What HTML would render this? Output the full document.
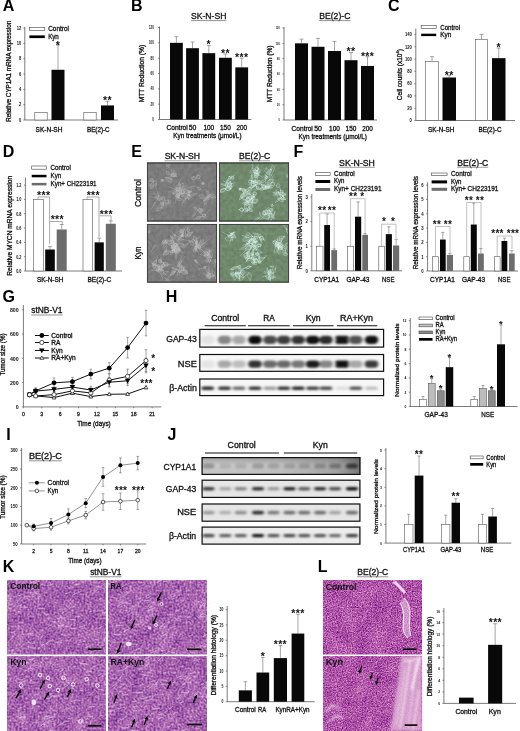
<!DOCTYPE html><html><head><meta charset="utf-8"><style>html,body{margin:0;padding:0;background:#fff;overflow:hidden;}svg{display:block;filter:blur(0.35px);}</style></head><body>
<svg width="520" height="731" viewBox="0 0 520 731" font-family="Liberation Sans, sans-serif">
<defs>
<filter id="texK" x="0" y="0" width="1" height="1" filterUnits="objectBoundingBox" color-interpolation-filters="sRGB">
 <feTurbulence type="fractalNoise" baseFrequency="0.5" numOctaves="2" seed="3" result="hi0"/>
 <feColorMatrix in="hi0" type="matrix" values="1 0 0 0 0  1 0 0 0 0  1 0 0 0 0  0 0 0 0 1" result="hi"/>
 <feTurbulence type="fractalNoise" baseFrequency="0.07" numOctaves="2" seed="8" result="lo0"/>
 <feColorMatrix in="lo0" type="matrix" values="1 0 0 0 0  1 0 0 0 0  1 0 0 0 0  0 0 0 0 1" result="lo"/>
 <feComposite in="hi" in2="lo" operator="arithmetic" k1="0" k2="0.85" k3="0.3" k4="-0.075"/>
 <feColorMatrix type="matrix" values="0.75 0 0 0 0.276  0.85 0 0 0 -0.033  0.5 0 0 0 0.432  0 0 0 0 1"/>
</filter>
<filter id="texL" x="0" y="0" width="1" height="1" filterUnits="objectBoundingBox" color-interpolation-filters="sRGB">
 <feTurbulence type="fractalNoise" baseFrequency="0.8" numOctaves="2" seed="5" result="hi0"/>
 <feColorMatrix in="hi0" type="matrix" values="1 0 0 0 0  1 0 0 0 0  1 0 0 0 0  0 0 0 0 1" result="hi"/>
 <feTurbulence type="fractalNoise" baseFrequency="0.07" numOctaves="2" seed="12" result="lo0"/>
 <feColorMatrix in="lo0" type="matrix" values="1 0 0 0 0  1 0 0 0 0  1 0 0 0 0  0 0 0 0 1" result="lo"/>
 <feComposite in="hi" in2="lo" operator="arithmetic" k1="0" k2="0.9" k3="0.2" k4="-0.05"/>
 <feColorMatrix type="matrix" values="0.8 0 0 0 0.282  1.0 0 0 0 -0.163  0.6 0 0 0 0.359  0 0 0 0 1"/>
</filter>
<filter id="texG" x="0" y="0" width="1" height="1" filterUnits="objectBoundingBox" color-interpolation-filters="sRGB">
 <feTurbulence type="fractalNoise" baseFrequency="0.25" numOctaves="2" seed="9"/>
 <feColorMatrix type="matrix" values="0.12 0 0 0 0.426  0.12 0 0 0 0.426  0.12 0 0 0 0.426  0 0 0 0 1"/>
</filter>
<filter id="texGr" x="0" y="0" width="1" height="1" filterUnits="objectBoundingBox" color-interpolation-filters="sRGB">
 <feTurbulence type="fractalNoise" baseFrequency="0.25" numOctaves="2" seed="11"/>
 <feColorMatrix type="matrix" values="0.12 0 0 0 0.379  0.12 0 0 0 0.473  0.12 0 0 0 0.364  0 0 0 0 1"/>
</filter>
<filter id="bl1" x="-50%" y="-50%" width="200%" height="200%"><feGaussianBlur stdDeviation="1.0"/></filter>
<filter id="bl07" x="-50%" y="-50%" width="200%" height="200%"><feGaussianBlur stdDeviation="0.7"/></filter>
<filter id="blband" x="-50%" y="-50%" width="200%" height="200%"><feGaussianBlur stdDeviation="1.5 1.0"/></filter>
<filter id="bl04" x="-50%" y="-50%" width="200%" height="200%"><feGaussianBlur stdDeviation="0.4"/></filter>

</defs>
<text x="2.80" y="11.40" font-size="16" text-anchor="start" font-weight="bold" fill="#000">A</text>
<line x1="24.80" y1="27.00" x2="24.80" y2="120.00" stroke="#444" stroke-width="0.7"/>
<line x1="23.30" y1="120.00" x2="24.80" y2="120.00" stroke="#444" stroke-width="0.6"/>
<text x="21.30" y="121.80" font-size="5.0" text-anchor="end" font-weight="bold" textLength="2.25" lengthAdjust="spacingAndGlyphs" fill="#111">0</text>
<line x1="23.30" y1="104.67" x2="24.80" y2="104.67" stroke="#444" stroke-width="0.6"/>
<text x="21.30" y="106.47" font-size="5.0" text-anchor="end" font-weight="bold" textLength="2.25" lengthAdjust="spacingAndGlyphs" fill="#111">2</text>
<line x1="23.30" y1="89.33" x2="24.80" y2="89.33" stroke="#444" stroke-width="0.6"/>
<text x="21.30" y="91.13" font-size="5.0" text-anchor="end" font-weight="bold" textLength="2.25" lengthAdjust="spacingAndGlyphs" fill="#111">4</text>
<line x1="23.30" y1="74.00" x2="24.80" y2="74.00" stroke="#444" stroke-width="0.6"/>
<text x="21.30" y="75.80" font-size="5.0" text-anchor="end" font-weight="bold" textLength="2.25" lengthAdjust="spacingAndGlyphs" fill="#111">6</text>
<line x1="23.30" y1="58.67" x2="24.80" y2="58.67" stroke="#444" stroke-width="0.6"/>
<text x="21.30" y="60.47" font-size="5.0" text-anchor="end" font-weight="bold" textLength="2.25" lengthAdjust="spacingAndGlyphs" fill="#111">8</text>
<line x1="23.30" y1="43.33" x2="24.80" y2="43.33" stroke="#444" stroke-width="0.6"/>
<text x="21.30" y="45.13" font-size="5.0" text-anchor="end" font-weight="bold" textLength="4.5" lengthAdjust="spacingAndGlyphs" fill="#111">10</text>
<line x1="23.30" y1="28.00" x2="24.80" y2="28.00" stroke="#444" stroke-width="0.6"/>
<text x="21.30" y="29.80" font-size="5.0" text-anchor="end" font-weight="bold" textLength="4.5" lengthAdjust="spacingAndGlyphs" fill="#111">12</text>
<line x1="24.80" y1="120.00" x2="118.00" y2="120.00" stroke="#444" stroke-width="0.7"/>
<rect x="34.80" y="112.33" width="12.40" height="7.67" fill="#fff" stroke="#555" stroke-width="0.6"/>
<line x1="58.00" y1="69.78" x2="58.00" y2="44.87" stroke="#777" stroke-width="0.65"/>
<line x1="56.00" y1="44.87" x2="60.00" y2="44.87" stroke="#777" stroke-width="0.65"/>
<rect x="51.50" y="69.78" width="13.00" height="50.22" fill="#080808"/>
<text x="58.00" y="48.86" font-size="10.5" text-anchor="middle" font-weight="bold" fill="#111" letter-spacing="0.3">*</text>
<rect x="83.80" y="112.33" width="12.40" height="7.67" fill="#fff" stroke="#555" stroke-width="0.6"/>
<line x1="107.50" y1="105.43" x2="107.50" y2="101.22" stroke="#777" stroke-width="0.65"/>
<line x1="105.50" y1="101.22" x2="109.50" y2="101.22" stroke="#777" stroke-width="0.65"/>
<rect x="101.00" y="105.43" width="13.00" height="14.57" fill="#080808"/>
<text x="107.50" y="104.36" font-size="10.5" text-anchor="middle" font-weight="bold" fill="#111" letter-spacing="0.3">**</text>
<rect x="29.40" y="27.30" width="15.40" height="3.20" fill="#fff" stroke="#444" stroke-width="0.6"/>
<text x="48.20" y="31.10" font-size="7.2" text-anchor="start" textLength="20.7" lengthAdjust="spacingAndGlyphs" fill="#111" stroke="#111" stroke-width="0.3">Control</text>
<rect x="29.40" y="35.40" width="15.40" height="2.70" fill="#000"/>
<text x="48.20" y="38.90" font-size="7.2" text-anchor="start" textLength="10.6" lengthAdjust="spacingAndGlyphs" fill="#111" stroke="#111" stroke-width="0.3">Kyn</text>
<text x="49.00" y="132.00" font-size="6.8" text-anchor="middle" textLength="26.9" lengthAdjust="spacingAndGlyphs" fill="#111" stroke="#111" stroke-width="0.3">SK-N-SH</text>
<text x="98.30" y="132.00" font-size="6.8" text-anchor="middle" textLength="22.7" lengthAdjust="spacingAndGlyphs" fill="#111" stroke="#111" stroke-width="0.3">BE(2)-C</text>
<text x="10.90" y="71.20" font-size="6.5" text-anchor="middle" textLength="101" lengthAdjust="spacingAndGlyphs" fill="#111" stroke="#111" stroke-width="0.3" transform="rotate(-90 10.9 71.2)">Relative CYP1A1 mRNA expression</text>
<text x="131.00" y="11.40" font-size="16" text-anchor="start" font-weight="bold" fill="#000">B</text>
<line x1="159.50" y1="26.50" x2="159.50" y2="119.50" stroke="#444" stroke-width="0.7"/>
<line x1="158.00" y1="119.50" x2="159.50" y2="119.50" stroke="#444" stroke-width="0.6"/>
<text x="153.80" y="121.12" font-size="4.5" text-anchor="end" font-weight="bold" textLength="1.6" lengthAdjust="spacingAndGlyphs" fill="#111">0</text>
<line x1="158.00" y1="104.17" x2="159.50" y2="104.17" stroke="#444" stroke-width="0.6"/>
<text x="153.80" y="105.79" font-size="4.5" text-anchor="end" font-weight="bold" textLength="3.19" lengthAdjust="spacingAndGlyphs" fill="#111">20</text>
<line x1="158.00" y1="88.83" x2="159.50" y2="88.83" stroke="#444" stroke-width="0.6"/>
<text x="153.80" y="90.45" font-size="4.5" text-anchor="end" font-weight="bold" textLength="3.19" lengthAdjust="spacingAndGlyphs" fill="#111">40</text>
<line x1="158.00" y1="73.50" x2="159.50" y2="73.50" stroke="#444" stroke-width="0.6"/>
<text x="153.80" y="75.12" font-size="4.5" text-anchor="end" font-weight="bold" textLength="3.19" lengthAdjust="spacingAndGlyphs" fill="#111">60</text>
<line x1="158.00" y1="58.17" x2="159.50" y2="58.17" stroke="#444" stroke-width="0.6"/>
<text x="153.80" y="59.79" font-size="4.5" text-anchor="end" font-weight="bold" textLength="3.19" lengthAdjust="spacingAndGlyphs" fill="#111">80</text>
<line x1="158.00" y1="42.83" x2="159.50" y2="42.83" stroke="#444" stroke-width="0.6"/>
<text x="153.80" y="44.45" font-size="4.5" text-anchor="end" font-weight="bold" textLength="4.79" lengthAdjust="spacingAndGlyphs" fill="#111">100</text>
<line x1="158.00" y1="27.50" x2="159.50" y2="27.50" stroke="#444" stroke-width="0.6"/>
<text x="153.80" y="29.12" font-size="4.5" text-anchor="end" font-weight="bold" textLength="4.79" lengthAdjust="spacingAndGlyphs" fill="#111">120</text>
<line x1="159.50" y1="119.50" x2="251.30" y2="119.50" stroke="#444" stroke-width="0.7"/>
<line x1="176.40" y1="42.83" x2="176.40" y2="36.70" stroke="#777" stroke-width="0.65"/>
<line x1="174.40" y1="36.70" x2="178.40" y2="36.70" stroke="#777" stroke-width="0.65"/>
<rect x="170.00" y="42.83" width="12.80" height="76.67" fill="#080808"/>
<line x1="192.50" y1="48.20" x2="192.50" y2="42.07" stroke="#777" stroke-width="0.65"/>
<line x1="190.50" y1="42.07" x2="194.50" y2="42.07" stroke="#777" stroke-width="0.65"/>
<rect x="186.10" y="48.20" width="12.80" height="71.30" fill="#080808"/>
<line x1="208.80" y1="53.18" x2="208.80" y2="45.52" stroke="#777" stroke-width="0.65"/>
<line x1="206.80" y1="45.52" x2="210.80" y2="45.52" stroke="#777" stroke-width="0.65"/>
<rect x="202.40" y="53.18" width="12.80" height="66.32" fill="#080808"/>
<text x="208.80" y="48.37" font-size="10.5" text-anchor="middle" font-weight="bold" fill="#111" letter-spacing="0.3">*</text>
<line x1="225.40" y1="57.78" x2="225.40" y2="53.95" stroke="#777" stroke-width="0.65"/>
<line x1="223.40" y1="53.95" x2="227.40" y2="53.95" stroke="#777" stroke-width="0.65"/>
<rect x="219.00" y="57.78" width="12.80" height="61.72" fill="#080808"/>
<text x="225.40" y="56.81" font-size="10.5" text-anchor="middle" font-weight="bold" fill="#111" letter-spacing="0.3">**</text>
<line x1="241.70" y1="67.37" x2="241.70" y2="58.17" stroke="#777" stroke-width="0.65"/>
<line x1="239.70" y1="58.17" x2="243.70" y2="58.17" stroke="#777" stroke-width="0.65"/>
<rect x="235.30" y="67.37" width="12.80" height="52.13" fill="#080808"/>
<text x="241.70" y="61.02" font-size="10.5" text-anchor="middle" font-weight="bold" fill="#111" letter-spacing="0.3">***</text>
<text x="208.70" y="18.60" font-size="8.6" text-anchor="middle" textLength="35.4" lengthAdjust="spacingAndGlyphs" fill="#111" stroke="#111" stroke-width="0.3">SK-N-SH</text>
<line x1="191.00" y1="20.60" x2="226.40" y2="20.60" stroke="#666" stroke-width="0.7"/>
<text x="144.30" y="73.60" font-size="6.3" text-anchor="middle" textLength="57.5" lengthAdjust="spacingAndGlyphs" fill="#111" stroke="#111" stroke-width="0.3" transform="rotate(-90 144.3 73.6)">MTT Reduction (%)</text>
<text x="177.10" y="129.90" font-size="6.8" text-anchor="middle" textLength="21.2" lengthAdjust="spacingAndGlyphs" fill="#111" stroke="#111" stroke-width="0.3">Control</text>
<text x="192.50" y="129.90" font-size="6.8" text-anchor="middle" textLength="7.7" lengthAdjust="spacingAndGlyphs" fill="#111" stroke="#111" stroke-width="0.3">50</text>
<text x="208.80" y="129.90" font-size="6.8" text-anchor="middle" textLength="10.8" lengthAdjust="spacingAndGlyphs" fill="#111" stroke="#111" stroke-width="0.3">100</text>
<text x="225.40" y="129.90" font-size="6.8" text-anchor="middle" textLength="10.8" lengthAdjust="spacingAndGlyphs" fill="#111" stroke="#111" stroke-width="0.3">150</text>
<text x="241.70" y="129.90" font-size="6.8" text-anchor="middle" textLength="10.6" lengthAdjust="spacingAndGlyphs" fill="#111" stroke="#111" stroke-width="0.3">200</text>
<text x="207.40" y="137.50" font-size="6.8" text-anchor="middle" textLength="68.3" lengthAdjust="spacingAndGlyphs" fill="#111" stroke="#111" stroke-width="0.3">Kyn treatments (&#956;mol/L)</text>
<line x1="284.00" y1="27.00" x2="284.00" y2="120.00" stroke="#444" stroke-width="0.7"/>
<line x1="282.50" y1="120.00" x2="284.00" y2="120.00" stroke="#444" stroke-width="0.6"/>
<text x="279.80" y="121.44" font-size="4.0" text-anchor="end" font-weight="bold" textLength="1.34" lengthAdjust="spacingAndGlyphs" fill="#111">0</text>
<line x1="282.50" y1="104.67" x2="284.00" y2="104.67" stroke="#444" stroke-width="0.6"/>
<text x="279.80" y="106.11" font-size="4.0" text-anchor="end" font-weight="bold" textLength="2.68" lengthAdjust="spacingAndGlyphs" fill="#111">20</text>
<line x1="282.50" y1="89.33" x2="284.00" y2="89.33" stroke="#444" stroke-width="0.6"/>
<text x="279.80" y="90.77" font-size="4.0" text-anchor="end" font-weight="bold" textLength="2.68" lengthAdjust="spacingAndGlyphs" fill="#111">40</text>
<line x1="282.50" y1="74.00" x2="284.00" y2="74.00" stroke="#444" stroke-width="0.6"/>
<text x="279.80" y="75.44" font-size="4.0" text-anchor="end" font-weight="bold" textLength="2.68" lengthAdjust="spacingAndGlyphs" fill="#111">60</text>
<line x1="282.50" y1="58.67" x2="284.00" y2="58.67" stroke="#444" stroke-width="0.6"/>
<text x="279.80" y="60.11" font-size="4.0" text-anchor="end" font-weight="bold" textLength="2.68" lengthAdjust="spacingAndGlyphs" fill="#111">80</text>
<line x1="282.50" y1="43.33" x2="284.00" y2="43.33" stroke="#444" stroke-width="0.6"/>
<text x="279.80" y="44.77" font-size="4.0" text-anchor="end" font-weight="bold" textLength="4.02" lengthAdjust="spacingAndGlyphs" fill="#111">100</text>
<line x1="282.50" y1="28.00" x2="284.00" y2="28.00" stroke="#444" stroke-width="0.6"/>
<text x="279.80" y="29.44" font-size="4.0" text-anchor="end" font-weight="bold" textLength="4.02" lengthAdjust="spacingAndGlyphs" fill="#111">120</text>
<line x1="284.00" y1="120.00" x2="377.00" y2="120.00" stroke="#444" stroke-width="0.7"/>
<line x1="301.50" y1="43.33" x2="301.50" y2="39.12" stroke="#777" stroke-width="0.65"/>
<line x1="299.50" y1="39.12" x2="303.50" y2="39.12" stroke="#777" stroke-width="0.65"/>
<rect x="295.00" y="43.33" width="13.00" height="76.67" fill="#080808"/>
<line x1="318.00" y1="46.78" x2="318.00" y2="38.35" stroke="#777" stroke-width="0.65"/>
<line x1="316.00" y1="38.35" x2="320.00" y2="38.35" stroke="#777" stroke-width="0.65"/>
<rect x="311.50" y="46.78" width="13.00" height="73.22" fill="#080808"/>
<line x1="334.50" y1="51.00" x2="334.50" y2="41.42" stroke="#777" stroke-width="0.65"/>
<line x1="332.50" y1="41.42" x2="336.50" y2="41.42" stroke="#777" stroke-width="0.65"/>
<rect x="328.00" y="51.00" width="13.00" height="69.00" fill="#080808"/>
<line x1="351.00" y1="60.20" x2="351.00" y2="52.53" stroke="#777" stroke-width="0.65"/>
<line x1="349.00" y1="52.53" x2="353.00" y2="52.53" stroke="#777" stroke-width="0.65"/>
<rect x="344.50" y="60.20" width="13.00" height="59.80" fill="#080808"/>
<text x="351.00" y="55.39" font-size="10.5" text-anchor="middle" font-weight="bold" fill="#111" letter-spacing="0.3">**</text>
<line x1="367.50" y1="65.95" x2="367.50" y2="56.75" stroke="#777" stroke-width="0.65"/>
<line x1="365.50" y1="56.75" x2="369.50" y2="56.75" stroke="#777" stroke-width="0.65"/>
<rect x="361.00" y="65.95" width="13.00" height="54.05" fill="#080808"/>
<text x="367.50" y="59.61" font-size="10.5" text-anchor="middle" font-weight="bold" fill="#111" letter-spacing="0.3">***</text>
<text x="334.80" y="18.60" font-size="8.6" text-anchor="middle" textLength="31.2" lengthAdjust="spacingAndGlyphs" fill="#111" stroke="#111" stroke-width="0.3">BE(2)-C</text>
<line x1="319.20" y1="20.60" x2="350.40" y2="20.60" stroke="#666" stroke-width="0.7"/>
<text x="272.00" y="73.90" font-size="6.3" text-anchor="middle" textLength="56.8" lengthAdjust="spacingAndGlyphs" fill="#111" stroke="#111" stroke-width="0.3" transform="rotate(-90 272 73.9)">MTT Reduction (%)</text>
<text x="302.20" y="131.10" font-size="6.8" text-anchor="middle" textLength="21.2" lengthAdjust="spacingAndGlyphs" fill="#111" stroke="#111" stroke-width="0.3">Control</text>
<text x="318.00" y="131.10" font-size="6.8" text-anchor="middle" textLength="7.7" lengthAdjust="spacingAndGlyphs" fill="#111" stroke="#111" stroke-width="0.3">50</text>
<text x="334.50" y="131.10" font-size="6.8" text-anchor="middle" textLength="10.8" lengthAdjust="spacingAndGlyphs" fill="#111" stroke="#111" stroke-width="0.3">100</text>
<text x="351.00" y="131.10" font-size="6.8" text-anchor="middle" textLength="10.8" lengthAdjust="spacingAndGlyphs" fill="#111" stroke="#111" stroke-width="0.3">150</text>
<text x="367.50" y="131.10" font-size="6.8" text-anchor="middle" textLength="10.6" lengthAdjust="spacingAndGlyphs" fill="#111" stroke="#111" stroke-width="0.3">200</text>
<text x="332.75" y="138.70" font-size="6.8" text-anchor="middle" textLength="68.3" lengthAdjust="spacingAndGlyphs" fill="#111" stroke="#111" stroke-width="0.3">Kyn treatments (&#956;mol/L)</text>
<text x="388.10" y="11.40" font-size="16" text-anchor="start" font-weight="bold" fill="#000">C</text>
<line x1="415.80" y1="28.50" x2="415.80" y2="120.50" stroke="#444" stroke-width="0.7"/>
<line x1="414.30" y1="120.50" x2="415.80" y2="120.50" stroke="#444" stroke-width="0.6"/>
<text x="411.90" y="122.25" font-size="4.875" text-anchor="end" font-weight="bold" textLength="2.29" lengthAdjust="spacingAndGlyphs" fill="#111">0</text>
<line x1="414.30" y1="108.21" x2="415.80" y2="108.21" stroke="#444" stroke-width="0.6"/>
<text x="411.90" y="109.97" font-size="4.875" text-anchor="end" font-weight="bold" textLength="4.58" lengthAdjust="spacingAndGlyphs" fill="#111">20</text>
<line x1="414.30" y1="95.93" x2="415.80" y2="95.93" stroke="#444" stroke-width="0.6"/>
<text x="411.90" y="97.68" font-size="4.875" text-anchor="end" font-weight="bold" textLength="4.58" lengthAdjust="spacingAndGlyphs" fill="#111">40</text>
<line x1="414.30" y1="83.64" x2="415.80" y2="83.64" stroke="#444" stroke-width="0.6"/>
<text x="411.90" y="85.40" font-size="4.875" text-anchor="end" font-weight="bold" textLength="4.58" lengthAdjust="spacingAndGlyphs" fill="#111">60</text>
<line x1="414.30" y1="71.36" x2="415.80" y2="71.36" stroke="#444" stroke-width="0.6"/>
<text x="411.90" y="73.11" font-size="4.875" text-anchor="end" font-weight="bold" textLength="4.58" lengthAdjust="spacingAndGlyphs" fill="#111">80</text>
<line x1="414.30" y1="59.07" x2="415.80" y2="59.07" stroke="#444" stroke-width="0.6"/>
<text x="411.90" y="60.83" font-size="4.875" text-anchor="end" font-weight="bold" textLength="6.87" lengthAdjust="spacingAndGlyphs" fill="#111">100</text>
<line x1="414.30" y1="46.79" x2="415.80" y2="46.79" stroke="#444" stroke-width="0.6"/>
<text x="411.90" y="48.54" font-size="4.875" text-anchor="end" font-weight="bold" textLength="6.87" lengthAdjust="spacingAndGlyphs" fill="#111">120</text>
<line x1="414.30" y1="34.50" x2="415.80" y2="34.50" stroke="#444" stroke-width="0.6"/>
<text x="411.90" y="36.26" font-size="4.875" text-anchor="end" font-weight="bold" textLength="6.87" lengthAdjust="spacingAndGlyphs" fill="#111">140</text>
<line x1="415.80" y1="120.50" x2="515.00" y2="120.50" stroke="#444" stroke-width="0.7"/>
<line x1="432.00" y1="61.53" x2="432.00" y2="56.61" stroke="#777" stroke-width="0.65"/>
<line x1="430.00" y1="56.61" x2="434.00" y2="56.61" stroke="#777" stroke-width="0.65"/>
<rect x="425.30" y="61.53" width="13.40" height="58.97" fill="#fff" stroke="#555" stroke-width="0.6"/>
<line x1="449.25" y1="77.50" x2="449.25" y2="75.66" stroke="#777" stroke-width="0.65"/>
<line x1="447.25" y1="75.66" x2="451.25" y2="75.66" stroke="#777" stroke-width="0.65"/>
<rect x="442.50" y="77.50" width="13.50" height="43.00" fill="#080808"/>
<text x="449.25" y="79.36" font-size="10.5" text-anchor="middle" font-weight="bold" fill="#111" letter-spacing="0.3">**</text>
<line x1="481.50" y1="39.41" x2="481.50" y2="34.50" stroke="#777" stroke-width="0.65"/>
<line x1="479.50" y1="34.50" x2="483.50" y2="34.50" stroke="#777" stroke-width="0.65"/>
<rect x="475.30" y="39.41" width="12.40" height="81.09" fill="#fff" stroke="#555" stroke-width="0.6"/>
<line x1="498.75" y1="58.15" x2="498.75" y2="48.01" stroke="#777" stroke-width="0.65"/>
<line x1="496.75" y1="48.01" x2="500.75" y2="48.01" stroke="#777" stroke-width="0.65"/>
<rect x="492.00" y="58.15" width="13.50" height="62.35" fill="#080808"/>
<text x="498.75" y="51.36" font-size="10.5" text-anchor="middle" font-weight="bold" fill="#111" letter-spacing="0.3">*</text>
<rect x="421.20" y="25.60" width="15.00" height="2.90" fill="#fff" stroke="#444" stroke-width="0.6"/>
<text x="440.20" y="29.60" font-size="7.2" text-anchor="start" textLength="20" lengthAdjust="spacingAndGlyphs" fill="#111" stroke="#111" stroke-width="0.3">Control</text>
<rect x="421.20" y="33.70" width="15.00" height="2.40" fill="#000"/>
<text x="440.20" y="37.30" font-size="7.2" text-anchor="start" textLength="11" lengthAdjust="spacingAndGlyphs" fill="#111" stroke="#111" stroke-width="0.3">Kyn</text>
<text x="441.20" y="131.60" font-size="6.8" text-anchor="middle" textLength="26.3" lengthAdjust="spacingAndGlyphs" fill="#111" stroke="#111" stroke-width="0.3">SK-N-SH</text>
<text x="490.00" y="131.60" font-size="6.8" text-anchor="middle" textLength="23" lengthAdjust="spacingAndGlyphs" fill="#111" stroke="#111" stroke-width="0.3">BE(2)-C</text>
<text x="401.60" y="74.60" font-size="6.5" text-anchor="middle" fill="#111" stroke="#111" stroke-width="0.3" transform="rotate(-90 401.6 74.6)">Cell counts (x10<tspan font-size="4.2" dy="-2.5">4</tspan><tspan dy="2.5">)</tspan></text>
<text x="2.70" y="157.40" font-size="16" text-anchor="start" font-weight="bold" fill="#000">D</text>
<line x1="25.40" y1="177.50" x2="25.40" y2="271.00" stroke="#444" stroke-width="0.7"/>
<line x1="23.90" y1="271.00" x2="25.40" y2="271.00" stroke="#444" stroke-width="0.6"/>
<text x="21.50" y="272.85" font-size="5.125" text-anchor="end" font-weight="bold" textLength="5.32" lengthAdjust="spacingAndGlyphs" fill="#111">0.0</text>
<line x1="23.90" y1="256.68" x2="25.40" y2="256.68" stroke="#444" stroke-width="0.6"/>
<text x="21.50" y="258.53" font-size="5.125" text-anchor="end" font-weight="bold" textLength="5.32" lengthAdjust="spacingAndGlyphs" fill="#111">0.2</text>
<line x1="23.90" y1="242.36" x2="25.40" y2="242.36" stroke="#444" stroke-width="0.6"/>
<text x="21.50" y="244.21" font-size="5.125" text-anchor="end" font-weight="bold" textLength="5.32" lengthAdjust="spacingAndGlyphs" fill="#111">0.4</text>
<line x1="23.90" y1="228.04" x2="25.40" y2="228.04" stroke="#444" stroke-width="0.6"/>
<text x="21.50" y="229.89" font-size="5.125" text-anchor="end" font-weight="bold" textLength="5.32" lengthAdjust="spacingAndGlyphs" fill="#111">0.6</text>
<line x1="23.90" y1="213.72" x2="25.40" y2="213.72" stroke="#444" stroke-width="0.6"/>
<text x="21.50" y="215.56" font-size="5.125" text-anchor="end" font-weight="bold" textLength="5.32" lengthAdjust="spacingAndGlyphs" fill="#111">0.8</text>
<line x1="23.90" y1="199.40" x2="25.40" y2="199.40" stroke="#444" stroke-width="0.6"/>
<text x="21.50" y="201.25" font-size="5.125" text-anchor="end" font-weight="bold" textLength="5.32" lengthAdjust="spacingAndGlyphs" fill="#111">1.0</text>
<line x1="23.90" y1="185.08" x2="25.40" y2="185.08" stroke="#444" stroke-width="0.6"/>
<text x="21.50" y="186.93" font-size="5.125" text-anchor="end" font-weight="bold" textLength="5.32" lengthAdjust="spacingAndGlyphs" fill="#111">1.2</text>
<line x1="25.40" y1="271.00" x2="122.00" y2="271.00" stroke="#444" stroke-width="0.7"/>
<line x1="50.00" y1="249.52" x2="50.00" y2="246.66" stroke="#777" stroke-width="0.65"/>
<line x1="48.00" y1="246.66" x2="52.00" y2="246.66" stroke="#777" stroke-width="0.65"/>
<rect x="45.20" y="249.52" width="9.60" height="21.48" fill="#080808"/>
<line x1="61.70" y1="229.47" x2="61.70" y2="224.46" stroke="#777" stroke-width="0.65"/>
<line x1="59.70" y1="224.46" x2="63.70" y2="224.46" stroke="#777" stroke-width="0.65"/>
<rect x="56.70" y="229.47" width="10.00" height="41.53" fill="#6c6c6c"/>
<rect x="33.40" y="199.40" width="10.00" height="71.60" fill="#fff" stroke="#555" stroke-width="0.6"/>
<line x1="99.20" y1="242.36" x2="99.20" y2="238.06" stroke="#777" stroke-width="0.65"/>
<line x1="97.20" y1="238.06" x2="101.20" y2="238.06" stroke="#777" stroke-width="0.65"/>
<rect x="94.60" y="242.36" width="9.20" height="28.64" fill="#080808"/>
<line x1="110.80" y1="223.74" x2="110.80" y2="220.88" stroke="#777" stroke-width="0.65"/>
<line x1="108.80" y1="220.88" x2="112.80" y2="220.88" stroke="#777" stroke-width="0.65"/>
<rect x="105.80" y="223.74" width="10.00" height="47.26" fill="#6c6c6c"/>
<rect x="83.00" y="199.40" width="9.40" height="71.60" fill="#fff" stroke="#555" stroke-width="0.6"/>
<polyline points="38.00,199.40 38.00,197.00 49.60,197.00 49.60,243.60" stroke="#888" stroke-width="0.7" fill="none"/>
<polyline points="50.00,221.50 62.30,221.50 62.30,225.00" stroke="#888" stroke-width="0.7" fill="none"/>
<polyline points="87.00,199.40 87.00,197.00 99.00,197.00 99.00,237.00" stroke="#888" stroke-width="0.7" fill="none"/>
<polyline points="99.60,215.80 111.00,215.80 111.00,220.60" stroke="#888" stroke-width="0.7" fill="none"/>
<text x="43.70" y="199.05" font-size="10.5" text-anchor="middle" font-weight="bold" fill="#111" letter-spacing="0.3">***</text>
<text x="57.30" y="223.35" font-size="10.5" text-anchor="middle" font-weight="bold" fill="#111" letter-spacing="0.3">***</text>
<text x="93.30" y="199.05" font-size="10.5" text-anchor="middle" font-weight="bold" fill="#111" letter-spacing="0.3">***</text>
<text x="106.30" y="217.85" font-size="10.5" text-anchor="middle" font-weight="bold" fill="#111" letter-spacing="0.3">***</text>
<rect x="31.70" y="166.00" width="14.80" height="3.20" fill="#fff" stroke="#444" stroke-width="0.6"/>
<text x="50.60" y="170.10" font-size="7.2" text-anchor="start" textLength="20.2" lengthAdjust="spacingAndGlyphs" fill="#111" stroke="#111" stroke-width="0.3">Control</text>
<rect x="31.70" y="174.80" width="14.80" height="2.50" fill="#000"/>
<text x="50.60" y="178.20" font-size="7.2" text-anchor="start" textLength="10.5" lengthAdjust="spacingAndGlyphs" fill="#111" stroke="#111" stroke-width="0.3">Kyn</text>
<rect x="31.70" y="182.90" width="14.80" height="2.50" fill="#6c6c6c"/>
<text x="50.60" y="185.90" font-size="7.2" text-anchor="start" textLength="46" lengthAdjust="spacingAndGlyphs" fill="#111" stroke="#111" stroke-width="0.3">Kyn+ CH223191</text>
<text x="50.20" y="281.60" font-size="6.8" text-anchor="middle" textLength="26.6" lengthAdjust="spacingAndGlyphs" fill="#111" stroke="#111" stroke-width="0.3">SK-N-SH</text>
<text x="99.30" y="281.60" font-size="6.8" text-anchor="middle" textLength="23.7" lengthAdjust="spacingAndGlyphs" fill="#111" stroke="#111" stroke-width="0.3">BE(2)-C</text>
<text x="11.70" y="225.80" font-size="6.5" text-anchor="middle" textLength="100" lengthAdjust="spacingAndGlyphs" fill="#111" stroke="#111" stroke-width="0.3" transform="rotate(-90 11.7 225.8)">Relative MYCN mRNA expression</text>
<text x="131.20" y="157.40" font-size="16" text-anchor="start" font-weight="bold" fill="#000">E</text>
<text x="182.30" y="159.20" font-size="8.4" text-anchor="middle" textLength="35.3" lengthAdjust="spacingAndGlyphs" fill="#111" stroke="#111" stroke-width="0.3">SK-N-SH</text>
<line x1="164.50" y1="160.80" x2="200.00" y2="160.80" stroke="#777" stroke-width="0.7"/>
<text x="254.60" y="159.20" font-size="8.4" text-anchor="middle" textLength="31" lengthAdjust="spacingAndGlyphs" fill="#111" stroke="#111" stroke-width="0.3">BE(2)-C</text>
<line x1="239.00" y1="160.80" x2="270.20" y2="160.80" stroke="#777" stroke-width="0.7"/>
<text x="140.50" y="193.00" font-size="8.4" text-anchor="middle" textLength="28" lengthAdjust="spacingAndGlyphs" fill="#111" stroke="#111" stroke-width="0.3" transform="rotate(-90 140.5 193)">Control</text>
<text x="140.50" y="253.00" font-size="8.4" text-anchor="middle" textLength="13" lengthAdjust="spacingAndGlyphs" fill="#111" stroke="#111" stroke-width="0.3" transform="rotate(-90 140.5 253)">Kyn</text>
<clipPath id="clip101"><rect x="147" y="162.8" width="70" height="58.4"/></clipPath>
<rect x="147" y="162.8" width="70" height="58.4" filter="url(#texG)"/>
<g clip-path="url(#clip101)">
<g filter="url(#bl07)" fill="#cfcfcf">
<path d="M182.6 189.1 Q176.8 186.3 175.9 189.5 Q177.1 192.5 182.6 189.1Z" opacity="0.16"/>
<path d="M191.0 187.4 Q188.3 188.7 191.4 190.2 Q194.0 187.8 191.0 187.4Z" opacity="0.06"/>
<path d="M176.7 190.3 Q172.0 192.1 172.6 194.5 Q174.9 195.0 176.7 190.3Z" opacity="0.09"/>
<path d="M181.8 193.2 Q180.2 197.0 183.7 195.3 Q185.8 191.9 181.8 193.2Z" opacity="0.12"/>
<path d="M182.7 196.5 Q178.0 194.1 177.6 200.2 Q183.6 201.7 182.7 196.5Z" opacity="0.10"/>
<path d="M186.3 197.8 Q182.9 198.7 182.3 202.9 Q186.2 201.3 186.3 197.8Z" opacity="0.10"/>
<path d="M183.3 190.9 Q184.1 194.6 186.4 193.4 Q187.1 190.9 183.3 190.9Z" opacity="0.14"/>
<path d="M187.8 194.4 Q187.0 196.7 190.3 196.1 Q189.7 192.8 187.8 194.4Z" opacity="0.16"/>
<path d="M179.7 192.4 Q174.0 195.3 176.4 198.1 Q180.0 198.8 179.7 192.4Z" opacity="0.12"/>
<path d="M176.6 195.9 Q177.7 198.8 180.7 198.7 Q179.7 195.9 176.6 195.9Z" opacity="0.13"/>
<path d="M179.4 189.5 Q174.8 191.2 179.1 195.9 Q183.8 191.5 179.4 189.5Z" opacity="0.17"/>
<path d="M176.6 190.2 Q175.1 196.7 179.5 195.2 Q183.0 192.1 176.6 190.2Z" opacity="0.09"/>
<path d="M188.5 192.7 Q185.1 194.4 188.9 200.2 Q192.0 194.0 188.5 192.7Z" opacity="0.20"/>
<path d="M179.3 182.6 Q177.0 183.9 178.3 185.5 Q180.3 185.1 179.3 182.6Z" opacity="0.06"/>
<path d="M189.8 187.2 Q186.4 183.8 181.9 187.4 Q186.5 190.8 189.8 187.2Z" opacity="0.11"/>
<path d="M177.0 193.3 Q176.7 195.8 179.0 195.9 Q179.5 193.6 177.0 193.3Z" opacity="0.18"/>
<path d="M172.8 192.4 Q175.1 197.9 178.7 197.8 Q178.5 194.2 172.8 192.4Z" opacity="0.09"/>
<path d="M185.8 190.0 Q187.5 194.7 189.9 192.1 Q190.6 188.7 185.8 190.0Z" opacity="0.11"/>
<path d="M181.1 189.0 Q177.5 185.7 173.7 190.6 Q179.2 193.5 181.1 189.0Z" opacity="0.08"/>
<path d="M191.0 191.5 Q189.0 189.4 188.5 192.3 Q190.6 194.3 191.0 191.5Z" opacity="0.20"/>
<path d="M187.1 190.3 Q187.5 193.0 190.3 192.1 Q189.6 189.3 187.1 190.3Z" opacity="0.18"/>
<path d="M185.3 189.0 Q178.4 189.5 179.8 194.2 Q184.5 195.9 185.3 189.0Z" opacity="0.07"/>
<path d="M181.3 191.0 Q180.0 195.3 184.0 193.3 Q185.3 189.1 181.3 191.0Z" opacity="0.14"/>
<path d="M185.2 196.5 Q184.9 201.2 187.7 197.6 Q188.4 193.0 185.2 196.5Z" opacity="0.08"/>
<path d="M183.0 183.4 Q178.6 183.4 179.7 188.5 Q184.8 187.4 183.0 183.4Z" opacity="0.06"/>
<path d="M179.8 182.8 Q173.3 186.8 177.3 189.2 Q181.9 190.1 179.8 182.8Z" opacity="0.09"/>
<path d="M156.5 200.7 Q154.3 200.8 152.8 206.8 Q157.3 202.6 156.5 200.7Z" opacity="0.16"/>
<path d="M161.4 208.2 Q159.4 206.1 155.9 210.9 Q161.9 211.1 161.4 208.2Z" opacity="0.13"/>
<path d="M155.3 198.0 Q155.7 199.8 162.9 199.4 Q156.3 196.4 155.3 198.0Z" opacity="0.10"/>
<path d="M163.6 202.9 Q159.0 200.1 160.8 204.5 Q163.7 208.4 163.6 202.9Z" opacity="0.14"/>
<path d="M165.7 203.3 Q161.5 201.7 162.9 205.4 Q166.0 207.8 165.7 203.3Z" opacity="0.07"/>
<path d="M168.3 200.1 Q163.1 198.9 165.7 203.1 Q170.2 205.1 168.3 200.1Z" opacity="0.11"/>
<path d="M163.3 200.9 Q159.8 200.3 160.4 203.7 Q163.8 204.5 163.3 200.9Z" opacity="0.07"/>
<path d="M158.8 195.5 Q155.4 200.6 160.0 200.6 Q164.2 198.4 158.8 195.5Z" opacity="0.18"/>
<path d="M164.0 197.1 Q161.2 195.2 162.3 199.2 Q166.4 199.3 164.0 197.1Z" opacity="0.11"/>
<path d="M163.6 202.4 Q159.8 204.9 161.1 208.2 Q164.4 206.8 163.6 202.4Z" opacity="0.16"/>
<path d="M206.8 191.3 Q204.1 195.1 209.2 193.5 Q210.5 188.4 206.8 191.3Z" opacity="0.11"/>
<path d="M207.3 194.6 Q210.0 197.4 211.9 196.1 Q211.2 194.0 207.3 194.6Z" opacity="0.12"/>
<path d="M209.3 196.2 Q206.8 193.6 206.4 197.2 Q209.1 199.8 209.3 196.2Z" opacity="0.14"/>
<path d="M209.7 194.4 Q208.5 198.7 215.7 197.9 Q212.7 191.3 209.7 194.4Z" opacity="0.10"/>
<path d="M209.0 197.2 Q203.0 195.4 202.9 200.3 Q206.8 203.2 209.0 197.2Z" opacity="0.14"/>
<path d="M203.2 194.3 Q197.2 193.8 199.5 198.2 Q204.0 200.2 203.2 194.3Z" opacity="0.17"/>
<path d="M208.5 195.9 Q204.3 197.8 203.4 201.3 Q206.9 200.2 208.5 195.9Z" opacity="0.07"/>
<path d="M206.2 202.9 Q203.5 202.4 204.6 204.9 Q207.2 205.4 206.2 202.9Z" opacity="0.09"/>
<path d="M212.7 198.7 Q209.3 202.6 211.6 204.2 Q214.2 203.6 212.7 198.7Z" opacity="0.06"/>
<path d="M209.1 197.2 Q205.7 196.0 203.9 203.1 Q210.7 200.4 209.1 197.2Z" opacity="0.13"/>
<path d="M206.2 216.1 Q203.9 213.5 203.4 217.8 Q207.4 219.3 206.2 216.1Z" opacity="0.08"/>
<path d="M201.1 209.3 Q198.9 211.7 203.0 212.0 Q204.1 208.0 201.1 209.3Z" opacity="0.13"/>
<path d="M205.1 214.4 Q202.7 212.5 202.4 216.4 Q206.3 217.2 205.1 214.4Z" opacity="0.08"/>
<path d="M197.3 209.8 Q199.1 214.2 202.2 214.7 Q201.7 211.6 197.3 209.8Z" opacity="0.13"/>
<path d="M194.2 207.2 Q193.6 209.9 196.4 208.4 Q196.0 205.2 194.2 207.2Z" opacity="0.10"/>
<path d="M197.3 210.8 Q191.8 214.2 192.6 216.5 Q195.0 216.9 197.3 210.8Z" opacity="0.16"/>
<path d="M199.3 208.4 Q197.1 213.1 201.4 211.6 Q204.5 208.4 199.3 208.4Z" opacity="0.17"/>
<path d="M201.4 216.6 Q196.9 215.4 196.1 218.6 Q198.9 220.5 201.4 216.6Z" opacity="0.19"/>
<path d="M166.6 171.5 Q164.7 174.7 169.1 174.9 Q170.1 170.6 166.6 171.5Z" opacity="0.12"/>
<path d="M165.2 177.6 Q168.6 184.8 172.0 181.2 Q173.1 176.5 165.2 177.6Z" opacity="0.18"/>
<path d="M167.4 177.9 Q169.6 180.4 173.4 180.0 Q170.6 177.3 167.4 177.9Z" opacity="0.18"/>
<path d="M171.4 169.9 Q170.6 175.4 176.6 175.1 Q176.9 169.2 171.4 169.9Z" opacity="0.11"/>
<path d="M169.9 174.0 Q172.2 177.2 177.1 176.4 Q173.7 172.9 169.9 174.0Z" opacity="0.20"/>
<path d="M175.8 173.9 Q173.5 170.1 170.1 176.3 Q176.9 178.3 175.8 173.9Z" opacity="0.19"/>
<path d="M156.2 183.2 Q153.9 184.0 155.2 186.5 Q157.7 185.2 156.2 183.2Z" opacity="0.08"/>
<path d="M153.4 181.8 Q148.3 185.1 150.7 188.9 Q155.0 187.6 153.4 181.8Z" opacity="0.17"/>
<path d="M153.7 179.2 Q149.3 176.3 150.4 180.7 Q153.1 184.4 153.7 179.2Z" opacity="0.16"/>
<path d="M149.7 180.4 Q152.0 183.0 156.4 181.5 Q152.7 178.7 149.7 180.4Z" opacity="0.15"/>
<path d="M196.4 193.6 Q190.8 193.6 190.4 196.2 Q192.6 197.7 196.4 193.6Z" opacity="0.16"/>
<path d="M153.1 193.2 Q155.9 198.2 158.7 196.1 Q158.8 192.6 153.1 193.2Z" opacity="0.10"/>
<path d="M170.5 201.1 Q166.8 200.2 168.0 203.5 Q171.2 204.8 170.5 201.1Z" opacity="0.18"/>
<path d="M197.4 175.3 Q194.6 179.0 199.4 178.5 Q202.0 174.3 197.4 175.3Z" opacity="0.16"/>
<path d="M175.0 189.1 Q177.5 193.2 179.9 189.7 Q178.5 185.6 175.0 189.1Z" opacity="0.09"/>
<path d="M166.7 162.8 Q164.1 167.1 168.8 167.5 Q171.7 163.7 166.7 162.8Z" opacity="0.20"/>
<path d="M153.6 218.4 Q149.5 219.2 147.4 223.2 Q151.7 222.1 153.6 218.4Z" opacity="0.16"/>
<path d="M197.2 187.1 Q198.1 191.1 200.4 189.7 Q201.2 187.2 197.2 187.1Z" opacity="0.07"/>
<path d="M193.8 176.7 Q189.0 177.6 193.6 180.3 Q198.4 178.1 193.8 176.7Z" opacity="0.06"/>
<path d="M199.9 217.1 Q197.3 214.4 193.5 219.5 Q199.8 220.9 199.9 217.1Z" opacity="0.08"/>
</g>
<g filter="url(#bl04)" fill="none" stroke="#cfcfcf" stroke-linecap="round" opacity="0.7">
<path d="M182.6 189.1 Q176.8 186.3 175.9 189.5 Q177.1 192.5 182.6 189.1Z" stroke-width="0.7" opacity="0.59"/>
<path d="M191.0 187.4 Q188.3 188.7 191.4 190.2 Q194.0 187.8 191.0 187.4Z" stroke-width="0.8" opacity="0.38"/>
<line x1="191.4" y1="190.2" x2="191.6" y2="192.2" stroke-width="0.5" opacity="0.7"/>
<path d="M176.7 190.3 Q172.0 192.1 172.6 194.5 Q174.9 195.0 176.7 190.3Z" stroke-width="0.8" opacity="0.55"/>
<path d="M181.8 193.2 Q180.2 197.0 183.7 195.3 Q185.8 191.9 181.8 193.2Z" stroke-width="0.8" opacity="0.61"/>
<path d="M182.7 196.5 Q178.0 194.1 177.6 200.2 Q183.6 201.7 182.7 196.5Z" stroke-width="0.6" opacity="0.51"/>
<line x1="182.7" y1="196.5" x2="187.5" y2="192.6" stroke-width="0.5" opacity="0.7"/>
<path d="M186.3 197.8 Q182.9 198.7 182.3 202.9 Q186.2 201.3 186.3 197.8Z" stroke-width="0.7" opacity="0.48"/>
<line x1="182.3" y1="202.9" x2="182.0" y2="205.5" stroke-width="0.5" opacity="0.7"/>
<path d="M183.3 190.9 Q184.1 194.6 186.4 193.4 Q187.1 190.9 183.3 190.9Z" stroke-width="0.4" opacity="0.67"/>
<path d="M187.8 194.4 Q187.0 196.7 190.3 196.1 Q189.7 192.8 187.8 194.4Z" stroke-width="0.7" opacity="0.30"/>
<line x1="190.3" y1="196.1" x2="192.2" y2="198.6" stroke-width="0.5" opacity="0.7"/>
<path d="M179.7 192.4 Q174.0 195.3 176.4 198.1 Q180.0 198.8 179.7 192.4Z" stroke-width="0.7" opacity="0.56"/>
<line x1="176.4" y1="198.1" x2="175.0" y2="203.3" stroke-width="0.5" opacity="0.7"/>
<path d="M176.6 195.9 Q177.7 198.8 180.7 198.7 Q179.7 195.9 176.6 195.9Z" stroke-width="0.8" opacity="0.61"/>
<line x1="180.7" y1="198.7" x2="184.4" y2="201.7" stroke-width="0.5" opacity="0.7"/>
<path d="M179.4 189.5 Q174.8 191.2 179.1 195.9 Q183.8 191.5 179.4 189.5Z" stroke-width="0.9" opacity="0.54"/>
<path d="M176.6 190.2 Q175.1 196.7 179.5 195.2 Q183.0 192.1 176.6 190.2Z" stroke-width="0.8" opacity="0.35"/>
<line x1="176.6" y1="190.2" x2="174.1" y2="185.0" stroke-width="0.5" opacity="0.7"/>
<path d="M188.5 192.7 Q185.1 194.4 188.9 200.2 Q192.0 194.0 188.5 192.7Z" stroke-width="0.6" opacity="0.64"/>
<line x1="188.5" y1="192.7" x2="187.0" y2="191.1" stroke-width="0.5" opacity="0.7"/>
<path d="M179.3 182.6 Q177.0 183.9 178.3 185.5 Q180.3 185.1 179.3 182.6Z" stroke-width="0.7" opacity="0.34"/>
<line x1="179.3" y1="182.6" x2="181.3" y2="178.9" stroke-width="0.5" opacity="0.7"/>
<path d="M189.8 187.2 Q186.4 183.8 181.9 187.4 Q186.5 190.8 189.8 187.2Z" stroke-width="0.5" opacity="0.44"/>
<line x1="189.8" y1="187.2" x2="194.3" y2="186.1" stroke-width="0.5" opacity="0.7"/>
<path d="M177.0 193.3 Q176.7 195.8 179.0 195.9 Q179.5 193.6 177.0 193.3Z" stroke-width="0.7" opacity="0.47"/>
<path d="M172.8 192.4 Q175.1 197.9 178.7 197.8 Q178.5 194.2 172.8 192.4Z" stroke-width="0.7" opacity="0.52"/>
<path d="M185.8 190.0 Q187.5 194.7 189.9 192.1 Q190.6 188.7 185.8 190.0Z" stroke-width="0.5" opacity="0.61"/>
<line x1="185.8" y1="190.0" x2="182.0" y2="186.8" stroke-width="0.5" opacity="0.7"/>
<path d="M181.1 189.0 Q177.5 185.7 173.7 190.6 Q179.2 193.5 181.1 189.0Z" stroke-width="0.6" opacity="0.41"/>
<line x1="173.7" y1="190.6" x2="168.8" y2="191.9" stroke-width="0.5" opacity="0.7"/>
<path d="M191.0 191.5 Q189.0 189.4 188.5 192.3 Q190.6 194.3 191.0 191.5Z" stroke-width="0.9" opacity="0.68"/>
<line x1="188.5" y1="192.3" x2="185.8" y2="193.9" stroke-width="0.5" opacity="0.7"/>
<path d="M187.1 190.3 Q187.5 193.0 190.3 192.1 Q189.6 189.3 187.1 190.3Z" stroke-width="0.7" opacity="0.50"/>
<path d="M185.3 189.0 Q178.4 189.5 179.8 194.2 Q184.5 195.9 185.3 189.0Z" stroke-width="0.9" opacity="0.62"/>
<line x1="179.8" y1="194.2" x2="176.9" y2="198.9" stroke-width="0.5" opacity="0.7"/>
<path d="M181.3 191.0 Q180.0 195.3 184.0 193.3 Q185.3 189.1 181.3 191.0Z" stroke-width="0.9" opacity="0.47"/>
<path d="M185.2 196.5 Q184.9 201.2 187.7 197.6 Q188.4 193.0 185.2 196.5Z" stroke-width="0.5" opacity="0.67"/>
<line x1="187.7" y1="197.6" x2="190.1" y2="198.5" stroke-width="0.5" opacity="0.7"/>
<path d="M183.0 183.4 Q178.6 183.4 179.7 188.5 Q184.8 187.4 183.0 183.4Z" stroke-width="0.8" opacity="0.57"/>
<path d="M179.8 182.8 Q173.3 186.8 177.3 189.2 Q181.9 190.1 179.8 182.8Z" stroke-width="0.9" opacity="0.33"/>
<line x1="177.3" y1="189.2" x2="176.3" y2="193.0" stroke-width="0.5" opacity="0.7"/>
<path d="M156.5 200.7 Q154.3 200.8 152.8 206.8 Q157.3 202.6 156.5 200.7Z" stroke-width="0.5" opacity="0.50"/>
<line x1="152.8" y1="206.8" x2="151.0" y2="209.2" stroke-width="0.5" opacity="0.7"/>
<path d="M161.4 208.2 Q159.4 206.1 155.9 210.9 Q161.9 211.1 161.4 208.2Z" stroke-width="0.9" opacity="0.33"/>
<line x1="161.4" y1="208.2" x2="164.2" y2="207.7" stroke-width="0.5" opacity="0.7"/>
<path d="M155.3 198.0 Q155.7 199.8 162.9 199.4 Q156.3 196.4 155.3 198.0Z" stroke-width="0.5" opacity="0.53"/>
<line x1="155.3" y1="198.0" x2="150.9" y2="196.7" stroke-width="0.5" opacity="0.7"/>
<path d="M163.6 202.9 Q159.0 200.1 160.8 204.5 Q163.7 208.4 163.6 202.9Z" stroke-width="0.9" opacity="0.37"/>
<path d="M165.7 203.3 Q161.5 201.7 162.9 205.4 Q166.0 207.8 165.7 203.3Z" stroke-width="0.7" opacity="0.40"/>
<path d="M168.3 200.1 Q163.1 198.9 165.7 203.1 Q170.2 205.1 168.3 200.1Z" stroke-width="0.8" opacity="0.50"/>
<path d="M163.3 200.9 Q159.8 200.3 160.4 203.7 Q163.8 204.5 163.3 200.9Z" stroke-width="0.4" opacity="0.41"/>
<line x1="160.4" y1="203.7" x2="157.0" y2="208.6" stroke-width="0.5" opacity="0.7"/>
<path d="M158.8 195.5 Q155.4 200.6 160.0 200.6 Q164.2 198.4 158.8 195.5Z" stroke-width="0.8" opacity="0.61"/>
<line x1="158.8" y1="195.5" x2="156.0" y2="188.1" stroke-width="0.5" opacity="0.7"/>
<path d="M164.0 197.1 Q161.2 195.2 162.3 199.2 Q166.4 199.3 164.0 197.1Z" stroke-width="0.8" opacity="0.52"/>
<path d="M163.6 202.4 Q159.8 204.9 161.1 208.2 Q164.4 206.8 163.6 202.4Z" stroke-width="0.8" opacity="0.52"/>
<line x1="163.6" y1="202.4" x2="165.2" y2="197.1" stroke-width="0.5" opacity="0.7"/>
<path d="M206.8 191.3 Q204.1 195.1 209.2 193.5 Q210.5 188.4 206.8 191.3Z" stroke-width="0.5" opacity="0.32"/>
<line x1="206.8" y1="191.3" x2="205.1" y2="189.3" stroke-width="0.5" opacity="0.7"/>
<path d="M207.3 194.6 Q210.0 197.4 211.9 196.1 Q211.2 194.0 207.3 194.6Z" stroke-width="0.9" opacity="0.40"/>
<path d="M209.3 196.2 Q206.8 193.6 206.4 197.2 Q209.1 199.8 209.3 196.2Z" stroke-width="0.6" opacity="0.45"/>
<path d="M209.7 194.4 Q208.5 198.7 215.7 197.9 Q212.7 191.3 209.7 194.4Z" stroke-width="0.9" opacity="0.49"/>
<line x1="209.7" y1="194.4" x2="206.9" y2="191.5" stroke-width="0.5" opacity="0.7"/>
<path d="M209.0 197.2 Q203.0 195.4 202.9 200.3 Q206.8 203.2 209.0 197.2Z" stroke-width="0.5" opacity="0.37"/>
<path d="M203.2 194.3 Q197.2 193.8 199.5 198.2 Q204.0 200.2 203.2 194.3Z" stroke-width="0.6" opacity="0.43"/>
<path d="M208.5 195.9 Q204.3 197.8 203.4 201.3 Q206.9 200.2 208.5 195.9Z" stroke-width="0.8" opacity="0.55"/>
<path d="M206.2 202.9 Q203.5 202.4 204.6 204.9 Q207.2 205.4 206.2 202.9Z" stroke-width="0.6" opacity="0.67"/>
<line x1="204.6" y1="204.9" x2="203.1" y2="206.2" stroke-width="0.5" opacity="0.7"/>
<path d="M212.7 198.7 Q209.3 202.6 211.6 204.2 Q214.2 203.6 212.7 198.7Z" stroke-width="0.5" opacity="0.30"/>
<path d="M209.1 197.2 Q205.7 196.0 203.9 203.1 Q210.7 200.4 209.1 197.2Z" stroke-width="0.4" opacity="0.55"/>
<path d="M206.2 216.1 Q203.9 213.5 203.4 217.8 Q207.4 219.3 206.2 216.1Z" stroke-width="0.5" opacity="0.54"/>
<path d="M201.1 209.3 Q198.9 211.7 203.0 212.0 Q204.1 208.0 201.1 209.3Z" stroke-width="0.6" opacity="0.67"/>
<line x1="201.1" y1="209.3" x2="198.3" y2="206.3" stroke-width="0.5" opacity="0.7"/>
<path d="M205.1 214.4 Q202.7 212.5 202.4 216.4 Q206.3 217.2 205.1 214.4Z" stroke-width="0.9" opacity="0.64"/>
<line x1="205.1" y1="214.4" x2="209.8" y2="209.7" stroke-width="0.5" opacity="0.7"/>
<path d="M197.3 209.8 Q199.1 214.2 202.2 214.7 Q201.7 211.6 197.3 209.8Z" stroke-width="0.5" opacity="0.54"/>
<line x1="197.3" y1="209.8" x2="195.3" y2="209.3" stroke-width="0.5" opacity="0.7"/>
<path d="M194.2 207.2 Q193.6 209.9 196.4 208.4 Q196.0 205.2 194.2 207.2Z" stroke-width="0.8" opacity="0.61"/>
<line x1="196.4" y1="208.4" x2="198.4" y2="209.8" stroke-width="0.5" opacity="0.7"/>
<path d="M197.3 210.8 Q191.8 214.2 192.6 216.5 Q195.0 216.9 197.3 210.8Z" stroke-width="0.7" opacity="0.36"/>
<line x1="197.3" y1="210.8" x2="199.1" y2="208.9" stroke-width="0.5" opacity="0.7"/>
<path d="M199.3 208.4 Q197.1 213.1 201.4 211.6 Q204.5 208.4 199.3 208.4Z" stroke-width="0.7" opacity="0.67"/>
<line x1="201.4" y1="211.6" x2="202.5" y2="214.8" stroke-width="0.5" opacity="0.7"/>
<path d="M201.4 216.6 Q196.9 215.4 196.1 218.6 Q198.9 220.5 201.4 216.6Z" stroke-width="0.9" opacity="0.51"/>
<line x1="201.4" y1="216.6" x2="203.4" y2="214.4" stroke-width="0.5" opacity="0.7"/>
<path d="M166.6 171.5 Q164.7 174.7 169.1 174.9 Q170.1 170.6 166.6 171.5Z" stroke-width="0.6" opacity="0.62"/>
<path d="M165.2 177.6 Q168.6 184.8 172.0 181.2 Q173.1 176.5 165.2 177.6Z" stroke-width="0.6" opacity="0.68"/>
<path d="M167.4 177.9 Q169.6 180.4 173.4 180.0 Q170.6 177.3 167.4 177.9Z" stroke-width="0.4" opacity="0.39"/>
<path d="M171.4 169.9 Q170.6 175.4 176.6 175.1 Q176.9 169.2 171.4 169.9Z" stroke-width="0.6" opacity="0.38"/>
<path d="M169.9 174.0 Q172.2 177.2 177.1 176.4 Q173.7 172.9 169.9 174.0Z" stroke-width="0.9" opacity="0.50"/>
<path d="M175.8 173.9 Q173.5 170.1 170.1 176.3 Q176.9 178.3 175.8 173.9Z" stroke-width="0.7" opacity="0.55"/>
<path d="M156.2 183.2 Q153.9 184.0 155.2 186.5 Q157.7 185.2 156.2 183.2Z" stroke-width="0.8" opacity="0.66"/>
<path d="M153.4 181.8 Q148.3 185.1 150.7 188.9 Q155.0 187.6 153.4 181.8Z" stroke-width="0.6" opacity="0.62"/>
<path d="M153.7 179.2 Q149.3 176.3 150.4 180.7 Q153.1 184.4 153.7 179.2Z" stroke-width="0.7" opacity="0.36"/>
<line x1="150.4" y1="180.7" x2="146.5" y2="181.9" stroke-width="0.5" opacity="0.7"/>
<path d="M149.7 180.4 Q152.0 183.0 156.4 181.5 Q152.7 178.7 149.7 180.4Z" stroke-width="0.5" opacity="0.36"/>
<path d="M196.4 193.6 Q190.8 193.6 190.4 196.2 Q192.6 197.7 196.4 193.6Z" stroke-width="0.8" opacity="0.39"/>
<path d="M153.1 193.2 Q155.9 198.2 158.7 196.1 Q158.8 192.6 153.1 193.2Z" stroke-width="0.6" opacity="0.30"/>
<path d="M170.5 201.1 Q166.8 200.2 168.0 203.5 Q171.2 204.8 170.5 201.1Z" stroke-width="0.5" opacity="0.49"/>
<line x1="168.0" y1="203.5" x2="165.2" y2="205.9" stroke-width="0.5" opacity="0.7"/>
<path d="M197.4 175.3 Q194.6 179.0 199.4 178.5 Q202.0 174.3 197.4 175.3Z" stroke-width="0.9" opacity="0.55"/>
<line x1="199.4" y1="178.5" x2="203.3" y2="183.5" stroke-width="0.5" opacity="0.7"/>
<path d="M175.0 189.1 Q177.5 193.2 179.9 189.7 Q178.5 185.6 175.0 189.1Z" stroke-width="0.8" opacity="0.34"/>
<line x1="175.0" y1="189.1" x2="169.2" y2="187.0" stroke-width="0.5" opacity="0.7"/>
<path d="M166.7 162.8 Q164.1 167.1 168.8 167.5 Q171.7 163.7 166.7 162.8Z" stroke-width="0.7" opacity="0.34"/>
<line x1="166.7" y1="162.8" x2="165.2" y2="156.1" stroke-width="0.5" opacity="0.7"/>
<path d="M153.6 218.4 Q149.5 219.2 147.4 223.2 Q151.7 222.1 153.6 218.4Z" stroke-width="0.8" opacity="0.31"/>
<path d="M197.2 187.1 Q198.1 191.1 200.4 189.7 Q201.2 187.2 197.2 187.1Z" stroke-width="0.8" opacity="0.61"/>
<path d="M193.8 176.7 Q189.0 177.6 193.6 180.3 Q198.4 178.1 193.8 176.7Z" stroke-width="0.8" opacity="0.60"/>
<path d="M199.9 217.1 Q197.3 214.4 193.5 219.5 Q199.8 220.9 199.9 217.1Z" stroke-width="0.4" opacity="0.33"/>
<circle cx="162.4" cy="180.3" r="1.6" fill="#cfcfcf" stroke="none" opacity="0.75" filter="url(#bl07)"/>
<circle cx="203.0" cy="183.2" r="1.6" fill="#cfcfcf" stroke="none" opacity="0.75" filter="url(#bl07)"/>
<circle cx="189.0" cy="194.9" r="1.3" fill="#cfcfcf" stroke="none" opacity="0.75" filter="url(#bl07)"/>
</g></g>
<rect x="147.4" y="163.20000000000002" width="69.2" height="57.6" fill="none" stroke="#3a3a3a" stroke-width="0.9"/>
<clipPath id="clip102"><rect x="219" y="162.8" width="70" height="58.4"/></clipPath>
<rect x="219" y="162.8" width="70" height="58.4" filter="url(#texGr)"/>
<g clip-path="url(#clip102)">
<g filter="url(#bl07)" fill="#d9f6ee">
<path d="M270.7 185.1 Q265.2 182.9 265.2 188.0 Q269.5 190.9 270.7 185.1Z" opacity="0.13"/>
<path d="M269.2 187.3 Q265.5 186.9 265.5 189.0 Q267.1 190.3 269.2 187.3Z" opacity="0.12"/>
<path d="M259.7 172.3 Q253.7 175.2 254.7 177.7 Q257.3 178.5 259.7 172.3Z" opacity="0.07"/>
<path d="M254.4 172.3 Q254.4 174.3 257.5 174.2 Q256.1 171.4 254.4 172.3Z" opacity="0.17"/>
<path d="M273.1 179.7 Q267.4 178.3 267.8 183.1 Q271.9 185.5 273.1 179.7Z" opacity="0.12"/>
<path d="M255.6 169.7 Q252.3 177.0 257.1 177.4 Q261.5 175.3 255.6 169.7Z" opacity="0.18"/>
<path d="M270.9 168.8 Q268.2 169.7 269.2 175.1 Q272.8 170.9 270.9 168.8Z" opacity="0.17"/>
<path d="M256.8 182.3 Q259.1 186.6 261.5 182.4 Q259.4 178.2 256.8 182.3Z" opacity="0.18"/>
<path d="M267.8 186.7 Q269.8 189.7 272.6 187.7 Q270.8 184.8 267.8 186.7Z" opacity="0.19"/>
<path d="M258.3 168.5 Q257.4 171.8 259.7 172.7 Q261.0 170.6 258.3 168.5Z" opacity="0.10"/>
<path d="M253.5 181.6 Q253.8 186.0 256.3 182.4 Q255.9 178.0 253.5 181.6Z" opacity="0.14"/>
<path d="M266.0 186.6 Q261.6 183.5 261.7 188.1 Q264.5 191.7 266.0 186.6Z" opacity="0.14"/>
<path d="M269.8 185.4 Q266.7 184.3 266.3 187.6 Q269.4 188.8 269.8 185.4Z" opacity="0.15"/>
<path d="M253.2 170.3 Q253.0 174.9 258.2 173.7 Q257.4 168.4 253.2 170.3Z" opacity="0.16"/>
<path d="M265.9 179.8 Q263.1 178.3 259.0 183.4 Q265.6 183.0 265.9 179.8Z" opacity="0.17"/>
<path d="M256.6 186.8 Q255.1 190.0 258.2 188.8 Q260.0 186.0 256.6 186.8Z" opacity="0.15"/>
<path d="M251.8 175.1 Q250.1 177.8 251.8 181.9 Q253.5 177.8 251.8 175.1Z" opacity="0.14"/>
<path d="M259.7 180.7 Q253.3 178.5 252.7 183.3 Q256.4 186.6 259.7 180.7Z" opacity="0.14"/>
<path d="M265.8 174.9 Q262.0 176.2 265.2 179.3 Q269.1 177.1 265.8 174.9Z" opacity="0.08"/>
<path d="M266.7 187.1 Q264.4 184.1 262.8 188.5 Q266.8 191.0 266.7 187.1Z" opacity="0.10"/>
<path d="M256.6 171.8 Q255.4 174.3 258.4 175.9 Q259.3 172.6 256.6 171.8Z" opacity="0.08"/>
<path d="M254.8 175.2 Q252.7 178.9 256.3 177.9 Q259.1 175.5 254.8 175.2Z" opacity="0.14"/>
<path d="M258.5 168.6 Q257.3 164.7 254.6 168.8 Q257.8 172.6 258.5 168.6Z" opacity="0.14"/>
<path d="M266.0 168.5 Q262.0 171.5 267.4 172.8 Q271.0 168.7 266.0 168.5Z" opacity="0.09"/>
<path d="M249.2 180.1 Q247.0 184.6 251.0 182.9 Q254.3 180.1 249.2 180.1Z" opacity="0.11"/>
<path d="M256.3 182.1 Q251.7 180.1 250.8 182.3 Q251.8 184.4 256.3 182.1Z" opacity="0.18"/>
<path d="M271.5 169.5 Q265.0 171.0 266.8 174.1 Q269.9 176.0 271.5 169.5Z" opacity="0.08"/>
<path d="M255.5 184.6 Q252.8 183.9 252.9 187.1 Q256.0 187.4 255.5 184.6Z" opacity="0.14"/>
<path d="M252.8 168.0 Q248.4 169.5 252.3 175.9 Q256.9 170.1 252.8 168.0Z" opacity="0.13"/>
<path d="M257.1 170.5 Q252.7 173.7 255.7 176.1 Q259.5 175.4 257.1 170.5Z" opacity="0.13"/>
<path d="M271.4 175.4 Q266.8 175.2 269.8 180.2 Q275.3 177.8 271.4 175.4Z" opacity="0.10"/>
<path d="M255.8 185.5 Q249.5 185.2 249.1 187.6 Q250.8 189.3 255.8 185.5Z" opacity="0.19"/>
<path d="M267.0 176.4 Q264.2 176.4 264.9 179.3 Q267.8 179.1 267.0 176.4Z" opacity="0.14"/>
<path d="M271.8 182.3 Q268.7 185.1 274.0 186.3 Q275.7 181.1 271.8 182.3Z" opacity="0.13"/>
<path d="M270.1 174.3 Q268.5 170.1 264.6 175.0 Q269.6 178.8 270.1 174.3Z" opacity="0.07"/>
<path d="M265.4 188.8 Q262.4 186.4 258.8 189.4 Q262.9 191.7 265.4 188.8Z" opacity="0.07"/>
<path d="M266.6 176.0 Q263.9 176.6 266.4 179.1 Q269.2 176.9 266.6 176.0Z" opacity="0.13"/>
<path d="M255.5 179.9 Q252.2 179.4 250.9 184.7 Q256.1 183.1 255.5 179.9Z" opacity="0.10"/>
<path d="M261.6 184.5 Q260.7 188.5 265.8 187.6 Q265.2 182.6 261.6 184.5Z" opacity="0.16"/>
<path d="M265.6 182.1 Q265.0 187.1 268.9 188.4 Q270.1 184.5 265.6 182.1Z" opacity="0.16"/>
<path d="M230.3 181.3 Q225.0 185.3 229.0 187.5 Q233.6 187.1 230.3 181.3Z" opacity="0.07"/>
<path d="M231.7 183.5 Q225.8 180.3 224.5 185.4 Q228.1 189.1 231.7 183.5Z" opacity="0.11"/>
<path d="M227.9 183.5 Q232.0 187.9 233.9 185.5 Q233.8 182.5 227.9 183.5Z" opacity="0.10"/>
<path d="M227.1 182.4 Q224.0 185.3 226.4 187.2 Q229.3 186.2 227.1 182.4Z" opacity="0.15"/>
<path d="M231.7 177.3 Q225.8 179.5 226.2 181.7 Q228.3 182.6 231.7 177.3Z" opacity="0.14"/>
<path d="M230.5 181.6 Q224.5 186.8 228.7 189.3 Q233.5 188.8 230.5 181.6Z" opacity="0.18"/>
<path d="M230.7 188.6 Q228.3 184.3 225.0 188.8 Q228.6 193.0 230.7 188.6Z" opacity="0.07"/>
<path d="M232.3 186.8 Q228.9 183.4 229.2 187.5 Q230.5 191.3 232.3 186.8Z" opacity="0.13"/>
<path d="M229.3 176.5 Q231.8 180.8 234.0 178.4 Q234.1 175.2 229.3 176.5Z" opacity="0.16"/>
<path d="M221.6 184.1 Q224.1 187.0 225.4 185.3 Q225.4 183.2 221.6 184.1Z" opacity="0.08"/>
<path d="M242.2 197.2 Q243.6 201.7 246.9 198.2 Q245.4 193.7 242.2 197.2Z" opacity="0.07"/>
<path d="M246.9 200.7 Q247.3 205.8 252.4 204.4 Q251.9 199.1 246.9 200.7Z" opacity="0.12"/>
<path d="M245.1 194.2 Q247.6 199.7 251.8 196.3 Q250.2 191.1 245.1 194.2Z" opacity="0.09"/>
<path d="M255.5 189.3 Q251.3 188.0 249.7 193.9 Q255.8 193.6 255.5 189.3Z" opacity="0.07"/>
<path d="M254.8 196.1 Q251.5 196.4 250.6 199.2 Q253.4 199.1 254.8 196.1Z" opacity="0.18"/>
<path d="M250.1 199.9 Q247.6 203.8 252.8 202.1 Q253.3 196.5 250.1 199.9Z" opacity="0.16"/>
<path d="M250.1 205.9 Q247.8 206.2 247.0 211.6 Q251.1 208.0 250.1 205.9Z" opacity="0.15"/>
<path d="M244.4 189.6 Q240.1 189.8 243.5 192.1 Q247.5 192.5 244.4 189.6Z" opacity="0.18"/>
<path d="M241.3 188.8 Q241.6 193.6 246.7 192.2 Q245.7 187.0 241.3 188.8Z" opacity="0.16"/>
<path d="M244.0 193.2 Q238.9 193.8 241.5 198.4 Q246.7 197.7 244.0 193.2Z" opacity="0.12"/>
<path d="M246.8 194.5 Q245.0 198.7 251.8 199.4 Q251.1 192.7 246.8 194.5Z" opacity="0.17"/>
<path d="M247.6 191.3 Q246.0 195.6 249.6 192.9 Q251.4 188.7 247.6 191.3Z" opacity="0.19"/>
<path d="M250.7 199.1 Q246.7 196.1 245.4 200.1 Q248.1 203.4 250.7 199.1Z" opacity="0.19"/>
<path d="M249.6 209.6 Q249.1 212.9 252.4 211.5 Q252.4 207.9 249.6 209.6Z" opacity="0.18"/>
<path d="M252.2 202.6 Q246.8 206.0 249.7 208.7 Q253.6 208.9 252.2 202.6Z" opacity="0.17"/>
<path d="M244.1 193.6 Q239.2 196.1 239.3 200.0 Q243.1 199.0 244.1 193.6Z" opacity="0.20"/>
<path d="M254.3 192.2 Q250.3 195.3 255.1 194.7 Q259.4 192.3 254.3 192.2Z" opacity="0.19"/>
<path d="M243.8 202.3 Q245.8 206.3 247.3 203.7 Q247.9 200.8 243.8 202.3Z" opacity="0.15"/>
<path d="M253.3 196.5 Q250.9 196.5 251.5 198.6 Q253.7 198.8 253.3 196.5Z" opacity="0.12"/>
<path d="M248.3 201.8 Q243.4 200.7 245.8 205.2 Q250.9 206.1 248.3 201.8Z" opacity="0.16"/>
<path d="M257.5 199.9 Q253.4 196.7 251.6 202.4 Q257.0 205.1 257.5 199.9Z" opacity="0.20"/>
<path d="M244.4 204.8 Q244.4 211.2 246.8 211.1 Q248.7 209.6 244.4 204.8Z" opacity="0.07"/>
<path d="M253.3 194.5 Q250.1 197.0 252.4 201.0 Q255.8 197.8 253.3 194.5Z" opacity="0.12"/>
<path d="M248.1 197.1 Q245.3 200.4 249.1 203.4 Q251.8 199.4 248.1 197.1Z" opacity="0.08"/>
<path d="M244.8 189.2 Q244.1 194.4 250.1 194.3 Q249.9 188.3 244.8 189.2Z" opacity="0.07"/>
<path d="M249.1 197.0 Q244.0 200.0 246.8 204.1 Q251.4 202.5 249.1 197.0Z" opacity="0.14"/>
<path d="M275.8 193.5 Q272.2 192.2 273.3 196.0 Q277.1 197.0 275.8 193.5Z" opacity="0.09"/>
<path d="M276.3 190.6 Q273.1 190.9 274.9 195.1 Q278.8 192.8 276.3 190.6Z" opacity="0.07"/>
<path d="M280.4 198.2 Q276.4 199.2 275.0 202.7 Q278.8 201.9 280.4 198.2Z" opacity="0.14"/>
<path d="M280.6 190.2 Q279.4 192.5 283.2 193.1 Q283.0 189.3 280.6 190.2Z" opacity="0.14"/>
<path d="M278.5 192.9 Q282.7 196.6 286.2 195.0 Q284.0 191.8 278.5 192.9Z" opacity="0.13"/>
<path d="M279.6 194.5 Q281.3 199.4 285.5 199.8 Q284.7 195.6 279.6 194.5Z" opacity="0.06"/>
<path d="M282.9 195.8 Q279.0 198.9 281.9 200.0 Q285.0 200.3 282.9 195.8Z" opacity="0.08"/>
<path d="M278.7 191.5 Q275.0 191.8 275.9 195.1 Q279.4 195.2 278.7 191.5Z" opacity="0.14"/>
<path d="M280.5 192.3 Q276.3 194.5 277.5 199.0 Q281.7 197.0 280.5 192.3Z" opacity="0.07"/>
<path d="M278.6 198.8 Q278.0 202.1 283.7 201.6 Q281.1 196.6 278.6 198.8Z" opacity="0.08"/>
<path d="M269.1 217.4 Q264.2 219.6 268.9 222.0 Q273.8 219.8 269.1 217.4Z" opacity="0.11"/>
<path d="M269.4 213.0 Q266.6 216.7 271.6 217.5 Q274.0 213.0 269.4 213.0Z" opacity="0.19"/>
<path d="M264.0 210.9 Q260.8 213.7 264.3 215.3 Q267.6 213.3 264.0 210.9Z" opacity="0.17"/>
<path d="M272.3 208.3 Q267.2 213.5 269.4 215.3 Q272.2 215.6 272.3 208.3Z" opacity="0.18"/>
<path d="M268.1 210.9 Q264.3 208.2 262.6 214.5 Q269.1 215.4 268.1 210.9Z" opacity="0.17"/>
<path d="M271.5 213.7 Q269.6 215.9 274.1 219.0 Q274.4 213.6 271.5 213.7Z" opacity="0.07"/>
<path d="M268.5 215.1 Q263.8 212.3 262.3 218.0 Q267.7 220.5 268.5 215.1Z" opacity="0.16"/>
<path d="M268.8 207.5 Q262.9 211.3 266.1 214.6 Q270.7 214.3 268.8 207.5Z" opacity="0.15"/>
<path d="M275.0 211.4 Q272.0 214.7 272.5 217.7 Q275.0 215.9 275.0 211.4Z" opacity="0.19"/>
<path d="M270.0 210.8 Q266.4 208.5 267.0 214.1 Q272.6 214.2 270.0 210.8Z" opacity="0.07"/>
<path d="M259.5 212.7 Q258.3 214.1 261.3 216.9 Q261.3 212.8 259.5 212.7Z" opacity="0.08"/>
<path d="M272.7 204.6 Q270.4 203.4 271.2 206.5 Q274.4 206.7 272.7 204.6Z" opacity="0.08"/>
<path d="M259.4 217.6 Q256.2 216.9 252.7 221.6 Q258.4 220.7 259.4 217.6Z" opacity="0.12"/>
<path d="M226.1 188.6 Q221.7 187.4 219.7 192.1 Q224.7 193.0 226.1 188.6Z" opacity="0.11"/>
<path d="M276.3 185.5 Q276.9 190.0 280.4 185.7 Q277.4 181.1 276.3 185.5Z" opacity="0.10"/>
<path d="M251.0 187.9 Q248.0 186.1 248.7 190.1 Q252.7 191.0 251.0 187.9Z" opacity="0.17"/>
<path d="M242.7 210.2 Q246.7 214.6 248.4 210.3 Q246.9 206.0 242.7 210.2Z" opacity="0.19"/>
<path d="M287.1 174.6 Q285.4 176.0 287.1 177.9 Q288.8 175.9 287.1 174.6Z" opacity="0.19"/>
<path d="M239.2 209.6 Q241.8 213.4 243.9 209.9 Q242.1 206.1 239.2 209.6Z" opacity="0.07"/>
<path d="M270.9 208.7 Q266.4 210.0 271.2 212.0 Q275.6 209.2 270.9 208.7Z" opacity="0.08"/>
</g>
<g filter="url(#bl04)" fill="none" stroke="#d9f6ee" stroke-linecap="round" opacity="1.0">
<path d="M270.7 185.1 Q265.2 182.9 265.2 188.0 Q269.5 190.9 270.7 185.1Z" stroke-width="0.6" opacity="0.61"/>
<path d="M269.2 187.3 Q265.5 186.9 265.5 189.0 Q267.1 190.3 269.2 187.3Z" stroke-width="0.8" opacity="0.35"/>
<path d="M259.7 172.3 Q253.7 175.2 254.7 177.7 Q257.3 178.5 259.7 172.3Z" stroke-width="0.4" opacity="0.58"/>
<path d="M254.4 172.3 Q254.4 174.3 257.5 174.2 Q256.1 171.4 254.4 172.3Z" stroke-width="0.6" opacity="0.45"/>
<line x1="257.5" y1="174.2" x2="262.3" y2="177.2" stroke-width="0.5" opacity="0.7"/>
<path d="M273.1 179.7 Q267.4 178.3 267.8 183.1 Q271.9 185.5 273.1 179.7Z" stroke-width="0.5" opacity="0.70"/>
<path d="M255.6 169.7 Q252.3 177.0 257.1 177.4 Q261.5 175.3 255.6 169.7Z" stroke-width="0.7" opacity="0.46"/>
<line x1="257.1" y1="177.4" x2="257.6" y2="184.5" stroke-width="0.5" opacity="0.7"/>
<path d="M270.9 168.8 Q268.2 169.7 269.2 175.1 Q272.8 170.9 270.9 168.8Z" stroke-width="0.6" opacity="0.50"/>
<line x1="270.9" y1="168.8" x2="272.6" y2="165.1" stroke-width="0.5" opacity="0.7"/>
<path d="M256.8 182.3 Q259.1 186.6 261.5 182.4 Q259.4 178.2 256.8 182.3Z" stroke-width="0.8" opacity="0.37"/>
<path d="M267.8 186.7 Q269.8 189.7 272.6 187.7 Q270.8 184.8 267.8 186.7Z" stroke-width="0.9" opacity="0.45"/>
<line x1="267.8" y1="186.7" x2="261.7" y2="185.0" stroke-width="0.5" opacity="0.7"/>
<path d="M258.3 168.5 Q257.4 171.8 259.7 172.7 Q261.0 170.6 258.3 168.5Z" stroke-width="0.8" opacity="0.51"/>
<path d="M253.5 181.6 Q253.8 186.0 256.3 182.4 Q255.9 178.0 253.5 181.6Z" stroke-width="0.7" opacity="0.45"/>
<line x1="253.5" y1="181.6" x2="250.0" y2="180.3" stroke-width="0.5" opacity="0.7"/>
<path d="M266.0 186.6 Q261.6 183.5 261.7 188.1 Q264.5 191.7 266.0 186.6Z" stroke-width="0.6" opacity="0.55"/>
<line x1="261.7" y1="188.1" x2="256.1" y2="190.1" stroke-width="0.5" opacity="0.7"/>
<path d="M269.8 185.4 Q266.7 184.3 266.3 187.6 Q269.4 188.8 269.8 185.4Z" stroke-width="0.4" opacity="0.42"/>
<path d="M253.2 170.3 Q253.0 174.9 258.2 173.7 Q257.4 168.4 253.2 170.3Z" stroke-width="0.8" opacity="0.56"/>
<path d="M265.9 179.8 Q263.1 178.3 259.0 183.4 Q265.6 183.0 265.9 179.8Z" stroke-width="0.4" opacity="0.62"/>
<path d="M256.6 186.8 Q255.1 190.0 258.2 188.8 Q260.0 186.0 256.6 186.8Z" stroke-width="0.8" opacity="0.68"/>
<line x1="256.6" y1="186.8" x2="256.3" y2="183.8" stroke-width="0.5" opacity="0.7"/>
<path d="M251.8 175.1 Q250.1 177.8 251.8 181.9 Q253.5 177.8 251.8 175.1Z" stroke-width="0.6" opacity="0.65"/>
<path d="M259.7 180.7 Q253.3 178.5 252.7 183.3 Q256.4 186.6 259.7 180.7Z" stroke-width="0.4" opacity="0.39"/>
<path d="M265.8 174.9 Q262.0 176.2 265.2 179.3 Q269.1 177.1 265.8 174.9Z" stroke-width="0.5" opacity="0.41"/>
<path d="M266.7 187.1 Q264.4 184.1 262.8 188.5 Q266.8 191.0 266.7 187.1Z" stroke-width="0.5" opacity="0.53"/>
<line x1="266.7" y1="187.1" x2="270.3" y2="185.9" stroke-width="0.5" opacity="0.7"/>
<path d="M256.6 171.8 Q255.4 174.3 258.4 175.9 Q259.3 172.6 256.6 171.8Z" stroke-width="0.5" opacity="0.58"/>
<path d="M254.8 175.2 Q252.7 178.9 256.3 177.9 Q259.1 175.5 254.8 175.2Z" stroke-width="0.4" opacity="0.57"/>
<path d="M258.5 168.6 Q257.3 164.7 254.6 168.8 Q257.8 172.6 258.5 168.6Z" stroke-width="0.9" opacity="0.54"/>
<path d="M266.0 168.5 Q262.0 171.5 267.4 172.8 Q271.0 168.7 266.0 168.5Z" stroke-width="0.4" opacity="0.49"/>
<line x1="266.0" y1="168.5" x2="266.3" y2="167.2" stroke-width="0.5" opacity="0.7"/>
<path d="M249.2 180.1 Q247.0 184.6 251.0 182.9 Q254.3 180.1 249.2 180.1Z" stroke-width="0.8" opacity="0.50"/>
<line x1="251.0" y1="182.9" x2="252.4" y2="188.3" stroke-width="0.5" opacity="0.7"/>
<path d="M256.3 182.1 Q251.7 180.1 250.8 182.3 Q251.8 184.4 256.3 182.1Z" stroke-width="0.9" opacity="0.66"/>
<path d="M271.5 169.5 Q265.0 171.0 266.8 174.1 Q269.9 176.0 271.5 169.5Z" stroke-width="0.8" opacity="0.38"/>
<line x1="271.5" y1="169.5" x2="275.2" y2="165.5" stroke-width="0.5" opacity="0.7"/>
<path d="M255.5 184.6 Q252.8 183.9 252.9 187.1 Q256.0 187.4 255.5 184.6Z" stroke-width="0.8" opacity="0.65"/>
<line x1="255.5" y1="184.6" x2="259.1" y2="183.7" stroke-width="0.5" opacity="0.7"/>
<path d="M252.8 168.0 Q248.4 169.5 252.3 175.9 Q256.9 170.1 252.8 168.0Z" stroke-width="0.5" opacity="0.43"/>
<line x1="252.8" y1="168.0" x2="252.7" y2="161.6" stroke-width="0.5" opacity="0.7"/>
<path d="M257.1 170.5 Q252.7 173.7 255.7 176.1 Q259.5 175.4 257.1 170.5Z" stroke-width="0.5" opacity="0.64"/>
<line x1="257.1" y1="170.5" x2="258.4" y2="164.5" stroke-width="0.5" opacity="0.7"/>
<path d="M271.4 175.4 Q266.8 175.2 269.8 180.2 Q275.3 177.8 271.4 175.4Z" stroke-width="0.6" opacity="0.30"/>
<line x1="271.4" y1="175.4" x2="274.8" y2="167.7" stroke-width="0.5" opacity="0.7"/>
<path d="M255.8 185.5 Q249.5 185.2 249.1 187.6 Q250.8 189.3 255.8 185.5Z" stroke-width="0.7" opacity="0.61"/>
<line x1="249.1" y1="187.6" x2="244.4" y2="190.7" stroke-width="0.5" opacity="0.7"/>
<path d="M267.0 176.4 Q264.2 176.4 264.9 179.3 Q267.8 179.1 267.0 176.4Z" stroke-width="0.5" opacity="0.33"/>
<path d="M271.8 182.3 Q268.7 185.1 274.0 186.3 Q275.7 181.1 271.8 182.3Z" stroke-width="0.7" opacity="0.69"/>
<path d="M270.1 174.3 Q268.5 170.1 264.6 175.0 Q269.6 178.8 270.1 174.3Z" stroke-width="0.5" opacity="0.41"/>
<path d="M265.4 188.8 Q262.4 186.4 258.8 189.4 Q262.9 191.7 265.4 188.8Z" stroke-width="0.6" opacity="0.69"/>
<path d="M266.6 176.0 Q263.9 176.6 266.4 179.1 Q269.2 176.9 266.6 176.0Z" stroke-width="0.7" opacity="0.65"/>
<path d="M255.5 179.9 Q252.2 179.4 250.9 184.7 Q256.1 183.1 255.5 179.9Z" stroke-width="0.6" opacity="0.54"/>
<line x1="250.9" y1="184.7" x2="248.6" y2="184.9" stroke-width="0.5" opacity="0.7"/>
<path d="M261.6 184.5 Q260.7 188.5 265.8 187.6 Q265.2 182.6 261.6 184.5Z" stroke-width="0.8" opacity="0.50"/>
<line x1="261.6" y1="184.5" x2="259.4" y2="184.1" stroke-width="0.5" opacity="0.7"/>
<path d="M265.6 182.1 Q265.0 187.1 268.9 188.4 Q270.1 184.5 265.6 182.1Z" stroke-width="0.7" opacity="0.34"/>
<path d="M230.3 181.3 Q225.0 185.3 229.0 187.5 Q233.6 187.1 230.3 181.3Z" stroke-width="0.8" opacity="0.44"/>
<path d="M231.7 183.5 Q225.8 180.3 224.5 185.4 Q228.1 189.1 231.7 183.5Z" stroke-width="0.7" opacity="0.34"/>
<line x1="231.7" y1="183.5" x2="235.2" y2="182.8" stroke-width="0.5" opacity="0.7"/>
<path d="M227.9 183.5 Q232.0 187.9 233.9 185.5 Q233.8 182.5 227.9 183.5Z" stroke-width="0.4" opacity="0.45"/>
<line x1="227.9" y1="183.5" x2="223.0" y2="180.7" stroke-width="0.5" opacity="0.7"/>
<path d="M227.1 182.4 Q224.0 185.3 226.4 187.2 Q229.3 186.2 227.1 182.4Z" stroke-width="0.6" opacity="0.45"/>
<line x1="227.1" y1="182.4" x2="229.1" y2="176.6" stroke-width="0.5" opacity="0.7"/>
<path d="M231.7 177.3 Q225.8 179.5 226.2 181.7 Q228.3 182.6 231.7 177.3Z" stroke-width="0.7" opacity="0.53"/>
<line x1="231.7" y1="177.3" x2="234.6" y2="175.3" stroke-width="0.5" opacity="0.7"/>
<path d="M230.5 181.6 Q224.5 186.8 228.7 189.3 Q233.5 188.8 230.5 181.6Z" stroke-width="0.7" opacity="0.35"/>
<path d="M230.7 188.6 Q228.3 184.3 225.0 188.8 Q228.6 193.0 230.7 188.6Z" stroke-width="0.9" opacity="0.69"/>
<line x1="225.0" y1="188.8" x2="218.9" y2="190.4" stroke-width="0.5" opacity="0.7"/>
<path d="M232.3 186.8 Q228.9 183.4 229.2 187.5 Q230.5 191.3 232.3 186.8Z" stroke-width="0.5" opacity="0.54"/>
<path d="M229.3 176.5 Q231.8 180.8 234.0 178.4 Q234.1 175.2 229.3 176.5Z" stroke-width="0.8" opacity="0.63"/>
<path d="M221.6 184.1 Q224.1 187.0 225.4 185.3 Q225.4 183.2 221.6 184.1Z" stroke-width="0.7" opacity="0.52"/>
<path d="M242.2 197.2 Q243.6 201.7 246.9 198.2 Q245.4 193.7 242.2 197.2Z" stroke-width="0.8" opacity="0.57"/>
<path d="M246.9 200.7 Q247.3 205.8 252.4 204.4 Q251.9 199.1 246.9 200.7Z" stroke-width="0.5" opacity="0.43"/>
<line x1="246.9" y1="200.7" x2="242.7" y2="200.1" stroke-width="0.5" opacity="0.7"/>
<path d="M245.1 194.2 Q247.6 199.7 251.8 196.3 Q250.2 191.1 245.1 194.2Z" stroke-width="0.5" opacity="0.56"/>
<path d="M255.5 189.3 Q251.3 188.0 249.7 193.9 Q255.8 193.6 255.5 189.3Z" stroke-width="0.5" opacity="0.31"/>
<path d="M254.8 196.1 Q251.5 196.4 250.6 199.2 Q253.4 199.1 254.8 196.1Z" stroke-width="0.9" opacity="0.50"/>
<line x1="254.8" y1="196.1" x2="257.2" y2="193.8" stroke-width="0.5" opacity="0.7"/>
<path d="M250.1 199.9 Q247.6 203.8 252.8 202.1 Q253.3 196.5 250.1 199.9Z" stroke-width="0.7" opacity="0.39"/>
<line x1="252.8" y1="202.1" x2="255.7" y2="203.4" stroke-width="0.5" opacity="0.7"/>
<path d="M250.1 205.9 Q247.8 206.2 247.0 211.6 Q251.1 208.0 250.1 205.9Z" stroke-width="0.6" opacity="0.65"/>
<path d="M244.4 189.6 Q240.1 189.8 243.5 192.1 Q247.5 192.5 244.4 189.6Z" stroke-width="0.6" opacity="0.35"/>
<line x1="243.5" y1="192.1" x2="242.3" y2="197.9" stroke-width="0.5" opacity="0.7"/>
<path d="M241.3 188.8 Q241.6 193.6 246.7 192.2 Q245.7 187.0 241.3 188.8Z" stroke-width="0.6" opacity="0.58"/>
<path d="M244.0 193.2 Q238.9 193.8 241.5 198.4 Q246.7 197.7 244.0 193.2Z" stroke-width="0.6" opacity="0.70"/>
<path d="M246.8 194.5 Q245.0 198.7 251.8 199.4 Q251.1 192.7 246.8 194.5Z" stroke-width="0.6" opacity="0.30"/>
<line x1="246.8" y1="194.5" x2="245.6" y2="192.5" stroke-width="0.5" opacity="0.7"/>
<path d="M247.6 191.3 Q246.0 195.6 249.6 192.9 Q251.4 188.7 247.6 191.3Z" stroke-width="0.4" opacity="0.57"/>
<line x1="247.6" y1="191.3" x2="242.5" y2="189.8" stroke-width="0.5" opacity="0.7"/>
<path d="M250.7 199.1 Q246.7 196.1 245.4 200.1 Q248.1 203.4 250.7 199.1Z" stroke-width="0.8" opacity="0.47"/>
<path d="M249.6 209.6 Q249.1 212.9 252.4 211.5 Q252.4 207.9 249.6 209.6Z" stroke-width="0.6" opacity="0.63"/>
<path d="M252.2 202.6 Q246.8 206.0 249.7 208.7 Q253.6 208.9 252.2 202.6Z" stroke-width="0.6" opacity="0.61"/>
<line x1="252.2" y1="202.6" x2="252.3" y2="200.9" stroke-width="0.5" opacity="0.7"/>
<path d="M244.1 193.6 Q239.2 196.1 239.3 200.0 Q243.1 199.0 244.1 193.6Z" stroke-width="0.8" opacity="0.33"/>
<path d="M254.3 192.2 Q250.3 195.3 255.1 194.7 Q259.4 192.3 254.3 192.2Z" stroke-width="0.7" opacity="0.50"/>
<path d="M243.8 202.3 Q245.8 206.3 247.3 203.7 Q247.9 200.8 243.8 202.3Z" stroke-width="0.6" opacity="0.65"/>
<path d="M253.3 196.5 Q250.9 196.5 251.5 198.6 Q253.7 198.8 253.3 196.5Z" stroke-width="0.8" opacity="0.47"/>
<line x1="251.5" y1="198.6" x2="250.2" y2="201.6" stroke-width="0.5" opacity="0.7"/>
<path d="M248.3 201.8 Q243.4 200.7 245.8 205.2 Q250.9 206.1 248.3 201.8Z" stroke-width="0.9" opacity="0.55"/>
<path d="M257.5 199.9 Q253.4 196.7 251.6 202.4 Q257.0 205.1 257.5 199.9Z" stroke-width="0.7" opacity="0.50"/>
<path d="M244.4 204.8 Q244.4 211.2 246.8 211.1 Q248.7 209.6 244.4 204.8Z" stroke-width="0.5" opacity="0.55"/>
<line x1="244.4" y1="204.8" x2="242.0" y2="203.2" stroke-width="0.5" opacity="0.7"/>
<path d="M253.3 194.5 Q250.1 197.0 252.4 201.0 Q255.8 197.8 253.3 194.5Z" stroke-width="0.9" opacity="0.58"/>
<path d="M248.1 197.1 Q245.3 200.4 249.1 203.4 Q251.8 199.4 248.1 197.1Z" stroke-width="0.5" opacity="0.59"/>
<path d="M244.8 189.2 Q244.1 194.4 250.1 194.3 Q249.9 188.3 244.8 189.2Z" stroke-width="0.7" opacity="0.33"/>
<line x1="250.1" y1="194.3" x2="255.0" y2="197.4" stroke-width="0.5" opacity="0.7"/>
<path d="M249.1 197.0 Q244.0 200.0 246.8 204.1 Q251.4 202.5 249.1 197.0Z" stroke-width="0.7" opacity="0.32"/>
<path d="M275.8 193.5 Q272.2 192.2 273.3 196.0 Q277.1 197.0 275.8 193.5Z" stroke-width="0.7" opacity="0.39"/>
<path d="M276.3 190.6 Q273.1 190.9 274.9 195.1 Q278.8 192.8 276.3 190.6Z" stroke-width="0.5" opacity="0.49"/>
<path d="M280.4 198.2 Q276.4 199.2 275.0 202.7 Q278.8 201.9 280.4 198.2Z" stroke-width="0.5" opacity="0.58"/>
<line x1="280.4" y1="198.2" x2="286.2" y2="193.1" stroke-width="0.5" opacity="0.7"/>
<path d="M280.6 190.2 Q279.4 192.5 283.2 193.1 Q283.0 189.3 280.6 190.2Z" stroke-width="0.6" opacity="0.58"/>
<line x1="280.6" y1="190.2" x2="279.8" y2="187.7" stroke-width="0.5" opacity="0.7"/>
<path d="M278.5 192.9 Q282.7 196.6 286.2 195.0 Q284.0 191.8 278.5 192.9Z" stroke-width="0.8" opacity="0.62"/>
<line x1="278.5" y1="192.9" x2="272.6" y2="192.3" stroke-width="0.5" opacity="0.7"/>
<path d="M279.6 194.5 Q281.3 199.4 285.5 199.8 Q284.7 195.6 279.6 194.5Z" stroke-width="0.9" opacity="0.69"/>
<path d="M282.9 195.8 Q279.0 198.9 281.9 200.0 Q285.0 200.3 282.9 195.8Z" stroke-width="0.8" opacity="0.68"/>
<line x1="282.9" y1="195.8" x2="282.9" y2="191.7" stroke-width="0.5" opacity="0.7"/>
<path d="M278.7 191.5 Q275.0 191.8 275.9 195.1 Q279.4 195.2 278.7 191.5Z" stroke-width="0.7" opacity="0.46"/>
<path d="M280.5 192.3 Q276.3 194.5 277.5 199.0 Q281.7 197.0 280.5 192.3Z" stroke-width="0.5" opacity="0.44"/>
<path d="M278.6 198.8 Q278.0 202.1 283.7 201.6 Q281.1 196.6 278.6 198.8Z" stroke-width="0.6" opacity="0.59"/>
<path d="M269.1 217.4 Q264.2 219.6 268.9 222.0 Q273.8 219.8 269.1 217.4Z" stroke-width="0.9" opacity="0.36"/>
<path d="M269.4 213.0 Q266.6 216.7 271.6 217.5 Q274.0 213.0 269.4 213.0Z" stroke-width="0.6" opacity="0.59"/>
<path d="M264.0 210.9 Q260.8 213.7 264.3 215.3 Q267.6 213.3 264.0 210.9Z" stroke-width="0.7" opacity="0.69"/>
<path d="M272.3 208.3 Q267.2 213.5 269.4 215.3 Q272.2 215.6 272.3 208.3Z" stroke-width="0.6" opacity="0.40"/>
<line x1="269.4" y1="215.3" x2="268.2" y2="220.3" stroke-width="0.5" opacity="0.7"/>
<path d="M268.1 210.9 Q264.3 208.2 262.6 214.5 Q269.1 215.4 268.1 210.9Z" stroke-width="0.7" opacity="0.38"/>
<path d="M271.5 213.7 Q269.6 215.9 274.1 219.0 Q274.4 213.6 271.5 213.7Z" stroke-width="0.6" opacity="0.57"/>
<path d="M268.5 215.1 Q263.8 212.3 262.3 218.0 Q267.7 220.5 268.5 215.1Z" stroke-width="0.7" opacity="0.34"/>
<line x1="262.3" y1="218.0" x2="257.6" y2="221.5" stroke-width="0.5" opacity="0.7"/>
<path d="M268.8 207.5 Q262.9 211.3 266.1 214.6 Q270.7 214.3 268.8 207.5Z" stroke-width="0.6" opacity="0.45"/>
<path d="M275.0 211.4 Q272.0 214.7 272.5 217.7 Q275.0 215.9 275.0 211.4Z" stroke-width="0.5" opacity="0.51"/>
<line x1="272.5" y1="217.7" x2="269.6" y2="223.0" stroke-width="0.5" opacity="0.7"/>
<path d="M270.0 210.8 Q266.4 208.5 267.0 214.1 Q272.6 214.2 270.0 210.8Z" stroke-width="0.8" opacity="0.55"/>
<line x1="267.0" y1="214.1" x2="263.8" y2="215.8" stroke-width="0.5" opacity="0.7"/>
<path d="M259.5 212.7 Q258.3 214.1 261.3 216.9 Q261.3 212.8 259.5 212.7Z" stroke-width="0.5" opacity="0.57"/>
<path d="M272.7 204.6 Q270.4 203.4 271.2 206.5 Q274.4 206.7 272.7 204.6Z" stroke-width="0.6" opacity="0.69"/>
<path d="M259.4 217.6 Q256.2 216.9 252.7 221.6 Q258.4 220.7 259.4 217.6Z" stroke-width="0.6" opacity="0.52"/>
<path d="M226.1 188.6 Q221.7 187.4 219.7 192.1 Q224.7 193.0 226.1 188.6Z" stroke-width="0.8" opacity="0.66"/>
<path d="M276.3 185.5 Q276.9 190.0 280.4 185.7 Q277.4 181.1 276.3 185.5Z" stroke-width="0.5" opacity="0.66"/>
<path d="M251.0 187.9 Q248.0 186.1 248.7 190.1 Q252.7 191.0 251.0 187.9Z" stroke-width="0.6" opacity="0.56"/>
<line x1="248.7" y1="190.1" x2="247.4" y2="192.3" stroke-width="0.5" opacity="0.7"/>
<path d="M242.7 210.2 Q246.7 214.6 248.4 210.3 Q246.9 206.0 242.7 210.2Z" stroke-width="0.4" opacity="0.63"/>
<line x1="248.4" y1="210.3" x2="249.6" y2="210.6" stroke-width="0.5" opacity="0.7"/>
<path d="M287.1 174.6 Q285.4 176.0 287.1 177.9 Q288.8 175.9 287.1 174.6Z" stroke-width="0.4" opacity="0.66"/>
<path d="M239.2 209.6 Q241.8 213.4 243.9 209.9 Q242.1 206.1 239.2 209.6Z" stroke-width="0.9" opacity="0.66"/>
<path d="M270.9 208.7 Q266.4 210.0 271.2 212.0 Q275.6 209.2 270.9 208.7Z" stroke-width="0.9" opacity="0.43"/>
<circle cx="240.0" cy="189.1" r="1.5" fill="#d9f6ee" stroke="none" opacity="0.75" filter="url(#bl07)"/>
</g></g>
<rect x="219.4" y="163.20000000000002" width="69.2" height="57.6" fill="none" stroke="#3a3a3a" stroke-width="0.9"/>
<clipPath id="clip103"><rect x="147" y="224" width="70" height="58.4"/></clipPath>
<rect x="147" y="224" width="70" height="58.4" filter="url(#texG)"/>
<g clip-path="url(#clip103)">
<g filter="url(#bl07)" fill="#d2d2d2">
<path d="M183.7 244.6 Q179.6 241.6 176.1 246.1 Q181.1 248.9 183.7 244.6Z" opacity="0.12"/>
<path d="M170.5 236.1 Q171.4 239.8 173.3 238.9 Q174.1 237.0 170.5 236.1Z" opacity="0.17"/>
<path d="M171.0 247.7 Q173.7 249.7 177.1 248.3 Q174.0 246.2 171.0 247.7Z" opacity="0.08"/>
<path d="M168.8 244.5 Q170.4 247.4 174.3 244.8 Q170.7 241.9 168.8 244.5Z" opacity="0.11"/>
<path d="M169.2 251.0 Q165.1 249.0 163.0 255.0 Q169.4 255.6 169.2 251.0Z" opacity="0.18"/>
<path d="M173.5 241.9 Q174.8 247.5 177.1 246.9 Q178.4 244.9 173.5 241.9Z" opacity="0.15"/>
<path d="M175.5 246.9 Q176.2 250.7 178.4 249.3 Q179.4 246.8 175.5 246.9Z" opacity="0.08"/>
<path d="M176.8 244.0 Q172.6 242.3 171.2 246.9 Q175.7 248.5 176.8 244.0Z" opacity="0.13"/>
<path d="M171.7 245.4 Q169.7 249.6 176.2 251.5 Q176.3 244.8 171.7 245.4Z" opacity="0.18"/>
<path d="M180.6 249.5 Q176.1 249.2 176.3 252.9 Q179.8 254.0 180.6 249.5Z" opacity="0.14"/>
<path d="M173.8 249.1 Q174.3 254.9 178.2 254.0 Q179.5 250.1 173.8 249.1Z" opacity="0.10"/>
<path d="M175.1 234.4 Q170.8 233.9 170.2 240.6 Q176.6 238.4 175.1 234.4Z" opacity="0.09"/>
<path d="M166.1 249.4 Q162.5 250.6 165.1 252.4 Q168.3 252.3 166.1 249.4Z" opacity="0.19"/>
<path d="M162.5 241.3 Q162.3 244.7 167.4 242.7 Q164.1 238.2 162.5 241.3Z" opacity="0.11"/>
<path d="M172.5 250.6 Q171.2 252.9 174.8 252.8 Q174.8 249.1 172.5 250.6Z" opacity="0.09"/>
<path d="M166.2 239.9 Q161.6 239.6 162.5 242.2 Q164.5 244.2 166.2 239.9Z" opacity="0.10"/>
<path d="M164.8 241.6 Q167.0 245.7 172.8 241.9 Q167.3 237.8 164.8 241.6Z" opacity="0.14"/>
<path d="M177.2 249.0 Q173.7 246.4 170.0 252.4 Q177.0 253.3 177.2 249.0Z" opacity="0.18"/>
<path d="M176.1 254.9 Q174.0 256.3 175.8 258.7 Q177.9 256.6 176.1 254.9Z" opacity="0.15"/>
<path d="M178.8 239.3 Q180.7 241.5 183.8 239.7 Q181.0 237.5 178.8 239.3Z" opacity="0.15"/>
<path d="M165.9 240.9 Q162.1 241.2 164.2 248.4 Q169.3 242.9 165.9 240.9Z" opacity="0.11"/>
<path d="M172.7 250.3 Q169.3 251.1 170.7 254.7 Q174.4 253.3 172.7 250.3Z" opacity="0.09"/>
<path d="M179.5 248.3 Q177.2 247.2 175.0 253.5 Q180.9 250.5 179.5 248.3Z" opacity="0.15"/>
<path d="M175.0 247.7 Q172.2 244.4 172.1 249.1 Q175.9 251.9 175.0 247.7Z" opacity="0.11"/>
<path d="M176.0 243.4 Q171.3 242.7 175.0 246.9 Q180.3 245.4 176.0 243.4Z" opacity="0.10"/>
<path d="M174.6 235.1 Q174.2 240.3 179.2 241.5 Q179.7 236.3 174.6 235.1Z" opacity="0.16"/>
<path d="M178.6 247.6 Q175.8 250.2 179.8 251.9 Q182.4 248.4 178.6 247.6Z" opacity="0.19"/>
<path d="M187.3 244.2 Q182.1 244.3 181.7 247.6 Q184.7 248.8 187.3 244.2Z" opacity="0.18"/>
<path d="M168.6 241.0 Q163.1 241.3 161.7 244.3 Q164.8 245.1 168.6 241.0Z" opacity="0.08"/>
<path d="M172.4 240.0 Q167.9 240.8 172.4 243.5 Q176.9 240.8 172.4 240.0Z" opacity="0.17"/>
<path d="M183.0 230.4 Q179.4 227.1 180.0 232.5 Q184.9 234.9 183.0 230.4Z" opacity="0.14"/>
<path d="M183.5 233.0 Q179.5 235.6 179.3 239.0 Q182.3 237.6 183.5 233.0Z" opacity="0.07"/>
<path d="M183.3 231.7 Q176.2 232.9 178.5 237.2 Q182.9 238.9 183.3 231.7Z" opacity="0.17"/>
<path d="M188.1 231.6 Q184.4 236.0 189.2 236.6 Q193.3 234.0 188.1 231.6Z" opacity="0.14"/>
<path d="M192.5 232.2 Q187.2 232.2 187.0 235.8 Q190.3 237.0 192.5 232.2Z" opacity="0.13"/>
<path d="M188.2 228.3 Q184.8 230.4 188.3 231.6 Q191.7 230.1 188.2 228.3Z" opacity="0.07"/>
<path d="M181.1 229.8 Q178.1 232.7 182.0 232.3 Q185.4 230.3 181.1 229.8Z" opacity="0.14"/>
<path d="M185.7 233.9 Q184.3 236.4 186.1 237.7 Q187.6 236.1 185.7 233.9Z" opacity="0.13"/>
<path d="M184.8 229.4 Q182.1 226.9 178.5 231.9 Q184.5 233.1 184.8 229.4Z" opacity="0.18"/>
<path d="M183.6 233.8 Q180.0 234.4 182.1 236.6 Q185.1 237.2 183.6 233.8Z" opacity="0.19"/>
<path d="M194.8 246.6 Q192.4 249.6 196.1 249.2 Q198.6 246.4 194.8 246.6Z" opacity="0.08"/>
<path d="M196.8 240.6 Q194.4 240.7 195.5 243.4 Q198.3 242.5 196.8 240.6Z" opacity="0.19"/>
<path d="M193.5 236.0 Q191.5 239.2 197.1 243.0 Q197.2 236.3 193.5 236.0Z" opacity="0.12"/>
<path d="M189.8 241.2 Q190.7 246.8 193.5 245.0 Q195.4 242.3 189.8 241.2Z" opacity="0.06"/>
<path d="M196.8 247.5 Q191.2 248.7 193.9 251.9 Q198.0 253.1 196.8 247.5Z" opacity="0.17"/>
<path d="M199.1 245.7 Q194.4 244.9 198.2 248.6 Q203.3 247.8 199.1 245.7Z" opacity="0.17"/>
<path d="M196.9 241.1 Q195.4 242.6 198.3 246.7 Q198.9 241.7 196.9 241.1Z" opacity="0.17"/>
<path d="M194.5 240.2 Q191.3 238.5 192.1 241.5 Q194.3 243.8 194.5 240.2Z" opacity="0.08"/>
<path d="M203.1 239.3 Q197.7 242.0 200.3 246.4 Q205.3 244.9 203.1 239.3Z" opacity="0.16"/>
<path d="M196.1 242.9 Q193.8 246.9 195.6 250.6 Q197.8 247.1 196.1 242.9Z" opacity="0.19"/>
<path d="M197.5 242.7 Q193.2 241.1 196.1 244.9 Q200.7 245.9 197.5 242.7Z" opacity="0.19"/>
<path d="M205.1 242.8 Q200.3 243.6 200.6 248.0 Q205.0 247.7 205.1 242.8Z" opacity="0.11"/>
<path d="M156.0 265.2 Q160.0 269.7 162.9 267.2 Q161.8 263.5 156.0 265.2Z" opacity="0.18"/>
<path d="M159.8 268.9 Q156.6 266.0 156.1 269.6 Q158.0 272.7 159.8 268.9Z" opacity="0.08"/>
<path d="M164.7 265.2 Q162.9 261.1 161.8 265.5 Q163.8 269.6 164.7 265.2Z" opacity="0.18"/>
<path d="M160.2 259.4 Q157.0 259.7 159.8 263.3 Q163.2 260.3 160.2 259.4Z" opacity="0.14"/>
<path d="M158.6 267.2 Q156.8 273.4 160.8 274.0 Q163.8 271.2 158.6 267.2Z" opacity="0.15"/>
<path d="M158.4 266.5 Q155.0 263.2 155.3 268.0 Q158.8 271.2 158.4 266.5Z" opacity="0.17"/>
<path d="M156.5 265.2 Q157.1 268.7 159.4 266.3 Q159.1 262.9 156.5 265.2Z" opacity="0.10"/>
<path d="M161.7 262.0 Q158.9 264.1 162.7 265.2 Q165.2 262.2 161.7 262.0Z" opacity="0.09"/>
<path d="M168.0 271.8 Q164.4 269.7 162.7 273.9 Q166.8 275.8 168.0 271.8Z" opacity="0.07"/>
<path d="M163.4 262.7 Q164.0 267.6 168.3 265.4 Q167.9 260.7 163.4 262.7Z" opacity="0.16"/>
<path d="M154.1 264.0 Q150.8 266.8 154.0 267.5 Q157.2 266.9 154.1 264.0Z" opacity="0.06"/>
<path d="M164.8 266.0 Q160.8 265.0 157.8 269.4 Q163.1 269.6 164.8 266.0Z" opacity="0.06"/>
<path d="M159.4 266.3 Q158.5 271.0 161.6 269.4 Q164.2 266.9 159.4 266.3Z" opacity="0.15"/>
<path d="M163.2 270.2 Q157.1 268.8 155.8 270.5 Q157.3 272.2 163.2 270.2Z" opacity="0.13"/>
<path d="M173.6 270.4 Q169.8 270.5 173.0 273.6 Q177.1 271.8 173.6 270.4Z" opacity="0.20"/>
<path d="M178.8 265.8 Q178.8 269.4 181.7 271.4 Q181.7 267.9 178.8 265.8Z" opacity="0.08"/>
<path d="M183.3 268.5 Q183.1 272.9 187.6 274.0 Q187.7 269.3 183.3 268.5Z" opacity="0.13"/>
<path d="M176.8 265.4 Q180.0 269.4 182.0 267.0 Q181.7 263.9 176.8 265.4Z" opacity="0.09"/>
<path d="M177.8 270.1 Q178.8 273.9 180.6 272.4 Q181.6 270.4 177.8 270.1Z" opacity="0.17"/>
<path d="M182.9 267.5 Q179.2 267.5 182.3 270.3 Q186.3 269.1 182.9 267.5Z" opacity="0.19"/>
<path d="M179.1 265.0 Q179.1 267.3 185.5 267.4 Q180.6 263.2 179.1 265.0Z" opacity="0.20"/>
<path d="M179.6 261.8 Q176.6 264.8 177.5 267.6 Q179.9 266.0 179.6 261.8Z" opacity="0.08"/>
<path d="M177.1 272.7 Q176.1 277.4 179.8 274.0 Q180.0 268.9 177.1 272.7Z" opacity="0.16"/>
<path d="M175.8 270.9 Q170.8 271.9 170.5 275.3 Q173.9 275.7 175.8 270.9Z" opacity="0.14"/>
<path d="M177.9 262.6 Q177.8 266.9 182.2 267.7 Q182.1 263.2 177.9 262.6Z" opacity="0.07"/>
<path d="M172.0 267.9 Q173.3 270.0 177.7 269.6 Q174.3 266.8 172.0 267.9Z" opacity="0.12"/>
<path d="M210.8 260.2 Q209.1 256.4 208.1 260.5 Q209.8 264.4 210.8 260.2Z" opacity="0.16"/>
<path d="M207.8 252.2 Q203.9 250.6 203.8 253.8 Q206.2 256.1 207.8 252.2Z" opacity="0.16"/>
<path d="M209.7 249.5 Q205.6 246.9 204.4 251.0 Q207.5 253.9 209.7 249.5Z" opacity="0.12"/>
<path d="M207.3 255.4 Q207.4 259.9 210.9 255.9 Q208.6 251.1 207.3 255.4Z" opacity="0.07"/>
<path d="M207.3 258.5 Q203.9 260.5 206.5 262.0 Q209.4 261.8 207.3 258.5Z" opacity="0.11"/>
<path d="M208.9 253.8 Q205.7 249.4 205.0 253.8 Q205.9 258.2 208.9 253.8Z" opacity="0.10"/>
<path d="M210.5 251.2 Q207.4 253.3 211.6 258.1 Q214.2 252.3 210.5 251.2Z" opacity="0.11"/>
<path d="M207.0 253.3 Q205.2 254.9 208.9 257.5 Q209.4 252.9 207.0 253.3Z" opacity="0.19"/>
<path d="M204.1 255.4 Q204.7 258.7 211.6 257.6 Q206.4 253.0 204.1 255.4Z" opacity="0.15"/>
<path d="M210.1 250.3 Q207.7 250.8 207.6 254.6 Q210.9 252.7 210.1 250.3Z" opacity="0.15"/>
<path d="M212.3 269.8 Q211.5 275.3 214.4 275.4 Q216.5 273.4 212.3 269.8Z" opacity="0.06"/>
<path d="M210.2 273.7 Q204.5 274.3 207.6 277.9 Q212.2 279.0 210.2 273.7Z" opacity="0.11"/>
<path d="M207.1 272.1 Q206.6 277.4 210.7 277.5 Q212.2 273.7 207.1 272.1Z" opacity="0.17"/>
<path d="M214.0 275.2 Q210.9 274.4 211.8 276.7 Q213.6 278.3 214.0 275.2Z" opacity="0.08"/>
<path d="M208.7 275.0 Q204.7 276.3 209.1 277.6 Q212.8 275.0 208.7 275.0Z" opacity="0.06"/>
<path d="M206.8 269.0 Q208.9 275.9 212.2 274.3 Q213.7 271.0 206.8 269.0Z" opacity="0.10"/>
<path d="M208.8 273.4 Q204.6 272.4 207.0 275.6 Q210.5 277.4 208.8 273.4Z" opacity="0.08"/>
<path d="M206.3 275.4 Q207.5 279.7 210.3 278.6 Q210.8 275.7 206.3 275.4Z" opacity="0.14"/>
<path d="M155.4 245.2 Q152.0 247.2 152.4 249.5 Q154.7 249.1 155.4 245.2Z" opacity="0.11"/>
<path d="M156.5 260.2 Q151.7 261.9 152.8 266.0 Q157.0 265.3 156.5 260.2Z" opacity="0.18"/>
<path d="M165.2 278.2 Q167.7 283.4 170.5 282.5 Q170.9 279.6 165.2 278.2Z" opacity="0.17"/>
<path d="M181.8 261.0 Q178.9 262.5 179.7 264.3 Q181.7 264.3 181.8 261.0Z" opacity="0.11"/>
<path d="M180.1 271.0 Q185.1 277.1 187.2 272.7 Q187.3 267.9 180.1 271.0Z" opacity="0.19"/>
<path d="M194.8 259.9 Q193.6 261.7 197.3 263.0 Q196.8 259.1 194.8 259.9Z" opacity="0.18"/>
<path d="M149.5 231.0 Q147.4 231.0 149.0 233.5 Q151.4 231.8 149.5 231.0Z" opacity="0.19"/>
<path d="M197.0 245.9 Q197.2 248.2 202.1 250.2 Q199.2 245.7 197.0 245.9Z" opacity="0.19"/>
<path d="M215.3 259.6 Q213.7 260.0 215.3 262.7 Q216.9 260.1 215.3 259.6Z" opacity="0.19"/>
<path d="M206.0 266.7 Q204.6 265.7 203.3 268.3 Q206.2 268.5 206.0 266.7Z" opacity="0.19"/>
</g>
<g filter="url(#bl04)" fill="none" stroke="#d2d2d2" stroke-linecap="round" opacity="0.8">
<path d="M183.7 244.6 Q179.6 241.6 176.1 246.1 Q181.1 248.9 183.7 244.6Z" stroke-width="0.6" opacity="0.70"/>
<line x1="176.1" y1="246.1" x2="172.4" y2="247.7" stroke-width="0.5" opacity="0.7"/>
<path d="M170.5 236.1 Q171.4 239.8 173.3 238.9 Q174.1 237.0 170.5 236.1Z" stroke-width="0.4" opacity="0.69"/>
<path d="M171.0 247.7 Q173.7 249.7 177.1 248.3 Q174.0 246.2 171.0 247.7Z" stroke-width="0.6" opacity="0.50"/>
<path d="M168.8 244.5 Q170.4 247.4 174.3 244.8 Q170.7 241.9 168.8 244.5Z" stroke-width="0.9" opacity="0.35"/>
<line x1="174.3" y1="244.8" x2="176.1" y2="245.3" stroke-width="0.5" opacity="0.7"/>
<path d="M169.2 251.0 Q165.1 249.0 163.0 255.0 Q169.4 255.6 169.2 251.0Z" stroke-width="0.7" opacity="0.61"/>
<path d="M173.5 241.9 Q174.8 247.5 177.1 246.9 Q178.4 244.9 173.5 241.9Z" stroke-width="0.8" opacity="0.67"/>
<line x1="177.1" y1="246.9" x2="181.9" y2="252.8" stroke-width="0.5" opacity="0.7"/>
<path d="M175.5 246.9 Q176.2 250.7 178.4 249.3 Q179.4 246.8 175.5 246.9Z" stroke-width="0.8" opacity="0.57"/>
<line x1="178.4" y1="249.3" x2="183.1" y2="252.9" stroke-width="0.5" opacity="0.7"/>
<path d="M176.8 244.0 Q172.6 242.3 171.2 246.9 Q175.7 248.5 176.8 244.0Z" stroke-width="0.6" opacity="0.43"/>
<line x1="176.8" y1="244.0" x2="179.7" y2="242.4" stroke-width="0.5" opacity="0.7"/>
<path d="M171.7 245.4 Q169.7 249.6 176.2 251.5 Q176.3 244.8 171.7 245.4Z" stroke-width="0.6" opacity="0.65"/>
<path d="M180.6 249.5 Q176.1 249.2 176.3 252.9 Q179.8 254.0 180.6 249.5Z" stroke-width="0.5" opacity="0.39"/>
<path d="M173.8 249.1 Q174.3 254.9 178.2 254.0 Q179.5 250.1 173.8 249.1Z" stroke-width="0.7" opacity="0.36"/>
<line x1="173.8" y1="249.1" x2="172.2" y2="247.2" stroke-width="0.5" opacity="0.7"/>
<path d="M175.1 234.4 Q170.8 233.9 170.2 240.6 Q176.6 238.4 175.1 234.4Z" stroke-width="0.6" opacity="0.40"/>
<line x1="175.1" y1="234.4" x2="177.7" y2="231.8" stroke-width="0.5" opacity="0.7"/>
<path d="M166.1 249.4 Q162.5 250.6 165.1 252.4 Q168.3 252.3 166.1 249.4Z" stroke-width="0.8" opacity="0.34"/>
<line x1="166.1" y1="249.4" x2="167.3" y2="246.3" stroke-width="0.5" opacity="0.7"/>
<path d="M162.5 241.3 Q162.3 244.7 167.4 242.7 Q164.1 238.2 162.5 241.3Z" stroke-width="0.8" opacity="0.41"/>
<path d="M172.5 250.6 Q171.2 252.9 174.8 252.8 Q174.8 249.1 172.5 250.6Z" stroke-width="0.9" opacity="0.37"/>
<path d="M166.2 239.9 Q161.6 239.6 162.5 242.2 Q164.5 244.2 166.2 239.9Z" stroke-width="0.7" opacity="0.40"/>
<line x1="162.5" y1="242.2" x2="161.1" y2="243.1" stroke-width="0.5" opacity="0.7"/>
<path d="M164.8 241.6 Q167.0 245.7 172.8 241.9 Q167.3 237.8 164.8 241.6Z" stroke-width="0.8" opacity="0.45"/>
<path d="M177.2 249.0 Q173.7 246.4 170.0 252.4 Q177.0 253.3 177.2 249.0Z" stroke-width="0.6" opacity="0.54"/>
<path d="M176.1 254.9 Q174.0 256.3 175.8 258.7 Q177.9 256.6 176.1 254.9Z" stroke-width="0.6" opacity="0.41"/>
<line x1="176.1" y1="254.9" x2="176.3" y2="250.8" stroke-width="0.5" opacity="0.7"/>
<path d="M178.8 239.3 Q180.7 241.5 183.8 239.7 Q181.0 237.5 178.8 239.3Z" stroke-width="0.8" opacity="0.33"/>
<line x1="183.8" y1="239.7" x2="190.0" y2="240.7" stroke-width="0.5" opacity="0.7"/>
<path d="M165.9 240.9 Q162.1 241.2 164.2 248.4 Q169.3 242.9 165.9 240.9Z" stroke-width="0.6" opacity="0.43"/>
<path d="M172.7 250.3 Q169.3 251.1 170.7 254.7 Q174.4 253.3 172.7 250.3Z" stroke-width="0.7" opacity="0.50"/>
<line x1="172.7" y1="250.3" x2="174.3" y2="245.0" stroke-width="0.5" opacity="0.7"/>
<path d="M179.5 248.3 Q177.2 247.2 175.0 253.5 Q180.9 250.5 179.5 248.3Z" stroke-width="0.5" opacity="0.66"/>
<path d="M175.0 247.7 Q172.2 244.4 172.1 249.1 Q175.9 251.9 175.0 247.7Z" stroke-width="0.8" opacity="0.54"/>
<path d="M176.0 243.4 Q171.3 242.7 175.0 246.9 Q180.3 245.4 176.0 243.4Z" stroke-width="0.7" opacity="0.32"/>
<line x1="175.0" y1="246.9" x2="173.9" y2="251.9" stroke-width="0.5" opacity="0.7"/>
<path d="M174.6 235.1 Q174.2 240.3 179.2 241.5 Q179.7 236.3 174.6 235.1Z" stroke-width="0.8" opacity="0.44"/>
<line x1="174.6" y1="235.1" x2="170.1" y2="230.2" stroke-width="0.5" opacity="0.7"/>
<path d="M178.6 247.6 Q175.8 250.2 179.8 251.9 Q182.4 248.4 178.6 247.6Z" stroke-width="0.5" opacity="0.62"/>
<line x1="178.6" y1="247.6" x2="176.5" y2="243.8" stroke-width="0.5" opacity="0.7"/>
<path d="M187.3 244.2 Q182.1 244.3 181.7 247.6 Q184.7 248.8 187.3 244.2Z" stroke-width="0.5" opacity="0.45"/>
<line x1="187.3" y1="244.2" x2="192.4" y2="239.7" stroke-width="0.5" opacity="0.7"/>
<path d="M168.6 241.0 Q163.1 241.3 161.7 244.3 Q164.8 245.1 168.6 241.0Z" stroke-width="0.5" opacity="0.48"/>
<path d="M172.4 240.0 Q167.9 240.8 172.4 243.5 Q176.9 240.8 172.4 240.0Z" stroke-width="0.9" opacity="0.50"/>
<line x1="172.4" y1="240.0" x2="173.0" y2="238.5" stroke-width="0.5" opacity="0.7"/>
<path d="M183.0 230.4 Q179.4 227.1 180.0 232.5 Q184.9 234.9 183.0 230.4Z" stroke-width="0.5" opacity="0.33"/>
<line x1="183.0" y1="230.4" x2="186.2" y2="227.0" stroke-width="0.5" opacity="0.7"/>
<path d="M183.5 233.0 Q179.5 235.6 179.3 239.0 Q182.3 237.6 183.5 233.0Z" stroke-width="0.5" opacity="0.50"/>
<line x1="179.3" y1="239.0" x2="176.6" y2="242.3" stroke-width="0.5" opacity="0.7"/>
<path d="M183.3 231.7 Q176.2 232.9 178.5 237.2 Q182.9 238.9 183.3 231.7Z" stroke-width="0.7" opacity="0.51"/>
<path d="M188.1 231.6 Q184.4 236.0 189.2 236.6 Q193.3 234.0 188.1 231.6Z" stroke-width="0.5" opacity="0.36"/>
<line x1="188.1" y1="231.6" x2="187.1" y2="226.7" stroke-width="0.5" opacity="0.7"/>
<path d="M192.5 232.2 Q187.2 232.2 187.0 235.8 Q190.3 237.0 192.5 232.2Z" stroke-width="0.7" opacity="0.67"/>
<line x1="187.0" y1="235.8" x2="184.5" y2="236.0" stroke-width="0.5" opacity="0.7"/>
<path d="M188.2 228.3 Q184.8 230.4 188.3 231.6 Q191.7 230.1 188.2 228.3Z" stroke-width="0.6" opacity="0.58"/>
<path d="M181.1 229.8 Q178.1 232.7 182.0 232.3 Q185.4 230.3 181.1 229.8Z" stroke-width="0.4" opacity="0.36"/>
<line x1="182.0" y1="232.3" x2="183.2" y2="237.9" stroke-width="0.5" opacity="0.7"/>
<path d="M185.7 233.9 Q184.3 236.4 186.1 237.7 Q187.6 236.1 185.7 233.9Z" stroke-width="0.5" opacity="0.50"/>
<line x1="185.7" y1="233.9" x2="185.4" y2="231.0" stroke-width="0.5" opacity="0.7"/>
<path d="M184.8 229.4 Q182.1 226.9 178.5 231.9 Q184.5 233.1 184.8 229.4Z" stroke-width="0.5" opacity="0.36"/>
<path d="M183.6 233.8 Q180.0 234.4 182.1 236.6 Q185.1 237.2 183.6 233.8Z" stroke-width="0.6" opacity="0.43"/>
<path d="M194.8 246.6 Q192.4 249.6 196.1 249.2 Q198.6 246.4 194.8 246.6Z" stroke-width="0.8" opacity="0.59"/>
<line x1="196.1" y1="249.2" x2="198.6" y2="253.8" stroke-width="0.5" opacity="0.7"/>
<path d="M196.8 240.6 Q194.4 240.7 195.5 243.4 Q198.3 242.5 196.8 240.6Z" stroke-width="0.9" opacity="0.52"/>
<path d="M193.5 236.0 Q191.5 239.2 197.1 243.0 Q197.2 236.3 193.5 236.0Z" stroke-width="0.9" opacity="0.33"/>
<line x1="197.1" y1="243.0" x2="196.7" y2="246.4" stroke-width="0.5" opacity="0.7"/>
<path d="M189.8 241.2 Q190.7 246.8 193.5 245.0 Q195.4 242.3 189.8 241.2Z" stroke-width="0.7" opacity="0.63"/>
<path d="M196.8 247.5 Q191.2 248.7 193.9 251.9 Q198.0 253.1 196.8 247.5Z" stroke-width="0.9" opacity="0.42"/>
<path d="M199.1 245.7 Q194.4 244.9 198.2 248.6 Q203.3 247.8 199.1 245.7Z" stroke-width="0.7" opacity="0.67"/>
<line x1="199.1" y1="245.7" x2="200.8" y2="239.3" stroke-width="0.5" opacity="0.7"/>
<path d="M196.9 241.1 Q195.4 242.6 198.3 246.7 Q198.9 241.7 196.9 241.1Z" stroke-width="0.8" opacity="0.32"/>
<line x1="198.3" y1="246.7" x2="200.3" y2="251.5" stroke-width="0.5" opacity="0.7"/>
<path d="M194.5 240.2 Q191.3 238.5 192.1 241.5 Q194.3 243.8 194.5 240.2Z" stroke-width="0.8" opacity="0.64"/>
<line x1="194.5" y1="240.2" x2="199.3" y2="237.6" stroke-width="0.5" opacity="0.7"/>
<path d="M203.1 239.3 Q197.7 242.0 200.3 246.4 Q205.3 244.9 203.1 239.3Z" stroke-width="0.8" opacity="0.32"/>
<path d="M196.1 242.9 Q193.8 246.9 195.6 250.6 Q197.8 247.1 196.1 242.9Z" stroke-width="0.8" opacity="0.49"/>
<path d="M197.5 242.7 Q193.2 241.1 196.1 244.9 Q200.7 245.9 197.5 242.7Z" stroke-width="0.4" opacity="0.63"/>
<path d="M205.1 242.8 Q200.3 243.6 200.6 248.0 Q205.0 247.7 205.1 242.8Z" stroke-width="0.5" opacity="0.50"/>
<line x1="205.1" y1="242.8" x2="210.6" y2="237.7" stroke-width="0.5" opacity="0.7"/>
<path d="M156.0 265.2 Q160.0 269.7 162.9 267.2 Q161.8 263.5 156.0 265.2Z" stroke-width="0.8" opacity="0.39"/>
<line x1="156.0" y1="265.2" x2="150.7" y2="262.3" stroke-width="0.5" opacity="0.7"/>
<path d="M159.8 268.9 Q156.6 266.0 156.1 269.6 Q158.0 272.7 159.8 268.9Z" stroke-width="0.6" opacity="0.39"/>
<line x1="159.8" y1="268.9" x2="162.6" y2="267.7" stroke-width="0.5" opacity="0.7"/>
<path d="M164.7 265.2 Q162.9 261.1 161.8 265.5 Q163.8 269.6 164.7 265.2Z" stroke-width="0.6" opacity="0.53"/>
<line x1="164.7" y1="265.2" x2="171.0" y2="264.2" stroke-width="0.5" opacity="0.7"/>
<path d="M160.2 259.4 Q157.0 259.7 159.8 263.3 Q163.2 260.3 160.2 259.4Z" stroke-width="0.7" opacity="0.63"/>
<path d="M158.6 267.2 Q156.8 273.4 160.8 274.0 Q163.8 271.2 158.6 267.2Z" stroke-width="0.5" opacity="0.51"/>
<line x1="160.8" y1="274.0" x2="162.8" y2="279.0" stroke-width="0.5" opacity="0.7"/>
<path d="M158.4 266.5 Q155.0 263.2 155.3 268.0 Q158.8 271.2 158.4 266.5Z" stroke-width="0.7" opacity="0.57"/>
<line x1="155.3" y1="268.0" x2="152.7" y2="270.5" stroke-width="0.5" opacity="0.7"/>
<path d="M156.5 265.2 Q157.1 268.7 159.4 266.3 Q159.1 262.9 156.5 265.2Z" stroke-width="0.5" opacity="0.45"/>
<line x1="156.5" y1="265.2" x2="151.8" y2="263.1" stroke-width="0.5" opacity="0.7"/>
<path d="M161.7 262.0 Q158.9 264.1 162.7 265.2 Q165.2 262.2 161.7 262.0Z" stroke-width="0.5" opacity="0.50"/>
<line x1="161.7" y1="262.0" x2="160.8" y2="257.4" stroke-width="0.5" opacity="0.7"/>
<path d="M168.0 271.8 Q164.4 269.7 162.7 273.9 Q166.8 275.8 168.0 271.8Z" stroke-width="0.6" opacity="0.62"/>
<path d="M163.4 262.7 Q164.0 267.6 168.3 265.4 Q167.9 260.7 163.4 262.7Z" stroke-width="0.8" opacity="0.62"/>
<line x1="163.4" y1="262.7" x2="159.9" y2="260.8" stroke-width="0.5" opacity="0.7"/>
<path d="M154.1 264.0 Q150.8 266.8 154.0 267.5 Q157.2 266.9 154.1 264.0Z" stroke-width="0.8" opacity="0.40"/>
<line x1="154.0" y1="267.5" x2="154.1" y2="269.1" stroke-width="0.5" opacity="0.7"/>
<path d="M164.8 266.0 Q160.8 265.0 157.8 269.4 Q163.1 269.6 164.8 266.0Z" stroke-width="0.5" opacity="0.57"/>
<path d="M159.4 266.3 Q158.5 271.0 161.6 269.4 Q164.2 266.9 159.4 266.3Z" stroke-width="0.7" opacity="0.57"/>
<line x1="161.6" y1="269.4" x2="166.3" y2="275.3" stroke-width="0.5" opacity="0.7"/>
<path d="M163.2 270.2 Q157.1 268.8 155.8 270.5 Q157.3 272.2 163.2 270.2Z" stroke-width="0.8" opacity="0.69"/>
<line x1="155.8" y1="270.5" x2="151.2" y2="270.6" stroke-width="0.5" opacity="0.7"/>
<path d="M173.6 270.4 Q169.8 270.5 173.0 273.6 Q177.1 271.8 173.6 270.4Z" stroke-width="0.6" opacity="0.44"/>
<path d="M178.8 265.8 Q178.8 269.4 181.7 271.4 Q181.7 267.9 178.8 265.8Z" stroke-width="0.5" opacity="0.58"/>
<path d="M183.3 268.5 Q183.1 272.9 187.6 274.0 Q187.7 269.3 183.3 268.5Z" stroke-width="0.6" opacity="0.66"/>
<path d="M176.8 265.4 Q180.0 269.4 182.0 267.0 Q181.7 263.9 176.8 265.4Z" stroke-width="0.4" opacity="0.42"/>
<path d="M177.8 270.1 Q178.8 273.9 180.6 272.4 Q181.6 270.4 177.8 270.1Z" stroke-width="0.8" opacity="0.60"/>
<path d="M182.9 267.5 Q179.2 267.5 182.3 270.3 Q186.3 269.1 182.9 267.5Z" stroke-width="0.8" opacity="0.50"/>
<path d="M179.1 265.0 Q179.1 267.3 185.5 267.4 Q180.6 263.2 179.1 265.0Z" stroke-width="0.4" opacity="0.56"/>
<path d="M179.6 261.8 Q176.6 264.8 177.5 267.6 Q179.9 266.0 179.6 261.8Z" stroke-width="0.7" opacity="0.31"/>
<line x1="179.6" y1="261.8" x2="181.6" y2="256.8" stroke-width="0.5" opacity="0.7"/>
<path d="M177.1 272.7 Q176.1 277.4 179.8 274.0 Q180.0 268.9 177.1 272.7Z" stroke-width="0.4" opacity="0.52"/>
<path d="M175.8 270.9 Q170.8 271.9 170.5 275.3 Q173.9 275.7 175.8 270.9Z" stroke-width="0.7" opacity="0.67"/>
<line x1="170.5" y1="275.3" x2="165.7" y2="280.5" stroke-width="0.5" opacity="0.7"/>
<path d="M177.9 262.6 Q177.8 266.9 182.2 267.7 Q182.1 263.2 177.9 262.6Z" stroke-width="0.5" opacity="0.56"/>
<path d="M172.0 267.9 Q173.3 270.0 177.7 269.6 Q174.3 266.8 172.0 267.9Z" stroke-width="0.9" opacity="0.52"/>
<line x1="177.7" y1="269.6" x2="179.8" y2="269.0" stroke-width="0.5" opacity="0.7"/>
<path d="M210.8 260.2 Q209.1 256.4 208.1 260.5 Q209.8 264.4 210.8 260.2Z" stroke-width="0.9" opacity="0.60"/>
<path d="M207.8 252.2 Q203.9 250.6 203.8 253.8 Q206.2 256.1 207.8 252.2Z" stroke-width="0.7" opacity="0.39"/>
<line x1="207.8" y1="252.2" x2="212.3" y2="250.4" stroke-width="0.5" opacity="0.7"/>
<path d="M209.7 249.5 Q205.6 246.9 204.4 251.0 Q207.5 253.9 209.7 249.5Z" stroke-width="0.6" opacity="0.34"/>
<line x1="204.4" y1="251.0" x2="201.7" y2="253.0" stroke-width="0.5" opacity="0.7"/>
<path d="M207.3 255.4 Q207.4 259.9 210.9 255.9 Q208.6 251.1 207.3 255.4Z" stroke-width="0.7" opacity="0.37"/>
<path d="M207.3 258.5 Q203.9 260.5 206.5 262.0 Q209.4 261.8 207.3 258.5Z" stroke-width="0.7" opacity="0.60"/>
<path d="M208.9 253.8 Q205.7 249.4 205.0 253.8 Q205.9 258.2 208.9 253.8Z" stroke-width="0.8" opacity="0.62"/>
<path d="M210.5 251.2 Q207.4 253.3 211.6 258.1 Q214.2 252.3 210.5 251.2Z" stroke-width="0.8" opacity="0.37"/>
<path d="M207.0 253.3 Q205.2 254.9 208.9 257.5 Q209.4 252.9 207.0 253.3Z" stroke-width="0.6" opacity="0.36"/>
<path d="M204.1 255.4 Q204.7 258.7 211.6 257.6 Q206.4 253.0 204.1 255.4Z" stroke-width="0.8" opacity="0.58"/>
<line x1="204.1" y1="255.4" x2="199.8" y2="254.3" stroke-width="0.5" opacity="0.7"/>
<path d="M210.1 250.3 Q207.7 250.8 207.6 254.6 Q210.9 252.7 210.1 250.3Z" stroke-width="0.5" opacity="0.37"/>
<path d="M212.3 269.8 Q211.5 275.3 214.4 275.4 Q216.5 273.4 212.3 269.8Z" stroke-width="0.5" opacity="0.63"/>
<line x1="214.4" y1="275.4" x2="216.9" y2="280.2" stroke-width="0.5" opacity="0.7"/>
<path d="M210.2 273.7 Q204.5 274.3 207.6 277.9 Q212.2 279.0 210.2 273.7Z" stroke-width="0.8" opacity="0.54"/>
<path d="M207.1 272.1 Q206.6 277.4 210.7 277.5 Q212.2 273.7 207.1 272.1Z" stroke-width="0.6" opacity="0.38"/>
<line x1="207.1" y1="272.1" x2="204.6" y2="266.5" stroke-width="0.5" opacity="0.7"/>
<path d="M214.0 275.2 Q210.9 274.4 211.8 276.7 Q213.6 278.3 214.0 275.2Z" stroke-width="0.8" opacity="0.67"/>
<line x1="211.8" y1="276.7" x2="210.0" y2="278.6" stroke-width="0.5" opacity="0.7"/>
<path d="M208.7 275.0 Q204.7 276.3 209.1 277.6 Q212.8 275.0 208.7 275.0Z" stroke-width="0.4" opacity="0.40"/>
<line x1="208.7" y1="275.0" x2="208.8" y2="267.5" stroke-width="0.5" opacity="0.7"/>
<path d="M206.8 269.0 Q208.9 275.9 212.2 274.3 Q213.7 271.0 206.8 269.0Z" stroke-width="0.4" opacity="0.40"/>
<path d="M208.8 273.4 Q204.6 272.4 207.0 275.6 Q210.5 277.4 208.8 273.4Z" stroke-width="0.5" opacity="0.44"/>
<path d="M206.3 275.4 Q207.5 279.7 210.3 278.6 Q210.8 275.7 206.3 275.4Z" stroke-width="0.6" opacity="0.35"/>
<line x1="206.3" y1="275.4" x2="202.6" y2="272.4" stroke-width="0.5" opacity="0.7"/>
<path d="M155.4 245.2 Q152.0 247.2 152.4 249.5 Q154.7 249.1 155.4 245.2Z" stroke-width="0.5" opacity="0.40"/>
<line x1="152.4" y1="249.5" x2="150.9" y2="251.8" stroke-width="0.5" opacity="0.7"/>
<path d="M156.5 260.2 Q151.7 261.9 152.8 266.0 Q157.0 265.3 156.5 260.2Z" stroke-width="0.8" opacity="0.67"/>
<line x1="156.5" y1="260.2" x2="157.6" y2="256.1" stroke-width="0.5" opacity="0.7"/>
<path d="M165.2 278.2 Q167.7 283.4 170.5 282.5 Q170.9 279.6 165.2 278.2Z" stroke-width="0.8" opacity="0.30"/>
<line x1="165.2" y1="278.2" x2="160.9" y2="274.1" stroke-width="0.5" opacity="0.7"/>
<path d="M181.8 261.0 Q178.9 262.5 179.7 264.3 Q181.7 264.3 181.8 261.0Z" stroke-width="0.7" opacity="0.58"/>
<line x1="181.8" y1="261.0" x2="184.9" y2="256.3" stroke-width="0.5" opacity="0.7"/>
<path d="M180.1 271.0 Q185.1 277.1 187.2 272.7 Q187.3 267.9 180.1 271.0Z" stroke-width="0.7" opacity="0.45"/>
<path d="M194.8 259.9 Q193.6 261.7 197.3 263.0 Q196.8 259.1 194.8 259.9Z" stroke-width="0.9" opacity="0.59"/>
<line x1="197.3" y1="263.0" x2="201.2" y2="266.1" stroke-width="0.5" opacity="0.7"/>
<path d="M149.5 231.0 Q147.4 231.0 149.0 233.5 Q151.4 231.8 149.5 231.0Z" stroke-width="0.8" opacity="0.45"/>
<path d="M197.0 245.9 Q197.2 248.2 202.1 250.2 Q199.2 245.7 197.0 245.9Z" stroke-width="0.8" opacity="0.36"/>
<line x1="202.1" y1="250.2" x2="205.5" y2="253.0" stroke-width="0.5" opacity="0.7"/>
<path d="M215.3 259.6 Q213.7 260.0 215.3 262.7 Q216.9 260.1 215.3 259.6Z" stroke-width="0.8" opacity="0.47"/>
<line x1="215.3" y1="262.7" x2="214.7" y2="266.9" stroke-width="0.5" opacity="0.7"/>
<path d="M206.0 266.7 Q204.6 265.7 203.3 268.3 Q206.2 268.5 206.0 266.7Z" stroke-width="0.9" opacity="0.55"/>
<line x1="203.3" y1="268.3" x2="198.2" y2="269.4" stroke-width="0.5" opacity="0.7"/>
<circle cx="182.0" cy="235.7" r="1.4" fill="#d2d2d2" stroke="none" opacity="0.75" filter="url(#bl07)"/>
</g></g>
<rect x="147.4" y="224.4" width="69.2" height="57.6" fill="none" stroke="#3a3a3a" stroke-width="0.9"/>
<clipPath id="clip104"><rect x="219" y="224" width="70" height="58.4"/></clipPath>
<rect x="219" y="224" width="70" height="58.4" filter="url(#texGr)"/>
<g clip-path="url(#clip104)">
<g filter="url(#bl07)" fill="#dcf8f0">
<path d="M260.3 236.7 Q258.8 238.6 261.1 241.8 Q262.3 238.1 260.3 236.7Z" opacity="0.18"/>
<path d="M248.5 237.5 Q250.0 242.0 254.5 238.4 Q251.2 233.7 248.5 237.5Z" opacity="0.14"/>
<path d="M251.0 246.1 Q245.9 244.8 245.2 250.8 Q251.2 251.3 251.0 246.1Z" opacity="0.09"/>
<path d="M255.4 238.9 Q249.5 237.5 248.8 243.1 Q254.2 244.8 255.4 238.9Z" opacity="0.11"/>
<path d="M253.5 249.2 Q254.0 251.3 259.5 249.9 Q254.4 247.3 253.5 249.2Z" opacity="0.19"/>
<path d="M258.8 246.3 Q256.7 243.4 256.0 246.8 Q257.8 249.8 258.8 246.3Z" opacity="0.10"/>
<path d="M251.7 247.4 Q248.9 243.8 245.0 248.6 Q250.3 251.7 251.7 247.4Z" opacity="0.14"/>
<path d="M255.0 234.1 Q252.8 239.3 257.7 238.6 Q260.7 234.7 255.0 234.1Z" opacity="0.17"/>
<path d="M246.5 243.0 Q246.7 245.7 250.3 245.8 Q249.2 242.4 246.5 243.0Z" opacity="0.17"/>
<path d="M246.1 235.3 Q242.5 238.0 247.3 237.7 Q250.4 234.1 246.1 235.3Z" opacity="0.15"/>
<path d="M249.5 242.3 Q246.1 243.3 244.4 247.0 Q248.3 245.7 249.5 242.3Z" opacity="0.17"/>
<path d="M249.6 240.6 Q249.1 237.7 246.6 240.7 Q249.4 243.5 249.6 240.6Z" opacity="0.20"/>
<path d="M255.4 245.7 Q253.0 246.1 254.2 249.6 Q257.1 247.3 255.4 245.7Z" opacity="0.13"/>
<path d="M261.1 245.1 Q259.2 242.6 254.0 246.2 Q260.1 248.0 261.1 245.1Z" opacity="0.11"/>
<path d="M252.8 233.0 Q253.5 234.8 256.6 233.5 Q254.0 231.4 252.8 233.0Z" opacity="0.12"/>
<path d="M253.7 244.7 Q250.1 243.8 250.0 249.1 Q255.2 248.2 253.7 244.7Z" opacity="0.16"/>
<path d="M254.6 236.8 Q251.5 240.8 257.7 241.8 Q259.5 235.7 254.6 236.8Z" opacity="0.09"/>
<path d="M255.9 239.7 Q250.9 239.4 254.4 242.9 Q259.4 243.3 255.9 239.7Z" opacity="0.18"/>
<path d="M250.5 238.9 Q251.9 242.6 254.5 242.3 Q254.3 239.8 250.5 238.9Z" opacity="0.10"/>
<path d="M249.5 233.5 Q247.6 230.7 245.8 234.6 Q249.5 236.9 249.5 233.5Z" opacity="0.08"/>
<path d="M246.7 237.5 Q241.1 237.5 243.2 241.2 Q246.9 243.1 246.7 237.5Z" opacity="0.16"/>
<path d="M257.6 233.9 Q258.2 239.0 263.3 238.8 Q262.7 233.8 257.6 233.9Z" opacity="0.10"/>
<path d="M252.3 244.2 Q251.7 247.1 256.9 250.3 Q255.3 244.4 252.3 244.2Z" opacity="0.17"/>
<path d="M253.5 241.1 Q256.5 244.8 260.1 244.5 Q258.3 241.4 253.5 241.1Z" opacity="0.09"/>
<path d="M255.9 241.4 Q250.7 242.4 251.3 246.0 Q254.9 246.6 255.9 241.4Z" opacity="0.10"/>
<path d="M252.0 238.4 Q248.9 239.6 249.3 242.2 Q251.9 241.7 252.0 238.4Z" opacity="0.13"/>
<path d="M248.3 241.1 Q249.5 245.2 255.9 242.6 Q251.0 237.7 248.3 241.1Z" opacity="0.16"/>
<path d="M252.2 236.4 Q249.6 239.6 254.5 239.8 Q256.1 235.1 252.2 236.4Z" opacity="0.14"/>
<path d="M259.8 260.1 Q257.3 262.5 259.8 263.6 Q262.3 262.4 259.8 260.1Z" opacity="0.19"/>
<path d="M253.3 249.1 Q250.3 255.0 252.1 256.2 Q254.1 255.6 253.3 249.1Z" opacity="0.19"/>
<path d="M249.5 255.3 Q246.1 257.5 247.4 259.4 Q249.7 259.3 249.5 255.3Z" opacity="0.08"/>
<path d="M252.5 254.0 Q251.5 256.0 254.0 256.3 Q254.6 253.8 252.5 254.0Z" opacity="0.18"/>
<path d="M257.4 251.7 Q256.3 254.8 258.2 254.7 Q259.9 253.9 257.4 251.7Z" opacity="0.20"/>
<path d="M262.0 252.2 Q259.9 250.0 256.4 252.9 Q260.5 254.9 262.0 252.2Z" opacity="0.10"/>
<path d="M255.4 254.1 Q258.0 256.3 258.7 254.4 Q258.3 252.3 255.4 254.1Z" opacity="0.12"/>
<path d="M247.2 255.3 Q242.4 255.6 246.5 260.7 Q251.8 256.8 247.2 255.3Z" opacity="0.14"/>
<path d="M251.4 257.6 Q250.7 260.3 255.3 259.8 Q253.3 255.6 251.4 257.6Z" opacity="0.20"/>
<path d="M259.6 256.9 Q256.9 253.0 253.4 258.2 Q258.7 261.6 259.6 256.9Z" opacity="0.10"/>
<path d="M251.5 258.2 Q246.0 258.3 246.3 260.9 Q248.3 262.6 251.5 258.2Z" opacity="0.10"/>
<path d="M260.3 261.9 Q257.3 260.8 257.9 262.9 Q259.1 264.9 260.3 261.9Z" opacity="0.18"/>
<path d="M248.5 251.4 Q245.2 255.8 246.3 258.3 Q248.7 256.9 248.5 251.4Z" opacity="0.10"/>
<path d="M253.1 254.7 Q250.3 252.7 248.9 258.3 Q254.7 257.7 253.1 254.7Z" opacity="0.19"/>
<path d="M246.4 252.8 Q241.4 254.2 245.5 258.4 Q250.7 255.7 246.4 252.8Z" opacity="0.12"/>
<path d="M249.6 251.6 Q244.3 251.7 248.0 254.4 Q252.0 256.3 249.6 251.6Z" opacity="0.20"/>
<path d="M264.4 257.8 Q257.5 257.0 257.4 261.3 Q260.8 263.8 264.4 257.8Z" opacity="0.10"/>
<path d="M256.3 258.7 Q251.3 261.2 252.9 264.3 Q256.3 264.3 256.3 258.7Z" opacity="0.11"/>
<path d="M253.3 259.5 Q248.9 259.7 252.1 263.3 Q256.7 262.3 253.3 259.5Z" opacity="0.17"/>
<path d="M254.2 260.1 Q253.9 264.7 259.0 261.1 Q255.8 255.8 254.2 260.1Z" opacity="0.17"/>
<path d="M282.6 245.9 Q277.8 246.1 277.9 248.2 Q279.5 249.6 282.6 245.9Z" opacity="0.16"/>
<path d="M281.3 241.3 Q277.2 243.2 279.2 245.2 Q282.0 245.8 281.3 241.3Z" opacity="0.10"/>
<path d="M278.7 242.7 Q276.2 247.3 281.6 248.0 Q284.0 243.0 278.7 242.7Z" opacity="0.13"/>
<path d="M276.3 241.4 Q273.4 245.1 278.5 247.3 Q280.8 242.2 276.3 241.4Z" opacity="0.16"/>
<path d="M277.7 240.4 Q273.8 242.2 277.0 247.5 Q281.2 242.9 277.7 240.4Z" opacity="0.16"/>
<path d="M279.7 246.9 Q278.9 248.8 282.9 250.0 Q281.5 246.1 279.7 246.9Z" opacity="0.19"/>
<path d="M286.0 245.4 Q282.0 247.6 285.3 249.1 Q289.0 248.9 286.0 245.4Z" opacity="0.17"/>
<path d="M275.2 240.5 Q274.8 245.6 277.8 245.5 Q279.6 243.1 275.2 240.5Z" opacity="0.15"/>
<path d="M273.3 241.1 Q271.3 242.0 273.7 243.6 Q275.5 241.3 273.3 241.1Z" opacity="0.16"/>
<path d="M277.1 242.4 Q273.8 245.1 275.4 246.8 Q277.7 246.6 277.1 242.4Z" opacity="0.15"/>
<path d="M278.3 247.9 Q279.2 252.0 283.0 247.9 Q279.2 243.8 278.3 247.9Z" opacity="0.18"/>
<path d="M279.6 238.3 Q277.6 242.3 281.7 240.8 Q283.9 237.0 279.6 238.3Z" opacity="0.12"/>
<path d="M277.8 247.4 Q275.7 252.1 279.9 254.3 Q282.2 250.1 277.8 247.4Z" opacity="0.15"/>
<path d="M282.6 243.9 Q278.9 244.7 281.8 250.0 Q285.9 245.7 282.6 243.9Z" opacity="0.14"/>
<path d="M284.6 236.5 Q277.8 235.0 277.3 239.4 Q280.7 242.3 284.6 236.5Z" opacity="0.07"/>
<path d="M280.2 242.7 Q277.0 242.7 279.0 246.3 Q282.8 244.5 280.2 242.7Z" opacity="0.12"/>
<path d="M233.3 268.6 Q228.7 273.4 231.5 275.4 Q234.9 275.1 233.3 268.6Z" opacity="0.10"/>
<path d="M240.9 272.3 Q238.1 272.3 239.6 276.4 Q243.2 273.8 240.9 272.3Z" opacity="0.11"/>
<path d="M239.0 272.9 Q236.5 270.9 235.1 273.3 Q236.9 275.4 239.0 272.9Z" opacity="0.06"/>
<path d="M235.6 272.8 Q234.0 277.0 239.3 278.6 Q240.2 273.1 235.6 272.8Z" opacity="0.18"/>
<path d="M238.8 266.6 Q234.3 268.7 236.3 273.9 Q241.0 271.1 238.8 266.6Z" opacity="0.10"/>
<path d="M237.5 266.7 Q232.1 266.4 230.6 269.5 Q233.9 270.7 237.5 266.7Z" opacity="0.13"/>
<path d="M240.9 270.7 Q236.2 274.3 241.1 277.2 Q245.8 274.0 240.9 270.7Z" opacity="0.09"/>
<path d="M243.7 277.2 Q238.9 275.4 239.4 279.4 Q242.3 282.1 243.7 277.2Z" opacity="0.13"/>
<path d="M230.7 273.7 Q232.5 278.1 234.4 274.1 Q233.4 269.8 230.7 273.7Z" opacity="0.17"/>
<path d="M239.5 265.5 Q236.8 265.7 238.8 268.9 Q241.9 266.8 239.5 265.5Z" opacity="0.15"/>
<path d="M240.4 272.2 Q235.6 271.4 235.4 276.4 Q240.4 277.1 240.4 272.2Z" opacity="0.17"/>
<path d="M235.4 273.3 Q230.9 277.1 234.4 280.3 Q238.7 278.3 235.4 273.3Z" opacity="0.15"/>
<path d="M231.2 273.7 Q229.0 276.6 233.6 276.8 Q234.4 272.2 231.2 273.7Z" opacity="0.20"/>
<path d="M242.2 269.7 Q237.8 271.5 242.7 275.5 Q246.9 270.6 242.2 269.7Z" opacity="0.14"/>
<path d="M275.6 268.0 Q271.7 270.7 272.9 273.4 Q275.7 272.7 275.6 268.0Z" opacity="0.08"/>
<path d="M269.6 274.8 Q267.5 277.5 270.2 278.4 Q272.5 276.6 269.6 274.8Z" opacity="0.07"/>
<path d="M273.0 272.9 Q266.9 276.6 271.0 278.9 Q275.7 279.5 273.0 272.9Z" opacity="0.19"/>
<path d="M275.4 276.9 Q272.5 274.8 271.7 277.3 Q272.9 279.6 275.4 276.9Z" opacity="0.14"/>
<path d="M265.6 276.3 Q265.7 279.0 268.9 279.7 Q268.3 276.5 265.6 276.3Z" opacity="0.15"/>
<path d="M271.1 273.8 Q269.2 270.7 268.6 274.5 Q271.1 277.5 271.1 273.8Z" opacity="0.16"/>
<path d="M268.9 275.9 Q267.3 279.1 270.2 280.1 Q272.0 277.6 268.9 275.9Z" opacity="0.16"/>
<path d="M270.1 266.4 Q273.1 268.9 274.1 267.3 Q273.8 265.4 270.1 266.4Z" opacity="0.11"/>
<path d="M267.0 268.1 Q266.2 272.8 268.6 274.0 Q270.0 271.7 267.0 268.1Z" opacity="0.09"/>
<path d="M271.7 272.5 Q269.9 268.8 267.2 272.5 Q270.0 276.2 271.7 272.5Z" opacity="0.14"/>
<path d="M272.4 269.2 Q269.3 269.9 269.4 273.2 Q272.6 272.3 272.4 269.2Z" opacity="0.11"/>
<path d="M270.4 269.3 Q266.8 271.3 268.4 274.4 Q271.6 273.2 270.4 269.3Z" opacity="0.13"/>
<path d="M225.1 238.2 Q225.5 242.5 232.4 240.1 Q227.6 234.6 225.1 238.2Z" opacity="0.11"/>
<path d="M227.9 235.1 Q227.6 237.6 231.8 237.6 Q230.0 233.9 227.9 235.1Z" opacity="0.20"/>
<path d="M234.0 232.2 Q230.1 232.8 228.3 236.6 Q232.5 235.8 234.0 232.2Z" opacity="0.19"/>
<path d="M230.9 233.7 Q231.0 237.8 235.9 238.0 Q235.0 233.2 230.9 233.7Z" opacity="0.16"/>
<path d="M234.5 232.1 Q229.4 233.1 231.0 238.8 Q236.6 236.8 234.5 232.1Z" opacity="0.18"/>
<path d="M231.8 233.0 Q230.0 235.8 232.5 239.5 Q234.1 235.3 231.8 233.0Z" opacity="0.14"/>
<path d="M259.5 237.1 Q258.9 241.6 263.8 239.5 Q263.0 234.2 259.5 237.1Z" opacity="0.11"/>
<path d="M250.9 266.5 Q247.7 264.8 245.5 268.1 Q249.2 269.7 250.9 266.5Z" opacity="0.11"/>
<path d="M264.2 271.6 Q263.0 274.0 265.8 273.5 Q266.8 270.8 264.2 271.6Z" opacity="0.11"/>
<path d="M285.2 253.1 Q281.2 255.8 285.8 255.5 Q290.1 253.6 285.2 253.1Z" opacity="0.14"/>
<path d="M286.2 228.8 Q286.1 234.0 289.1 232.9 Q291.1 230.4 286.2 228.8Z" opacity="0.07"/>
<path d="M254.2 262.2 Q252.4 265.2 256.3 264.7 Q257.4 261.0 254.2 262.2Z" opacity="0.07"/>
<path d="M283.1 250.2 Q280.4 254.5 284.9 252.7 Q288.1 249.3 283.1 250.2Z" opacity="0.20"/>
<path d="M249.0 272.8 Q245.1 276.8 250.1 279.3 Q254.0 275.2 249.0 272.8Z" opacity="0.08"/>
</g>
<g filter="url(#bl04)" fill="none" stroke="#dcf8f0" stroke-linecap="round" opacity="1.0">
<path d="M260.3 236.7 Q258.8 238.6 261.1 241.8 Q262.3 238.1 260.3 236.7Z" stroke-width="0.5" opacity="0.57"/>
<line x1="261.1" y1="241.8" x2="260.5" y2="247.0" stroke-width="0.5" opacity="0.7"/>
<path d="M248.5 237.5 Q250.0 242.0 254.5 238.4 Q251.2 233.7 248.5 237.5Z" stroke-width="0.8" opacity="0.39"/>
<line x1="248.5" y1="237.5" x2="242.5" y2="235.5" stroke-width="0.5" opacity="0.7"/>
<path d="M251.0 246.1 Q245.9 244.8 245.2 250.8 Q251.2 251.3 251.0 246.1Z" stroke-width="0.5" opacity="0.37"/>
<line x1="245.2" y1="250.8" x2="240.4" y2="255.9" stroke-width="0.5" opacity="0.7"/>
<path d="M255.4 238.9 Q249.5 237.5 248.8 243.1 Q254.2 244.8 255.4 238.9Z" stroke-width="0.6" opacity="0.62"/>
<line x1="248.8" y1="243.1" x2="242.6" y2="245.4" stroke-width="0.5" opacity="0.7"/>
<path d="M253.5 249.2 Q254.0 251.3 259.5 249.9 Q254.4 247.3 253.5 249.2Z" stroke-width="0.5" opacity="0.32"/>
<path d="M258.8 246.3 Q256.7 243.4 256.0 246.8 Q257.8 249.8 258.8 246.3Z" stroke-width="0.5" opacity="0.69"/>
<path d="M251.7 247.4 Q248.9 243.8 245.0 248.6 Q250.3 251.7 251.7 247.4Z" stroke-width="0.5" opacity="0.66"/>
<line x1="245.0" y1="248.6" x2="239.5" y2="249.4" stroke-width="0.5" opacity="0.7"/>
<path d="M255.0 234.1 Q252.8 239.3 257.7 238.6 Q260.7 234.7 255.0 234.1Z" stroke-width="0.4" opacity="0.50"/>
<path d="M246.5 243.0 Q246.7 245.7 250.3 245.8 Q249.2 242.4 246.5 243.0Z" stroke-width="0.7" opacity="0.60"/>
<line x1="250.3" y1="245.8" x2="255.0" y2="248.0" stroke-width="0.5" opacity="0.7"/>
<path d="M246.1 235.3 Q242.5 238.0 247.3 237.7 Q250.4 234.1 246.1 235.3Z" stroke-width="0.6" opacity="0.42"/>
<path d="M249.5 242.3 Q246.1 243.3 244.4 247.0 Q248.3 245.7 249.5 242.3Z" stroke-width="0.7" opacity="0.65"/>
<line x1="244.4" y1="247.0" x2="240.9" y2="247.9" stroke-width="0.5" opacity="0.7"/>
<path d="M249.6 240.6 Q249.1 237.7 246.6 240.7 Q249.4 243.5 249.6 240.6Z" stroke-width="0.6" opacity="0.69"/>
<path d="M255.4 245.7 Q253.0 246.1 254.2 249.6 Q257.1 247.3 255.4 245.7Z" stroke-width="0.5" opacity="0.30"/>
<line x1="255.4" y1="245.7" x2="255.4" y2="242.6" stroke-width="0.5" opacity="0.7"/>
<path d="M261.1 245.1 Q259.2 242.6 254.0 246.2 Q260.1 248.0 261.1 245.1Z" stroke-width="0.8" opacity="0.51"/>
<path d="M252.8 233.0 Q253.5 234.8 256.6 233.5 Q254.0 231.4 252.8 233.0Z" stroke-width="0.4" opacity="0.32"/>
<line x1="256.6" y1="233.5" x2="260.5" y2="234.3" stroke-width="0.5" opacity="0.7"/>
<path d="M253.7 244.7 Q250.1 243.8 250.0 249.1 Q255.2 248.2 253.7 244.7Z" stroke-width="0.6" opacity="0.30"/>
<line x1="250.0" y1="249.1" x2="246.3" y2="253.9" stroke-width="0.5" opacity="0.7"/>
<path d="M254.6 236.8 Q251.5 240.8 257.7 241.8 Q259.5 235.7 254.6 236.8Z" stroke-width="0.7" opacity="0.34"/>
<path d="M255.9 239.7 Q250.9 239.4 254.4 242.9 Q259.4 243.3 255.9 239.7Z" stroke-width="0.6" opacity="0.62"/>
<path d="M250.5 238.9 Q251.9 242.6 254.5 242.3 Q254.3 239.8 250.5 238.9Z" stroke-width="0.5" opacity="0.58"/>
<path d="M249.5 233.5 Q247.6 230.7 245.8 234.6 Q249.5 236.9 249.5 233.5Z" stroke-width="0.6" opacity="0.33"/>
<path d="M246.7 237.5 Q241.1 237.5 243.2 241.2 Q246.9 243.1 246.7 237.5Z" stroke-width="0.5" opacity="0.40"/>
<path d="M257.6 233.9 Q258.2 239.0 263.3 238.8 Q262.7 233.8 257.6 233.9Z" stroke-width="0.4" opacity="0.39"/>
<line x1="263.3" y1="238.8" x2="265.0" y2="240.9" stroke-width="0.5" opacity="0.7"/>
<path d="M252.3 244.2 Q251.7 247.1 256.9 250.3 Q255.3 244.4 252.3 244.2Z" stroke-width="0.7" opacity="0.69"/>
<line x1="252.3" y1="244.2" x2="251.4" y2="243.8" stroke-width="0.5" opacity="0.7"/>
<path d="M253.5 241.1 Q256.5 244.8 260.1 244.5 Q258.3 241.4 253.5 241.1Z" stroke-width="0.8" opacity="0.31"/>
<path d="M255.9 241.4 Q250.7 242.4 251.3 246.0 Q254.9 246.6 255.9 241.4Z" stroke-width="0.6" opacity="0.54"/>
<line x1="255.9" y1="241.4" x2="257.3" y2="241.1" stroke-width="0.5" opacity="0.7"/>
<path d="M252.0 238.4 Q248.9 239.6 249.3 242.2 Q251.9 241.7 252.0 238.4Z" stroke-width="0.5" opacity="0.53"/>
<path d="M248.3 241.1 Q249.5 245.2 255.9 242.6 Q251.0 237.7 248.3 241.1Z" stroke-width="0.6" opacity="0.55"/>
<path d="M252.2 236.4 Q249.6 239.6 254.5 239.8 Q256.1 235.1 252.2 236.4Z" stroke-width="0.7" opacity="0.44"/>
<line x1="252.2" y1="236.4" x2="250.7" y2="234.2" stroke-width="0.5" opacity="0.7"/>
<path d="M259.8 260.1 Q257.3 262.5 259.8 263.6 Q262.3 262.4 259.8 260.1Z" stroke-width="0.8" opacity="0.44"/>
<line x1="259.8" y1="260.1" x2="259.5" y2="254.7" stroke-width="0.5" opacity="0.7"/>
<path d="M253.3 249.1 Q250.3 255.0 252.1 256.2 Q254.1 255.6 253.3 249.1Z" stroke-width="0.7" opacity="0.66"/>
<path d="M249.5 255.3 Q246.1 257.5 247.4 259.4 Q249.7 259.3 249.5 255.3Z" stroke-width="0.7" opacity="0.63"/>
<path d="M252.5 254.0 Q251.5 256.0 254.0 256.3 Q254.6 253.8 252.5 254.0Z" stroke-width="0.8" opacity="0.34"/>
<path d="M257.4 251.7 Q256.3 254.8 258.2 254.7 Q259.9 253.9 257.4 251.7Z" stroke-width="0.5" opacity="0.45"/>
<line x1="258.2" y1="254.7" x2="258.9" y2="257.9" stroke-width="0.5" opacity="0.7"/>
<path d="M262.0 252.2 Q259.9 250.0 256.4 252.9 Q260.5 254.9 262.0 252.2Z" stroke-width="0.7" opacity="0.37"/>
<line x1="256.4" y1="252.9" x2="249.1" y2="253.3" stroke-width="0.5" opacity="0.7"/>
<path d="M255.4 254.1 Q258.0 256.3 258.7 254.4 Q258.3 252.3 255.4 254.1Z" stroke-width="0.9" opacity="0.61"/>
<path d="M247.2 255.3 Q242.4 255.6 246.5 260.7 Q251.8 256.8 247.2 255.3Z" stroke-width="0.5" opacity="0.42"/>
<line x1="247.2" y1="255.3" x2="247.9" y2="252.0" stroke-width="0.5" opacity="0.7"/>
<path d="M251.4 257.6 Q250.7 260.3 255.3 259.8 Q253.3 255.6 251.4 257.6Z" stroke-width="0.6" opacity="0.43"/>
<path d="M259.6 256.9 Q256.9 253.0 253.4 258.2 Q258.7 261.6 259.6 256.9Z" stroke-width="0.7" opacity="0.54"/>
<line x1="253.4" y1="258.2" x2="250.4" y2="258.0" stroke-width="0.5" opacity="0.7"/>
<path d="M251.5 258.2 Q246.0 258.3 246.3 260.9 Q248.3 262.6 251.5 258.2Z" stroke-width="0.7" opacity="0.50"/>
<path d="M260.3 261.9 Q257.3 260.8 257.9 262.9 Q259.1 264.9 260.3 261.9Z" stroke-width="0.4" opacity="0.56"/>
<path d="M248.5 251.4 Q245.2 255.8 246.3 258.3 Q248.7 256.9 248.5 251.4Z" stroke-width="0.8" opacity="0.33"/>
<path d="M253.1 254.7 Q250.3 252.7 248.9 258.3 Q254.7 257.7 253.1 254.7Z" stroke-width="0.6" opacity="0.55"/>
<line x1="248.9" y1="258.3" x2="245.1" y2="262.6" stroke-width="0.5" opacity="0.7"/>
<path d="M246.4 252.8 Q241.4 254.2 245.5 258.4 Q250.7 255.7 246.4 252.8Z" stroke-width="0.9" opacity="0.57"/>
<path d="M249.6 251.6 Q244.3 251.7 248.0 254.4 Q252.0 256.3 249.6 251.6Z" stroke-width="0.5" opacity="0.40"/>
<line x1="249.6" y1="251.6" x2="250.8" y2="248.0" stroke-width="0.5" opacity="0.7"/>
<path d="M264.4 257.8 Q257.5 257.0 257.4 261.3 Q260.8 263.8 264.4 257.8Z" stroke-width="0.7" opacity="0.59"/>
<line x1="264.4" y1="257.8" x2="266.1" y2="255.4" stroke-width="0.5" opacity="0.7"/>
<path d="M256.3 258.7 Q251.3 261.2 252.9 264.3 Q256.3 264.3 256.3 258.7Z" stroke-width="0.5" opacity="0.64"/>
<path d="M253.3 259.5 Q248.9 259.7 252.1 263.3 Q256.7 262.3 253.3 259.5Z" stroke-width="0.7" opacity="0.63"/>
<path d="M254.2 260.1 Q253.9 264.7 259.0 261.1 Q255.8 255.8 254.2 260.1Z" stroke-width="0.6" opacity="0.62"/>
<path d="M282.6 245.9 Q277.8 246.1 277.9 248.2 Q279.5 249.6 282.6 245.9Z" stroke-width="0.8" opacity="0.55"/>
<line x1="282.6" y1="245.9" x2="288.9" y2="242.2" stroke-width="0.5" opacity="0.7"/>
<path d="M281.3 241.3 Q277.2 243.2 279.2 245.2 Q282.0 245.8 281.3 241.3Z" stroke-width="0.7" opacity="0.50"/>
<line x1="281.3" y1="241.3" x2="283.8" y2="236.4" stroke-width="0.5" opacity="0.7"/>
<path d="M278.7 242.7 Q276.2 247.3 281.6 248.0 Q284.0 243.0 278.7 242.7Z" stroke-width="0.7" opacity="0.35"/>
<path d="M276.3 241.4 Q273.4 245.1 278.5 247.3 Q280.8 242.2 276.3 241.4Z" stroke-width="0.8" opacity="0.53"/>
<line x1="278.5" y1="247.3" x2="278.6" y2="249.5" stroke-width="0.5" opacity="0.7"/>
<path d="M277.7 240.4 Q273.8 242.2 277.0 247.5 Q281.2 242.9 277.7 240.4Z" stroke-width="0.5" opacity="0.54"/>
<line x1="277.0" y1="247.5" x2="275.9" y2="252.7" stroke-width="0.5" opacity="0.7"/>
<path d="M279.7 246.9 Q278.9 248.8 282.9 250.0 Q281.5 246.1 279.7 246.9Z" stroke-width="0.8" opacity="0.30"/>
<line x1="279.7" y1="246.9" x2="277.1" y2="243.5" stroke-width="0.5" opacity="0.7"/>
<path d="M286.0 245.4 Q282.0 247.6 285.3 249.1 Q289.0 248.9 286.0 245.4Z" stroke-width="0.9" opacity="0.34"/>
<line x1="285.3" y1="249.1" x2="285.9" y2="253.9" stroke-width="0.5" opacity="0.7"/>
<path d="M275.2 240.5 Q274.8 245.6 277.8 245.5 Q279.6 243.1 275.2 240.5Z" stroke-width="0.8" opacity="0.30"/>
<line x1="277.8" y1="245.5" x2="278.9" y2="247.0" stroke-width="0.5" opacity="0.7"/>
<path d="M273.3 241.1 Q271.3 242.0 273.7 243.6 Q275.5 241.3 273.3 241.1Z" stroke-width="0.7" opacity="0.53"/>
<line x1="273.7" y1="243.6" x2="275.3" y2="246.2" stroke-width="0.5" opacity="0.7"/>
<path d="M277.1 242.4 Q273.8 245.1 275.4 246.8 Q277.7 246.6 277.1 242.4Z" stroke-width="0.8" opacity="0.55"/>
<line x1="275.4" y1="246.8" x2="274.1" y2="252.3" stroke-width="0.5" opacity="0.7"/>
<path d="M278.3 247.9 Q279.2 252.0 283.0 247.9 Q279.2 243.8 278.3 247.9Z" stroke-width="0.7" opacity="0.64"/>
<path d="M279.6 238.3 Q277.6 242.3 281.7 240.8 Q283.9 237.0 279.6 238.3Z" stroke-width="0.7" opacity="0.47"/>
<path d="M277.8 247.4 Q275.7 252.1 279.9 254.3 Q282.2 250.1 277.8 247.4Z" stroke-width="0.5" opacity="0.35"/>
<line x1="277.8" y1="247.4" x2="277.1" y2="244.9" stroke-width="0.5" opacity="0.7"/>
<path d="M282.6 243.9 Q278.9 244.7 281.8 250.0 Q285.9 245.7 282.6 243.9Z" stroke-width="0.5" opacity="0.47"/>
<path d="M284.6 236.5 Q277.8 235.0 277.3 239.4 Q280.7 242.3 284.6 236.5Z" stroke-width="0.5" opacity="0.65"/>
<line x1="277.3" y1="239.4" x2="273.4" y2="241.2" stroke-width="0.5" opacity="0.7"/>
<path d="M280.2 242.7 Q277.0 242.7 279.0 246.3 Q282.8 244.5 280.2 242.7Z" stroke-width="0.8" opacity="0.65"/>
<line x1="279.0" y1="246.3" x2="277.7" y2="252.0" stroke-width="0.5" opacity="0.7"/>
<path d="M233.3 268.6 Q228.7 273.4 231.5 275.4 Q234.9 275.1 233.3 268.6Z" stroke-width="0.4" opacity="0.32"/>
<path d="M240.9 272.3 Q238.1 272.3 239.6 276.4 Q243.2 273.8 240.9 272.3Z" stroke-width="0.5" opacity="0.58"/>
<line x1="239.6" y1="276.4" x2="239.2" y2="280.7" stroke-width="0.5" opacity="0.7"/>
<path d="M239.0 272.9 Q236.5 270.9 235.1 273.3 Q236.9 275.4 239.0 272.9Z" stroke-width="0.8" opacity="0.48"/>
<path d="M235.6 272.8 Q234.0 277.0 239.3 278.6 Q240.2 273.1 235.6 272.8Z" stroke-width="0.9" opacity="0.53"/>
<path d="M238.8 266.6 Q234.3 268.7 236.3 273.9 Q241.0 271.1 238.8 266.6Z" stroke-width="0.6" opacity="0.36"/>
<path d="M237.5 266.7 Q232.1 266.4 230.6 269.5 Q233.9 270.7 237.5 266.7Z" stroke-width="0.7" opacity="0.70"/>
<path d="M240.9 270.7 Q236.2 274.3 241.1 277.2 Q245.8 274.0 240.9 270.7Z" stroke-width="0.6" opacity="0.44"/>
<line x1="240.9" y1="270.7" x2="240.5" y2="265.5" stroke-width="0.5" opacity="0.7"/>
<path d="M243.7 277.2 Q238.9 275.4 239.4 279.4 Q242.3 282.1 243.7 277.2Z" stroke-width="0.9" opacity="0.33"/>
<line x1="243.7" y1="277.2" x2="248.0" y2="273.6" stroke-width="0.5" opacity="0.7"/>
<path d="M230.7 273.7 Q232.5 278.1 234.4 274.1 Q233.4 269.8 230.7 273.7Z" stroke-width="0.6" opacity="0.44"/>
<line x1="234.4" y1="274.1" x2="240.7" y2="273.2" stroke-width="0.5" opacity="0.7"/>
<path d="M239.5 265.5 Q236.8 265.7 238.8 268.9 Q241.9 266.8 239.5 265.5Z" stroke-width="0.8" opacity="0.42"/>
<path d="M240.4 272.2 Q235.6 271.4 235.4 276.4 Q240.4 277.1 240.4 272.2Z" stroke-width="0.5" opacity="0.43"/>
<line x1="240.4" y1="272.2" x2="245.2" y2="267.5" stroke-width="0.5" opacity="0.7"/>
<path d="M235.4 273.3 Q230.9 277.1 234.4 280.3 Q238.7 278.3 235.4 273.3Z" stroke-width="0.7" opacity="0.43"/>
<path d="M231.2 273.7 Q229.0 276.6 233.6 276.8 Q234.4 272.2 231.2 273.7Z" stroke-width="0.4" opacity="0.34"/>
<path d="M242.2 269.7 Q237.8 271.5 242.7 275.5 Q246.9 270.6 242.2 269.7Z" stroke-width="0.5" opacity="0.70"/>
<path d="M275.6 268.0 Q271.7 270.7 272.9 273.4 Q275.7 272.7 275.6 268.0Z" stroke-width="0.8" opacity="0.53"/>
<path d="M269.6 274.8 Q267.5 277.5 270.2 278.4 Q272.5 276.6 269.6 274.8Z" stroke-width="0.6" opacity="0.61"/>
<path d="M273.0 272.9 Q266.9 276.6 271.0 278.9 Q275.7 279.5 273.0 272.9Z" stroke-width="0.9" opacity="0.31"/>
<path d="M275.4 276.9 Q272.5 274.8 271.7 277.3 Q272.9 279.6 275.4 276.9Z" stroke-width="0.5" opacity="0.59"/>
<path d="M265.6 276.3 Q265.7 279.0 268.9 279.7 Q268.3 276.5 265.6 276.3Z" stroke-width="0.6" opacity="0.52"/>
<path d="M271.1 273.8 Q269.2 270.7 268.6 274.5 Q271.1 277.5 271.1 273.8Z" stroke-width="0.6" opacity="0.42"/>
<line x1="268.6" y1="274.5" x2="262.8" y2="276.8" stroke-width="0.5" opacity="0.7"/>
<path d="M268.9 275.9 Q267.3 279.1 270.2 280.1 Q272.0 277.6 268.9 275.9Z" stroke-width="0.8" opacity="0.68"/>
<line x1="270.2" y1="280.1" x2="272.3" y2="287.3" stroke-width="0.5" opacity="0.7"/>
<path d="M270.1 266.4 Q273.1 268.9 274.1 267.3 Q273.8 265.4 270.1 266.4Z" stroke-width="0.5" opacity="0.66"/>
<path d="M267.0 268.1 Q266.2 272.8 268.6 274.0 Q270.0 271.7 267.0 268.1Z" stroke-width="0.7" opacity="0.58"/>
<path d="M271.7 272.5 Q269.9 268.8 267.2 272.5 Q270.0 276.2 271.7 272.5Z" stroke-width="0.6" opacity="0.55"/>
<path d="M272.4 269.2 Q269.3 269.9 269.4 273.2 Q272.6 272.3 272.4 269.2Z" stroke-width="0.7" opacity="0.42"/>
<line x1="269.4" y1="273.2" x2="267.0" y2="275.9" stroke-width="0.5" opacity="0.7"/>
<path d="M270.4 269.3 Q266.8 271.3 268.4 274.4 Q271.6 273.2 270.4 269.3Z" stroke-width="0.7" opacity="0.51"/>
<path d="M225.1 238.2 Q225.5 242.5 232.4 240.1 Q227.6 234.6 225.1 238.2Z" stroke-width="0.5" opacity="0.39"/>
<path d="M227.9 235.1 Q227.6 237.6 231.8 237.6 Q230.0 233.9 227.9 235.1Z" stroke-width="0.6" opacity="0.31"/>
<line x1="227.9" y1="235.1" x2="221.9" y2="231.8" stroke-width="0.5" opacity="0.7"/>
<path d="M234.0 232.2 Q230.1 232.8 228.3 236.6 Q232.5 235.8 234.0 232.2Z" stroke-width="0.8" opacity="0.67"/>
<path d="M230.9 233.7 Q231.0 237.8 235.9 238.0 Q235.0 233.2 230.9 233.7Z" stroke-width="0.8" opacity="0.49"/>
<line x1="230.9" y1="233.7" x2="229.2" y2="232.1" stroke-width="0.5" opacity="0.7"/>
<path d="M234.5 232.1 Q229.4 233.1 231.0 238.8 Q236.6 236.8 234.5 232.1Z" stroke-width="0.4" opacity="0.31"/>
<line x1="231.0" y1="238.8" x2="229.8" y2="243.4" stroke-width="0.5" opacity="0.7"/>
<path d="M231.8 233.0 Q230.0 235.8 232.5 239.5 Q234.1 235.3 231.8 233.0Z" stroke-width="0.5" opacity="0.50"/>
<line x1="232.5" y1="239.5" x2="232.4" y2="241.1" stroke-width="0.5" opacity="0.7"/>
<path d="M259.5 237.1 Q258.9 241.6 263.8 239.5 Q263.0 234.2 259.5 237.1Z" stroke-width="0.9" opacity="0.53"/>
<line x1="259.5" y1="237.1" x2="255.9" y2="236.5" stroke-width="0.5" opacity="0.7"/>
<path d="M250.9 266.5 Q247.7 264.8 245.5 268.1 Q249.2 269.7 250.9 266.5Z" stroke-width="0.8" opacity="0.68"/>
<line x1="245.5" y1="268.1" x2="239.5" y2="269.1" stroke-width="0.5" opacity="0.7"/>
<path d="M264.2 271.6 Q263.0 274.0 265.8 273.5 Q266.8 270.8 264.2 271.6Z" stroke-width="0.4" opacity="0.63"/>
<path d="M285.2 253.1 Q281.2 255.8 285.8 255.5 Q290.1 253.6 285.2 253.1Z" stroke-width="0.7" opacity="0.48"/>
<path d="M286.2 228.8 Q286.1 234.0 289.1 232.9 Q291.1 230.4 286.2 228.8Z" stroke-width="0.8" opacity="0.52"/>
<line x1="286.2" y1="228.8" x2="282.8" y2="223.7" stroke-width="0.5" opacity="0.7"/>
<path d="M254.2 262.2 Q252.4 265.2 256.3 264.7 Q257.4 261.0 254.2 262.2Z" stroke-width="0.6" opacity="0.63"/>
<line x1="254.2" y1="262.2" x2="253.3" y2="258.9" stroke-width="0.5" opacity="0.7"/>
<path d="M283.1 250.2 Q280.4 254.5 284.9 252.7 Q288.1 249.3 283.1 250.2Z" stroke-width="0.5" opacity="0.40"/>
<path d="M249.0 272.8 Q245.1 276.8 250.1 279.3 Q254.0 275.2 249.0 272.8Z" stroke-width="0.8" opacity="0.31"/>
<line x1="250.1" y1="279.3" x2="250.0" y2="284.4" stroke-width="0.5" opacity="0.7"/>
</g></g>
<rect x="219.4" y="224.4" width="69.2" height="57.6" fill="none" stroke="#3a3a3a" stroke-width="0.9"/>
<text x="293.50" y="157.40" font-size="16" text-anchor="start" font-weight="bold" fill="#000">F</text>
<line x1="311.80" y1="194.00" x2="311.80" y2="270.80" stroke="#444" stroke-width="0.7"/>
<line x1="310.30" y1="270.80" x2="311.80" y2="270.80" stroke="#444" stroke-width="0.6"/>
<text x="307.90" y="272.69" font-size="5.25" text-anchor="end" font-weight="bold" textLength="2.36" lengthAdjust="spacingAndGlyphs" fill="#111">0</text>
<line x1="310.30" y1="246.20" x2="311.80" y2="246.20" stroke="#444" stroke-width="0.6"/>
<text x="307.90" y="248.09" font-size="5.25" text-anchor="end" font-weight="bold" textLength="2.36" lengthAdjust="spacingAndGlyphs" fill="#111">1</text>
<line x1="310.30" y1="221.60" x2="311.80" y2="221.60" stroke="#444" stroke-width="0.6"/>
<text x="307.90" y="223.49" font-size="5.25" text-anchor="end" font-weight="bold" textLength="2.36" lengthAdjust="spacingAndGlyphs" fill="#111">2</text>
<line x1="310.30" y1="197.00" x2="311.80" y2="197.00" stroke="#444" stroke-width="0.6"/>
<text x="307.90" y="198.89" font-size="5.25" text-anchor="end" font-weight="bold" textLength="2.36" lengthAdjust="spacingAndGlyphs" fill="#111">3</text>
<line x1="311.80" y1="270.80" x2="402.00" y2="270.80" stroke="#444" stroke-width="0.7"/>
<rect x="316.50" y="246.20" width="6.50" height="24.60" fill="#fff" stroke="#555" stroke-width="0.6"/>
<line x1="327.10" y1="225.04" x2="327.10" y2="213.97" stroke="#777" stroke-width="0.65"/>
<line x1="325.50" y1="213.97" x2="328.70" y2="213.97" stroke="#777" stroke-width="0.65"/>
<rect x="324.20" y="225.04" width="5.80" height="45.76" fill="#080808"/>
<line x1="334.20" y1="250.14" x2="334.20" y2="248.91" stroke="#777" stroke-width="0.65"/>
<line x1="332.60" y1="248.91" x2="335.80" y2="248.91" stroke="#777" stroke-width="0.65"/>
<rect x="331.30" y="250.14" width="5.80" height="20.66" fill="#6c6c6c"/>
<rect x="347.60" y="246.20" width="6.10" height="24.60" fill="#fff" stroke="#555" stroke-width="0.6"/>
<line x1="358.10" y1="216.68" x2="358.10" y2="201.92" stroke="#777" stroke-width="0.65"/>
<line x1="356.50" y1="201.92" x2="359.70" y2="201.92" stroke="#777" stroke-width="0.65"/>
<rect x="355.00" y="216.68" width="6.20" height="54.12" fill="#080808"/>
<line x1="365.15" y1="234.88" x2="365.15" y2="233.65" stroke="#777" stroke-width="0.65"/>
<line x1="363.55" y1="233.65" x2="366.75" y2="233.65" stroke="#777" stroke-width="0.65"/>
<rect x="362.30" y="234.88" width="5.70" height="35.92" fill="#6c6c6c"/>
<rect x="378.80" y="246.20" width="5.70" height="24.60" fill="#fff" stroke="#555" stroke-width="0.6"/>
<line x1="388.85" y1="234.15" x2="388.85" y2="226.77" stroke="#777" stroke-width="0.65"/>
<line x1="387.25" y1="226.77" x2="390.45" y2="226.77" stroke="#777" stroke-width="0.65"/>
<rect x="385.80" y="234.15" width="6.10" height="36.65" fill="#080808"/>
<line x1="396.10" y1="245.46" x2="396.10" y2="239.31" stroke="#777" stroke-width="0.65"/>
<line x1="394.50" y1="239.31" x2="397.70" y2="239.31" stroke="#777" stroke-width="0.65"/>
<rect x="393.00" y="245.46" width="6.20" height="25.34" fill="#6c6c6c"/>
<polyline points="319.70,246.30 319.70,213.00 334.20,213.00 334.20,249.00" stroke="#999" stroke-width="0.6" fill="none"/>
<text x="322.30" y="214.30" font-size="10" text-anchor="middle" font-weight="bold" fill="#111" letter-spacing="0.3">**</text>
<text x="332.00" y="214.30" font-size="10" text-anchor="middle" font-weight="bold" fill="#111" letter-spacing="0.3">**</text>
<polyline points="350.60,246.30 350.60,198.70 365.10,198.70 365.10,234.00" stroke="#999" stroke-width="0.6" fill="none"/>
<text x="353.30" y="200.30" font-size="10" text-anchor="middle" font-weight="bold" fill="#111" letter-spacing="0.3">**</text>
<text x="362.30" y="200.30" font-size="10" text-anchor="middle" font-weight="bold" fill="#111" letter-spacing="0.3">*</text>
<polyline points="381.60,246.30 381.60,224.20 396.00,224.20 396.00,238.00" stroke="#999" stroke-width="0.6" fill="none"/>
<text x="384.20" y="225.30" font-size="10" text-anchor="middle" font-weight="bold" fill="#111" letter-spacing="0.3">*</text>
<text x="393.20" y="225.30" font-size="10" text-anchor="middle" font-weight="bold" fill="#111" letter-spacing="0.3">*</text>
<text x="357.00" y="165.50" font-size="8.4" text-anchor="middle" textLength="35.8" lengthAdjust="spacingAndGlyphs" fill="#111" stroke="#111" stroke-width="0.3">SK-N-SH</text>
<line x1="339.10" y1="167.30" x2="374.90" y2="167.30" stroke="#777" stroke-width="0.7"/>
<rect x="315.40" y="172.70" width="14.80" height="2.60" fill="#fff" stroke="#444" stroke-width="0.6"/>
<text x="334.00" y="175.90" font-size="7" text-anchor="start" textLength="20.8" lengthAdjust="spacingAndGlyphs" fill="#111" stroke="#111" stroke-width="0.3">Control</text>
<rect x="315.40" y="180.00" width="14.80" height="3.00" fill="#000"/>
<text x="334.00" y="183.40" font-size="7" text-anchor="start" textLength="10.5" lengthAdjust="spacingAndGlyphs" fill="#111" stroke="#111" stroke-width="0.3">Kyn</text>
<rect x="315.40" y="188.00" width="14.80" height="3.00" fill="#6c6c6c"/>
<text x="334.00" y="191.40" font-size="7" text-anchor="start" textLength="47.5" lengthAdjust="spacingAndGlyphs" fill="#111" stroke="#111" stroke-width="0.3">Kyn+ CH223191</text>
<text x="302.30" y="222.70" font-size="6.6" text-anchor="middle" textLength="93.3" lengthAdjust="spacingAndGlyphs" fill="#111" stroke="#111" stroke-width="0.3" transform="rotate(-90 302.3 222.7)">Relative mRNA expression levels</text>
<text x="326.70" y="281.50" font-size="7.0" text-anchor="middle" textLength="25" lengthAdjust="spacingAndGlyphs" fill="#111" stroke="#111" stroke-width="0.3">CYP1A1</text>
<text x="357.90" y="281.50" font-size="7.0" text-anchor="middle" textLength="23" lengthAdjust="spacingAndGlyphs" fill="#111" stroke="#111" stroke-width="0.3">GAP-43</text>
<text x="388.20" y="281.50" font-size="7.0" text-anchor="middle" textLength="12.5" lengthAdjust="spacingAndGlyphs" fill="#111" stroke="#111" stroke-width="0.3">NSE</text>
<line x1="427.60" y1="182.20" x2="427.60" y2="271.00" stroke="#444" stroke-width="0.7"/>
<line x1="426.10" y1="271.00" x2="427.60" y2="271.00" stroke="#444" stroke-width="0.6"/>
<text x="423.70" y="272.89" font-size="5.25" text-anchor="end" font-weight="bold" textLength="2.36" lengthAdjust="spacingAndGlyphs" fill="#111">0</text>
<line x1="426.10" y1="256.70" x2="427.60" y2="256.70" stroke="#444" stroke-width="0.6"/>
<text x="423.70" y="258.59" font-size="5.25" text-anchor="end" font-weight="bold" textLength="2.36" lengthAdjust="spacingAndGlyphs" fill="#111">1</text>
<line x1="426.10" y1="242.40" x2="427.60" y2="242.40" stroke="#444" stroke-width="0.6"/>
<text x="423.70" y="244.29" font-size="5.25" text-anchor="end" font-weight="bold" textLength="2.36" lengthAdjust="spacingAndGlyphs" fill="#111">2</text>
<line x1="426.10" y1="228.10" x2="427.60" y2="228.10" stroke="#444" stroke-width="0.6"/>
<text x="423.70" y="229.99" font-size="5.25" text-anchor="end" font-weight="bold" textLength="2.36" lengthAdjust="spacingAndGlyphs" fill="#111">3</text>
<line x1="426.10" y1="213.80" x2="427.60" y2="213.80" stroke="#444" stroke-width="0.6"/>
<text x="423.70" y="215.69" font-size="5.25" text-anchor="end" font-weight="bold" textLength="2.36" lengthAdjust="spacingAndGlyphs" fill="#111">4</text>
<line x1="426.10" y1="199.50" x2="427.60" y2="199.50" stroke="#444" stroke-width="0.6"/>
<text x="423.70" y="201.39" font-size="5.25" text-anchor="end" font-weight="bold" textLength="2.36" lengthAdjust="spacingAndGlyphs" fill="#111">5</text>
<line x1="426.10" y1="185.20" x2="427.60" y2="185.20" stroke="#444" stroke-width="0.6"/>
<text x="423.70" y="187.09" font-size="5.25" text-anchor="end" font-weight="bold" textLength="2.36" lengthAdjust="spacingAndGlyphs" fill="#111">6</text>
<line x1="427.60" y1="271.00" x2="518.00" y2="271.00" stroke="#444" stroke-width="0.7"/>
<rect x="432.60" y="256.70" width="5.90" height="14.30" fill="#fff" stroke="#555" stroke-width="0.6"/>
<line x1="442.85" y1="239.54" x2="442.85" y2="232.39" stroke="#777" stroke-width="0.65"/>
<line x1="441.25" y1="232.39" x2="444.45" y2="232.39" stroke="#777" stroke-width="0.65"/>
<rect x="440.00" y="239.54" width="5.70" height="31.46" fill="#080808"/>
<line x1="449.90" y1="254.98" x2="449.90" y2="253.55" stroke="#777" stroke-width="0.65"/>
<line x1="448.30" y1="253.55" x2="451.50" y2="253.55" stroke="#777" stroke-width="0.65"/>
<rect x="446.80" y="254.98" width="6.20" height="16.02" fill="#6c6c6c"/>
<rect x="463.80" y="256.70" width="5.90" height="14.30" fill="#fff" stroke="#555" stroke-width="0.6"/>
<line x1="473.80" y1="224.53" x2="473.80" y2="203.07" stroke="#777" stroke-width="0.65"/>
<line x1="472.20" y1="203.07" x2="475.40" y2="203.07" stroke="#777" stroke-width="0.65"/>
<rect x="470.80" y="224.53" width="6.00" height="46.47" fill="#080808"/>
<line x1="480.90" y1="253.55" x2="480.90" y2="248.55" stroke="#777" stroke-width="0.65"/>
<line x1="479.30" y1="248.55" x2="482.50" y2="248.55" stroke="#777" stroke-width="0.65"/>
<rect x="478.00" y="253.55" width="5.80" height="17.45" fill="#6c6c6c"/>
<rect x="494.30" y="256.70" width="5.80" height="14.30" fill="#fff" stroke="#555" stroke-width="0.6"/>
<line x1="504.40" y1="240.97" x2="504.40" y2="238.11" stroke="#777" stroke-width="0.65"/>
<line x1="502.80" y1="238.11" x2="506.00" y2="238.11" stroke="#777" stroke-width="0.65"/>
<rect x="501.50" y="240.97" width="5.80" height="30.03" fill="#080808"/>
<line x1="511.85" y1="253.55" x2="511.85" y2="250.69" stroke="#777" stroke-width="0.65"/>
<line x1="510.25" y1="250.69" x2="513.45" y2="250.69" stroke="#777" stroke-width="0.65"/>
<rect x="509.00" y="253.55" width="5.70" height="17.45" fill="#6c6c6c"/>
<polyline points="435.50,257.00 435.50,226.50 450.00,226.50 450.00,253.00" stroke="#999" stroke-width="0.6" fill="none"/>
<text x="437.00" y="227.60" font-size="10" text-anchor="middle" font-weight="bold" fill="#111" letter-spacing="0.3">**</text>
<text x="448.00" y="227.60" font-size="10" text-anchor="middle" font-weight="bold" fill="#111" letter-spacing="0.3">**</text>
<polyline points="466.70,257.00 466.70,202.50 481.00,202.50 481.00,248.00" stroke="#999" stroke-width="0.6" fill="none"/>
<text x="469.00" y="203.60" font-size="10" text-anchor="middle" font-weight="bold" fill="#111" letter-spacing="0.3">**</text>
<text x="480.00" y="203.60" font-size="10" text-anchor="middle" font-weight="bold" fill="#111" letter-spacing="0.3">**</text>
<polyline points="497.20,257.00 497.20,236.00 512.00,236.00 512.00,249.00" stroke="#999" stroke-width="0.6" fill="none"/>
<text x="497.50" y="236.60" font-size="10" text-anchor="middle" font-weight="bold" fill="#111" letter-spacing="0.3">***</text>
<text x="513.00" y="236.60" font-size="10" text-anchor="middle" font-weight="bold" fill="#111" letter-spacing="0.3">***</text>
<text x="472.70" y="165.50" font-size="8.4" text-anchor="middle" textLength="31" lengthAdjust="spacingAndGlyphs" fill="#111" stroke="#111" stroke-width="0.3">BE(2)-C</text>
<line x1="457.20" y1="167.30" x2="488.20" y2="167.30" stroke="#777" stroke-width="0.7"/>
<rect x="431.60" y="173.00" width="15.50" height="2.60" fill="#fff" stroke="#444" stroke-width="0.6"/>
<text x="450.90" y="176.20" font-size="7" text-anchor="start" textLength="20.8" lengthAdjust="spacingAndGlyphs" fill="#111" stroke="#111" stroke-width="0.3">Control</text>
<rect x="431.60" y="180.40" width="15.50" height="3.00" fill="#000"/>
<text x="450.90" y="183.80" font-size="7" text-anchor="start" textLength="10.5" lengthAdjust="spacingAndGlyphs" fill="#111" stroke="#111" stroke-width="0.3">Kyn</text>
<rect x="431.60" y="187.80" width="15.50" height="3.00" fill="#6c6c6c"/>
<text x="450.90" y="191.20" font-size="7" text-anchor="start" textLength="47.5" lengthAdjust="spacingAndGlyphs" fill="#111" stroke="#111" stroke-width="0.3">Kyn+ CH223191</text>
<text x="418.30" y="222.70" font-size="6.6" text-anchor="middle" textLength="93.3" lengthAdjust="spacingAndGlyphs" fill="#111" stroke="#111" stroke-width="0.3" transform="rotate(-90 418.3 222.7)">Relative mRNA expression levels</text>
<text x="442.50" y="281.50" font-size="7.0" text-anchor="middle" textLength="25" lengthAdjust="spacingAndGlyphs" fill="#111" stroke="#111" stroke-width="0.3">CYP1A1</text>
<text x="473.50" y="281.50" font-size="7.0" text-anchor="middle" textLength="23" lengthAdjust="spacingAndGlyphs" fill="#111" stroke="#111" stroke-width="0.3">GAP-43</text>
<text x="504.20" y="281.50" font-size="7.0" text-anchor="middle" textLength="12.5" lengthAdjust="spacingAndGlyphs" fill="#111" stroke="#111" stroke-width="0.3">NSE</text>
<text x="2.40" y="302.10" font-size="16" text-anchor="start" font-weight="bold" fill="#000">G</text>
<line x1="23.40" y1="305.00" x2="23.40" y2="406.90" stroke="#444" stroke-width="0.7"/>
<line x1="21.90" y1="406.90" x2="23.40" y2="406.90" stroke="#444" stroke-width="0.6"/>
<text x="18.70" y="409.15" font-size="6.25" text-anchor="end" font-weight="bold" textLength="2.94" lengthAdjust="spacingAndGlyphs" fill="#111">0</text>
<line x1="21.90" y1="382.60" x2="23.40" y2="382.60" stroke="#444" stroke-width="0.6"/>
<text x="18.70" y="384.85" font-size="6.25" text-anchor="end" font-weight="bold" textLength="8.81" lengthAdjust="spacingAndGlyphs" fill="#111">200</text>
<line x1="21.90" y1="358.30" x2="23.40" y2="358.30" stroke="#444" stroke-width="0.6"/>
<text x="18.70" y="360.55" font-size="6.25" text-anchor="end" font-weight="bold" textLength="8.81" lengthAdjust="spacingAndGlyphs" fill="#111">400</text>
<line x1="21.90" y1="334.00" x2="23.40" y2="334.00" stroke="#444" stroke-width="0.6"/>
<text x="18.70" y="336.25" font-size="6.25" text-anchor="end" font-weight="bold" textLength="8.81" lengthAdjust="spacingAndGlyphs" fill="#111">600</text>
<line x1="21.90" y1="309.70" x2="23.40" y2="309.70" stroke="#444" stroke-width="0.6"/>
<text x="18.70" y="311.95" font-size="6.25" text-anchor="end" font-weight="bold" textLength="8.81" lengthAdjust="spacingAndGlyphs" fill="#111">800</text>
<line x1="23.40" y1="406.90" x2="161.30" y2="406.90" stroke="#444" stroke-width="0.7"/>
<line x1="23.40" y1="406.90" x2="23.40" y2="408.30" stroke="#444" stroke-width="0.6"/>
<text x="23.40" y="416.20" font-size="5.6" text-anchor="middle" textLength="2.9" lengthAdjust="spacingAndGlyphs" fill="#222" stroke="#222" stroke-width="0.3">0</text>
<line x1="41.79" y1="406.90" x2="41.79" y2="408.30" stroke="#444" stroke-width="0.6"/>
<text x="41.79" y="416.20" font-size="5.6" text-anchor="middle" textLength="2.9" lengthAdjust="spacingAndGlyphs" fill="#222" stroke="#222" stroke-width="0.3">3</text>
<line x1="60.18" y1="406.90" x2="60.18" y2="408.30" stroke="#444" stroke-width="0.6"/>
<text x="60.18" y="416.20" font-size="5.6" text-anchor="middle" textLength="2.9" lengthAdjust="spacingAndGlyphs" fill="#222" stroke="#222" stroke-width="0.3">6</text>
<line x1="78.57" y1="406.90" x2="78.57" y2="408.30" stroke="#444" stroke-width="0.6"/>
<text x="78.57" y="416.20" font-size="5.6" text-anchor="middle" textLength="2.9" lengthAdjust="spacingAndGlyphs" fill="#222" stroke="#222" stroke-width="0.3">9</text>
<line x1="96.96" y1="406.90" x2="96.96" y2="408.30" stroke="#444" stroke-width="0.6"/>
<text x="96.96" y="416.20" font-size="5.6" text-anchor="middle" textLength="5.8" lengthAdjust="spacingAndGlyphs" fill="#222" stroke="#222" stroke-width="0.3">12</text>
<line x1="115.35" y1="406.90" x2="115.35" y2="408.30" stroke="#444" stroke-width="0.6"/>
<text x="115.35" y="416.20" font-size="5.6" text-anchor="middle" textLength="5.8" lengthAdjust="spacingAndGlyphs" fill="#222" stroke="#222" stroke-width="0.3">15</text>
<line x1="133.74" y1="406.90" x2="133.74" y2="408.30" stroke="#444" stroke-width="0.6"/>
<text x="133.74" y="416.20" font-size="5.6" text-anchor="middle" textLength="5.8" lengthAdjust="spacingAndGlyphs" fill="#222" stroke="#222" stroke-width="0.3">18</text>
<line x1="152.13" y1="406.90" x2="152.13" y2="408.30" stroke="#444" stroke-width="0.6"/>
<text x="152.13" y="416.20" font-size="5.6" text-anchor="middle" textLength="5.8" lengthAdjust="spacingAndGlyphs" fill="#222" stroke="#222" stroke-width="0.3">21</text>
<text x="94.00" y="426.30" font-size="7.0" text-anchor="middle" textLength="33.5" lengthAdjust="spacingAndGlyphs" fill="#111" stroke="#111" stroke-width="0.3">Time (days)</text>
<text x="5.20" y="354.50" font-size="6.4" text-anchor="middle" textLength="42" lengthAdjust="spacingAndGlyphs" fill="#111" stroke="#111" stroke-width="0.3" transform="rotate(-90 5.2 354.5)">Tumor size (%)</text>
<text x="46.90" y="313.00" font-size="8.4" text-anchor="middle" textLength="31.3" lengthAdjust="spacingAndGlyphs" fill="#111" stroke="#111" stroke-width="0.3">stNB-V1</text>
<line x1="31.20" y1="315.00" x2="62.60" y2="315.00" stroke="#666" stroke-width="0.7"/>
<line x1="35.66" y1="393.90" x2="35.66" y2="387.82" stroke="#666" stroke-width="0.6"/>
<line x1="34.36" y1="387.82" x2="36.96" y2="387.82" stroke="#666" stroke-width="0.6"/>
<line x1="34.36" y1="393.90" x2="36.96" y2="393.90" stroke="#666" stroke-width="0.6"/>
<line x1="54.05" y1="387.70" x2="54.05" y2="377.98" stroke="#666" stroke-width="0.6"/>
<line x1="52.75" y1="377.98" x2="55.35" y2="377.98" stroke="#666" stroke-width="0.6"/>
<line x1="52.75" y1="387.70" x2="55.35" y2="387.70" stroke="#666" stroke-width="0.6"/>
<line x1="72.44" y1="385.88" x2="72.44" y2="377.38" stroke="#666" stroke-width="0.6"/>
<line x1="71.14" y1="377.38" x2="73.74" y2="377.38" stroke="#666" stroke-width="0.6"/>
<line x1="71.14" y1="385.88" x2="73.74" y2="385.88" stroke="#666" stroke-width="0.6"/>
<line x1="90.83" y1="378.95" x2="90.83" y2="369.23" stroke="#666" stroke-width="0.6"/>
<line x1="89.53" y1="369.23" x2="92.13" y2="369.23" stroke="#666" stroke-width="0.6"/>
<line x1="89.53" y1="378.95" x2="92.13" y2="378.95" stroke="#666" stroke-width="0.6"/>
<line x1="109.22" y1="373.61" x2="109.22" y2="362.67" stroke="#666" stroke-width="0.6"/>
<line x1="107.92" y1="362.67" x2="110.52" y2="362.67" stroke="#666" stroke-width="0.6"/>
<line x1="107.92" y1="373.61" x2="110.52" y2="373.61" stroke="#666" stroke-width="0.6"/>
<line x1="127.61" y1="357.94" x2="127.61" y2="337.28" stroke="#666" stroke-width="0.6"/>
<line x1="126.31" y1="337.28" x2="128.91" y2="337.28" stroke="#666" stroke-width="0.6"/>
<line x1="126.31" y1="357.94" x2="128.91" y2="357.94" stroke="#666" stroke-width="0.6"/>
<line x1="146.00" y1="335.82" x2="146.00" y2="310.31" stroke="#666" stroke-width="0.6"/>
<line x1="144.70" y1="310.31" x2="147.30" y2="310.31" stroke="#666" stroke-width="0.6"/>
<line x1="144.70" y1="335.82" x2="147.30" y2="335.82" stroke="#666" stroke-width="0.6"/>
<line x1="35.66" y1="397.18" x2="35.66" y2="394.75" stroke="#666" stroke-width="0.6"/>
<line x1="34.36" y1="394.75" x2="36.96" y2="394.75" stroke="#666" stroke-width="0.6"/>
<line x1="34.36" y1="397.18" x2="36.96" y2="397.18" stroke="#666" stroke-width="0.6"/>
<line x1="54.05" y1="397.67" x2="54.05" y2="391.59" stroke="#666" stroke-width="0.6"/>
<line x1="52.75" y1="391.59" x2="55.35" y2="391.59" stroke="#666" stroke-width="0.6"/>
<line x1="52.75" y1="397.67" x2="55.35" y2="397.67" stroke="#666" stroke-width="0.6"/>
<line x1="72.44" y1="393.29" x2="72.44" y2="388.43" stroke="#666" stroke-width="0.6"/>
<line x1="71.14" y1="388.43" x2="73.74" y2="388.43" stroke="#666" stroke-width="0.6"/>
<line x1="71.14" y1="393.29" x2="73.74" y2="393.29" stroke="#666" stroke-width="0.6"/>
<line x1="90.83" y1="397.79" x2="90.83" y2="388.07" stroke="#666" stroke-width="0.6"/>
<line x1="89.53" y1="388.07" x2="92.13" y2="388.07" stroke="#666" stroke-width="0.6"/>
<line x1="89.53" y1="397.79" x2="92.13" y2="397.79" stroke="#666" stroke-width="0.6"/>
<line x1="109.22" y1="386.25" x2="109.22" y2="374.09" stroke="#666" stroke-width="0.6"/>
<line x1="107.92" y1="374.09" x2="110.52" y2="374.09" stroke="#666" stroke-width="0.6"/>
<line x1="107.92" y1="386.25" x2="110.52" y2="386.25" stroke="#666" stroke-width="0.6"/>
<line x1="127.61" y1="383.69" x2="127.61" y2="369.11" stroke="#666" stroke-width="0.6"/>
<line x1="126.31" y1="369.11" x2="128.91" y2="369.11" stroke="#666" stroke-width="0.6"/>
<line x1="126.31" y1="383.69" x2="128.91" y2="383.69" stroke="#666" stroke-width="0.6"/>
<line x1="146.00" y1="371.54" x2="146.00" y2="349.67" stroke="#666" stroke-width="0.6"/>
<line x1="144.70" y1="349.67" x2="147.30" y2="349.67" stroke="#666" stroke-width="0.6"/>
<line x1="144.70" y1="371.54" x2="147.30" y2="371.54" stroke="#666" stroke-width="0.6"/>
<line x1="35.66" y1="392.93" x2="35.66" y2="389.28" stroke="#666" stroke-width="0.6"/>
<line x1="34.36" y1="389.28" x2="36.96" y2="389.28" stroke="#666" stroke-width="0.6"/>
<line x1="34.36" y1="392.93" x2="36.96" y2="392.93" stroke="#666" stroke-width="0.6"/>
<line x1="54.05" y1="391.83" x2="54.05" y2="386.97" stroke="#666" stroke-width="0.6"/>
<line x1="52.75" y1="386.97" x2="55.35" y2="386.97" stroke="#666" stroke-width="0.6"/>
<line x1="52.75" y1="391.83" x2="55.35" y2="391.83" stroke="#666" stroke-width="0.6"/>
<line x1="72.44" y1="390.13" x2="72.44" y2="384.06" stroke="#666" stroke-width="0.6"/>
<line x1="71.14" y1="384.06" x2="73.74" y2="384.06" stroke="#666" stroke-width="0.6"/>
<line x1="71.14" y1="390.13" x2="73.74" y2="390.13" stroke="#666" stroke-width="0.6"/>
<line x1="90.83" y1="393.66" x2="90.83" y2="386.37" stroke="#666" stroke-width="0.6"/>
<line x1="89.53" y1="386.37" x2="92.13" y2="386.37" stroke="#666" stroke-width="0.6"/>
<line x1="89.53" y1="393.66" x2="92.13" y2="393.66" stroke="#666" stroke-width="0.6"/>
<line x1="109.22" y1="387.10" x2="109.22" y2="377.38" stroke="#666" stroke-width="0.6"/>
<line x1="107.92" y1="377.38" x2="110.52" y2="377.38" stroke="#666" stroke-width="0.6"/>
<line x1="107.92" y1="387.10" x2="110.52" y2="387.10" stroke="#666" stroke-width="0.6"/>
<line x1="127.61" y1="385.64" x2="127.61" y2="375.92" stroke="#666" stroke-width="0.6"/>
<line x1="126.31" y1="375.92" x2="128.91" y2="375.92" stroke="#666" stroke-width="0.6"/>
<line x1="126.31" y1="385.64" x2="128.91" y2="385.64" stroke="#666" stroke-width="0.6"/>
<line x1="146.00" y1="372.76" x2="146.00" y2="358.18" stroke="#666" stroke-width="0.6"/>
<line x1="144.70" y1="358.18" x2="147.30" y2="358.18" stroke="#666" stroke-width="0.6"/>
<line x1="144.70" y1="372.76" x2="147.30" y2="372.76" stroke="#666" stroke-width="0.6"/>
<line x1="35.66" y1="396.57" x2="35.66" y2="395.36" stroke="#666" stroke-width="0.6"/>
<line x1="34.36" y1="395.36" x2="36.96" y2="395.36" stroke="#666" stroke-width="0.6"/>
<line x1="34.36" y1="396.57" x2="36.96" y2="396.57" stroke="#666" stroke-width="0.6"/>
<line x1="54.05" y1="398.76" x2="54.05" y2="396.33" stroke="#666" stroke-width="0.6"/>
<line x1="52.75" y1="396.33" x2="55.35" y2="396.33" stroke="#666" stroke-width="0.6"/>
<line x1="52.75" y1="398.76" x2="55.35" y2="398.76" stroke="#666" stroke-width="0.6"/>
<line x1="72.44" y1="394.63" x2="72.44" y2="391.71" stroke="#666" stroke-width="0.6"/>
<line x1="71.14" y1="391.71" x2="73.74" y2="391.71" stroke="#666" stroke-width="0.6"/>
<line x1="71.14" y1="394.63" x2="73.74" y2="394.63" stroke="#666" stroke-width="0.6"/>
<line x1="90.83" y1="397.79" x2="90.83" y2="395.36" stroke="#666" stroke-width="0.6"/>
<line x1="89.53" y1="395.36" x2="92.13" y2="395.36" stroke="#666" stroke-width="0.6"/>
<line x1="89.53" y1="397.79" x2="92.13" y2="397.79" stroke="#666" stroke-width="0.6"/>
<line x1="109.22" y1="395.24" x2="109.22" y2="393.29" stroke="#666" stroke-width="0.6"/>
<line x1="107.92" y1="393.29" x2="110.52" y2="393.29" stroke="#666" stroke-width="0.6"/>
<line x1="107.92" y1="395.24" x2="110.52" y2="395.24" stroke="#666" stroke-width="0.6"/>
<line x1="127.61" y1="395.24" x2="127.61" y2="392.81" stroke="#666" stroke-width="0.6"/>
<line x1="126.31" y1="392.81" x2="128.91" y2="392.81" stroke="#666" stroke-width="0.6"/>
<line x1="126.31" y1="395.24" x2="128.91" y2="395.24" stroke="#666" stroke-width="0.6"/>
<line x1="146.00" y1="388.92" x2="146.00" y2="386.00" stroke="#666" stroke-width="0.6"/>
<line x1="144.70" y1="386.00" x2="147.30" y2="386.00" stroke="#666" stroke-width="0.6"/>
<line x1="144.70" y1="388.92" x2="147.30" y2="388.92" stroke="#666" stroke-width="0.6"/>
<polyline points="29.53,394.75 35.66,395.96 54.05,397.54 72.44,393.17 90.83,396.57 109.22,394.26 127.61,394.02 146.00,387.46" stroke="#111" stroke-width="1.0" fill="none"/>
<polygon points="27.61,396.09 31.45,396.09 29.53,392.83" fill="#fff" stroke="#111" stroke-width="0.7"/>
<polygon points="33.74,397.31 37.58,397.31 35.66,394.04" fill="#fff" stroke="#111" stroke-width="0.7"/>
<polygon points="52.13,398.89 55.97,398.89 54.05,395.62" fill="#fff" stroke="#111" stroke-width="0.7"/>
<polygon points="70.52,394.51 74.36,394.51 72.44,391.25" fill="#fff" stroke="#111" stroke-width="0.7"/>
<polygon points="88.91,397.92 92.75,397.92 90.83,394.65" fill="#fff" stroke="#111" stroke-width="0.7"/>
<polygon points="107.30,395.61 111.14,395.61 109.22,392.34" fill="#fff" stroke="#111" stroke-width="0.7"/>
<polygon points="125.69,395.36 129.53,395.36 127.61,392.10" fill="#fff" stroke="#111" stroke-width="0.7"/>
<polygon points="144.08,388.80 147.92,388.80 146.00,385.54" fill="#fff" stroke="#111" stroke-width="0.7"/>
<polyline points="29.53,394.75 35.66,395.96 54.05,394.63 72.44,390.86 90.83,392.93 109.22,380.17 127.61,376.40 146.00,360.61" stroke="#111" stroke-width="1.0" fill="none"/>
<circle cx="29.53" cy="394.75" r="2.1" fill="#fff" stroke="#111" stroke-width="0.7"/>
<circle cx="35.66" cy="395.96" r="2.1" fill="#fff" stroke="#111" stroke-width="0.7"/>
<circle cx="54.05" cy="394.63" r="2.1" fill="#fff" stroke="#111" stroke-width="0.7"/>
<circle cx="72.44" cy="390.86" r="2.1" fill="#fff" stroke="#111" stroke-width="0.7"/>
<circle cx="90.83" cy="392.93" r="2.1" fill="#fff" stroke="#111" stroke-width="0.7"/>
<circle cx="109.22" cy="380.17" r="2.1" fill="#fff" stroke="#111" stroke-width="0.7"/>
<circle cx="127.61" cy="376.40" r="2.1" fill="#fff" stroke="#111" stroke-width="0.7"/>
<circle cx="146.00" cy="360.61" r="2.1" fill="#fff" stroke="#111" stroke-width="0.7"/>
<polyline points="29.53,394.75 35.66,391.10 54.05,389.40 72.44,387.10 90.83,390.01 109.22,382.24 127.61,380.78 146.00,365.47" stroke="#111" stroke-width="1.0" fill="none"/>
<polygon points="26.77,392.68 32.29,392.68 29.53,397.51" fill="#000"/>
<polygon points="32.90,389.03 38.42,389.03 35.66,393.86" fill="#000"/>
<polygon points="51.29,387.33 56.81,387.33 54.05,392.16" fill="#000"/>
<polygon points="69.68,385.03 75.20,385.03 72.44,389.86" fill="#000"/>
<polygon points="88.07,387.94 93.59,387.94 90.83,392.77" fill="#000"/>
<polygon points="106.46,380.17 111.98,380.17 109.22,385.00" fill="#000"/>
<polygon points="124.85,378.71 130.37,378.71 127.61,383.54" fill="#000"/>
<polygon points="143.24,363.40 148.76,363.40 146.00,368.23" fill="#000"/>
<polyline points="29.53,394.75 35.66,390.86 54.05,382.84 72.44,381.63 90.83,374.09 109.22,368.14 127.61,347.61 146.00,323.06" stroke="#111" stroke-width="1.0" fill="none"/>
<circle cx="29.53" cy="394.75" r="2.4" fill="#000"/>
<circle cx="35.66" cy="390.86" r="2.4" fill="#000"/>
<circle cx="54.05" cy="382.84" r="2.4" fill="#000"/>
<circle cx="72.44" cy="381.63" r="2.4" fill="#000"/>
<circle cx="90.83" cy="374.09" r="2.4" fill="#000"/>
<circle cx="109.22" cy="368.14" r="2.4" fill="#000"/>
<circle cx="127.61" cy="347.61" r="2.4" fill="#000"/>
<circle cx="146.00" cy="323.06" r="2.4" fill="#000"/>
<circle cx="29.53" cy="394.75" r="2.1" fill="#fff" stroke="#111" stroke-width="0.7"/>
<text x="153.30" y="362.20" font-size="10" text-anchor="middle" font-weight="bold" fill="#111" letter-spacing="0.3">*</text>
<text x="153.30" y="375.10" font-size="10" text-anchor="middle" font-weight="bold" fill="#111" letter-spacing="0.3">*</text>
<text x="146.50" y="386.50" font-size="10" text-anchor="middle" font-weight="bold" fill="#111" letter-spacing="0.3">***</text>
<line x1="35.00" y1="335.50" x2="48.80" y2="335.50" stroke="#111" stroke-width="1.0"/>
<circle cx="41.80" cy="335.50" r="2.4" fill="#000"/>
<text x="51.30" y="337.90" font-size="6.6" text-anchor="start" fill="#111" stroke="#111" stroke-width="0.3">Control</text>
<line x1="35.00" y1="342.50" x2="48.80" y2="342.50" stroke="#111" stroke-width="1.0"/>
<circle cx="41.80" cy="342.50" r="2.1" fill="#fff" stroke="#111" stroke-width="0.7"/>
<text x="51.30" y="344.90" font-size="6.6" text-anchor="start" fill="#111" stroke="#111" stroke-width="0.3">RA</text>
<line x1="35.00" y1="350.50" x2="48.80" y2="350.50" stroke="#111" stroke-width="1.0"/>
<polygon points="39.04,348.43 44.56,348.43 41.80,353.26" fill="#000"/>
<text x="51.30" y="352.90" font-size="6.6" text-anchor="start" fill="#111" stroke="#111" stroke-width="0.3">Kyn</text>
<line x1="35.00" y1="358.00" x2="48.80" y2="358.00" stroke="#111" stroke-width="1.0"/>
<polygon points="39.88,359.34 43.72,359.34 41.80,356.08" fill="#fff" stroke="#111" stroke-width="0.7"/>
<text x="51.30" y="360.40" font-size="6.6" text-anchor="start" fill="#111" stroke="#111" stroke-width="0.3">RA+Kyn</text>
<text x="165.80" y="302.10" font-size="16" text-anchor="start" font-weight="bold" fill="#000">H</text>
<text x="225.20" y="320.70" font-size="8.2" text-anchor="middle" textLength="28" lengthAdjust="spacingAndGlyphs" fill="#111" stroke="#111" stroke-width="0.3">Control</text>
<line x1="204.70" y1="325.80" x2="245.80" y2="325.80" stroke="#111" stroke-width="1.1"/>
<text x="269.00" y="320.70" font-size="8.2" text-anchor="middle" textLength="11.6" lengthAdjust="spacingAndGlyphs" fill="#111" stroke="#111" stroke-width="0.3">RA</text>
<line x1="248.00" y1="325.80" x2="289.60" y2="325.80" stroke="#111" stroke-width="1.1"/>
<text x="313.20" y="320.70" font-size="8.2" text-anchor="middle" textLength="15" lengthAdjust="spacingAndGlyphs" fill="#111" stroke="#111" stroke-width="0.3">Kyn</text>
<line x1="293.00" y1="325.80" x2="333.50" y2="325.80" stroke="#111" stroke-width="1.1"/>
<text x="356.50" y="320.70" font-size="8.2" text-anchor="middle" textLength="33" lengthAdjust="spacingAndGlyphs" fill="#111" stroke="#111" stroke-width="0.3">RA+Kyn</text>
<line x1="337.00" y1="325.80" x2="377.30" y2="325.80" stroke="#111" stroke-width="1.1"/>
<rect x="199.20" y="328.80" width="185.00" height="18.90" fill="#f7f7f7"/>
<g filter="url(#blband)">
<rect x="200.95" y="335.65" width="13.50" height="8.40" rx="4.20" fill="rgba(0,0,0,0.086)"/>
<rect x="217.75" y="335.65" width="13.50" height="8.40" rx="4.20" fill="rgba(0,0,0,0.460)"/>
<rect x="232.25" y="335.65" width="13.50" height="8.40" rx="4.20" fill="rgba(0,0,0,0.323)"/>
<rect x="248.25" y="335.65" width="13.50" height="8.40" rx="4.20" fill="rgba(0,0,0,0.960)"/>
<rect x="263.25" y="335.65" width="13.50" height="8.40" rx="4.20" fill="rgba(0,0,0,0.705)"/>
<rect x="277.05" y="335.65" width="13.50" height="8.40" rx="4.20" fill="rgba(0,0,0,0.760)"/>
<rect x="291.45" y="335.65" width="13.50" height="8.40" rx="4.20" fill="rgba(0,0,0,0.796)"/>
<rect x="305.95" y="335.65" width="13.50" height="8.40" rx="4.20" fill="rgba(0,0,0,0.933)"/>
<rect x="319.25" y="335.65" width="13.50" height="8.40" rx="4.20" fill="rgba(0,0,0,0.824)"/>
<rect x="335.25" y="335.73" width="13.50" height="4.20" rx="2.10" fill="rgba(0,0,0,0.914)"/>
<rect x="335.25" y="339.77" width="13.50" height="4.20" rx="2.10" fill="rgba(0,0,0,0.914)"/>
<rect x="349.05" y="335.65" width="13.50" height="8.40" rx="4.20" fill="rgba(0,0,0,0.669)"/>
<rect x="364.75" y="335.65" width="13.50" height="8.40" rx="4.20" fill="rgba(0,0,0,0.933)"/>
</g>
<rect x="199.80" y="329.40" width="183.80" height="17.70" fill="none" stroke="#111" stroke-width="1.2"/>
<rect x="199.20" y="353.90" width="185.00" height="18.00" fill="#f7f7f7"/>
<g filter="url(#blband)">
<rect x="200.95" y="360.50" width="13.50" height="7.20" rx="3.60" fill="rgba(0,0,0,0.077)"/>
<rect x="217.75" y="360.50" width="13.50" height="7.20" rx="3.60" fill="rgba(0,0,0,0.323)"/>
<rect x="232.25" y="360.50" width="13.50" height="7.20" rx="3.60" fill="rgba(0,0,0,0.232)"/>
<rect x="248.25" y="360.50" width="13.50" height="7.20" rx="3.60" fill="rgba(0,0,0,0.796)"/>
<rect x="263.25" y="360.50" width="13.50" height="7.20" rx="3.60" fill="rgba(0,0,0,0.578)"/>
<rect x="277.05" y="360.50" width="13.50" height="7.20" rx="3.60" fill="rgba(0,0,0,0.578)"/>
<rect x="291.45" y="360.50" width="13.50" height="7.20" rx="3.60" fill="rgba(0,0,0,0.523)"/>
<rect x="305.95" y="360.50" width="13.50" height="7.20" rx="3.60" fill="rgba(0,0,0,0.887)"/>
<rect x="319.25" y="360.50" width="13.50" height="7.20" rx="3.60" fill="rgba(0,0,0,0.460)"/>
<rect x="335.25" y="360.57" width="13.50" height="3.60" rx="1.80" fill="rgba(0,0,0,0.933)"/>
<rect x="335.25" y="364.03" width="13.50" height="3.60" rx="1.80" fill="rgba(0,0,0,0.933)"/>
<rect x="349.05" y="360.50" width="13.50" height="7.20" rx="3.60" fill="rgba(0,0,0,0.323)"/>
<rect x="364.75" y="360.50" width="13.50" height="7.20" rx="3.60" fill="rgba(0,0,0,0.760)"/>
</g>
<rect x="199.80" y="354.50" width="183.80" height="16.80" fill="none" stroke="#111" stroke-width="1.2"/>
<rect x="199.20" y="378.40" width="185.00" height="17.80" fill="#f7f7f7"/>
<g filter="url(#blband)">
<rect x="201.45" y="386.60" width="12.50" height="3.40" rx="1.70" fill="rgba(0,0,0,0.824)"/>
<rect x="218.25" y="386.60" width="12.50" height="3.40" rx="1.70" fill="rgba(0,0,0,0.778)"/>
<rect x="232.75" y="386.60" width="12.50" height="3.40" rx="1.70" fill="rgba(0,0,0,0.551)"/>
<rect x="248.75" y="386.60" width="12.50" height="3.40" rx="1.70" fill="rgba(0,0,0,0.778)"/>
<rect x="263.75" y="386.60" width="12.50" height="3.40" rx="1.70" fill="rgba(0,0,0,0.368)"/>
<rect x="277.55" y="386.60" width="12.50" height="3.40" rx="1.70" fill="rgba(0,0,0,0.778)"/>
<rect x="291.95" y="386.60" width="12.50" height="3.40" rx="1.70" fill="rgba(0,0,0,0.824)"/>
<rect x="306.45" y="386.60" width="12.50" height="3.40" rx="1.70" fill="rgba(0,0,0,0.733)"/>
<rect x="319.75" y="386.60" width="12.50" height="3.40" rx="1.70" fill="rgba(0,0,0,0.687)"/>
<rect x="335.75" y="386.60" width="12.50" height="3.40" rx="1.70" fill="rgba(0,0,0,0.105)"/>
<rect x="349.55" y="386.60" width="12.50" height="3.40" rx="1.70" fill="rgba(0,0,0,0.642)"/>
<rect x="365.25" y="386.60" width="12.50" height="3.40" rx="1.70" fill="rgba(0,0,0,0.214)"/>
</g>
<rect x="199.80" y="379.00" width="183.80" height="16.60" fill="none" stroke="#111" stroke-width="1.2"/>
<text x="196.80" y="342.20" font-size="8.6" text-anchor="end" textLength="30.6" lengthAdjust="spacingAndGlyphs" fill="#111" stroke="#111" stroke-width="0.3">GAP-43</text>
<text x="196.80" y="367.20" font-size="8.6" text-anchor="end" textLength="19" lengthAdjust="spacingAndGlyphs" fill="#111" stroke="#111" stroke-width="0.3">NSE</text>
<text x="196.80" y="390.80" font-size="8.6" text-anchor="end" textLength="27.6" lengthAdjust="spacingAndGlyphs" fill="#111" stroke="#111" stroke-width="0.3">&#946;-Actin</text>
<line x1="410.30" y1="318.00" x2="410.30" y2="406.50" stroke="#444" stroke-width="0.7"/>
<line x1="408.80" y1="406.50" x2="410.30" y2="406.50" stroke="#444" stroke-width="0.6"/>
<text x="406.40" y="407.99" font-size="4.125" text-anchor="end" font-weight="bold" textLength="1.86" lengthAdjust="spacingAndGlyphs" fill="#111">0</text>
<line x1="408.80" y1="392.20" x2="410.30" y2="392.20" stroke="#444" stroke-width="0.6"/>
<text x="406.40" y="393.69" font-size="4.125" text-anchor="end" font-weight="bold" textLength="1.86" lengthAdjust="spacingAndGlyphs" fill="#111">2</text>
<line x1="408.80" y1="377.90" x2="410.30" y2="377.90" stroke="#444" stroke-width="0.6"/>
<text x="406.40" y="379.38" font-size="4.125" text-anchor="end" font-weight="bold" textLength="1.86" lengthAdjust="spacingAndGlyphs" fill="#111">4</text>
<line x1="408.80" y1="363.60" x2="410.30" y2="363.60" stroke="#444" stroke-width="0.6"/>
<text x="406.40" y="365.09" font-size="4.125" text-anchor="end" font-weight="bold" textLength="1.86" lengthAdjust="spacingAndGlyphs" fill="#111">6</text>
<line x1="408.80" y1="349.30" x2="410.30" y2="349.30" stroke="#444" stroke-width="0.6"/>
<text x="406.40" y="350.79" font-size="4.125" text-anchor="end" font-weight="bold" textLength="1.86" lengthAdjust="spacingAndGlyphs" fill="#111">8</text>
<line x1="408.80" y1="335.00" x2="410.30" y2="335.00" stroke="#444" stroke-width="0.6"/>
<text x="406.40" y="336.49" font-size="4.125" text-anchor="end" font-weight="bold" textLength="3.71" lengthAdjust="spacingAndGlyphs" fill="#111">10</text>
<line x1="408.80" y1="320.70" x2="410.30" y2="320.70" stroke="#444" stroke-width="0.6"/>
<text x="406.40" y="322.19" font-size="4.125" text-anchor="end" font-weight="bold" textLength="3.71" lengthAdjust="spacingAndGlyphs" fill="#111">12</text>
<line x1="410.30" y1="406.50" x2="517.50" y2="406.50" stroke="#444" stroke-width="0.7"/>
<line x1="423.00" y1="399.35" x2="423.00" y2="396.49" stroke="#777" stroke-width="0.65"/>
<line x1="421.50" y1="396.49" x2="424.50" y2="396.49" stroke="#777" stroke-width="0.65"/>
<rect x="419.55" y="399.35" width="6.90" height="7.15" fill="#fff" stroke="#555" stroke-width="0.6"/>
<line x1="431.75" y1="383.62" x2="431.75" y2="378.62" stroke="#777" stroke-width="0.65"/>
<line x1="430.25" y1="378.62" x2="433.25" y2="378.62" stroke="#777" stroke-width="0.65"/>
<rect x="428.30" y="383.62" width="6.90" height="22.88" fill="#bdbdbd" stroke="#555" stroke-width="0.6"/>
<text x="431.75" y="380.96" font-size="9.5" text-anchor="middle" font-weight="bold" fill="#111" letter-spacing="0.3">*</text>
<line x1="440.75" y1="390.77" x2="440.75" y2="388.98" stroke="#777" stroke-width="0.65"/>
<line x1="439.25" y1="388.98" x2="442.25" y2="388.98" stroke="#777" stroke-width="0.65"/>
<rect x="437.30" y="390.77" width="6.90" height="15.73" fill="#8a8a8a" stroke="#555" stroke-width="0.6"/>
<text x="440.75" y="391.33" font-size="9.5" text-anchor="middle" font-weight="bold" fill="#111" letter-spacing="0.3">*</text>
<line x1="449.50" y1="367.18" x2="449.50" y2="357.52" stroke="#777" stroke-width="0.65"/>
<line x1="448.00" y1="357.52" x2="451.00" y2="357.52" stroke="#777" stroke-width="0.65"/>
<rect x="445.75" y="367.18" width="7.50" height="39.32" fill="#080808"/>
<text x="449.50" y="359.87" font-size="9.5" text-anchor="middle" font-weight="bold" fill="#111" letter-spacing="0.3">*</text>
<line x1="474.25" y1="399.35" x2="474.25" y2="396.49" stroke="#777" stroke-width="0.65"/>
<line x1="472.75" y1="396.49" x2="475.75" y2="396.49" stroke="#777" stroke-width="0.65"/>
<rect x="470.80" y="399.35" width="6.90" height="7.15" fill="#fff" stroke="#555" stroke-width="0.6"/>
<line x1="483.00" y1="388.62" x2="483.00" y2="385.41" stroke="#777" stroke-width="0.65"/>
<line x1="481.50" y1="385.41" x2="484.50" y2="385.41" stroke="#777" stroke-width="0.65"/>
<rect x="479.55" y="388.62" width="6.90" height="17.88" fill="#bdbdbd" stroke="#555" stroke-width="0.6"/>
<line x1="491.75" y1="390.77" x2="491.75" y2="389.70" stroke="#777" stroke-width="0.65"/>
<line x1="490.25" y1="389.70" x2="493.25" y2="389.70" stroke="#777" stroke-width="0.65"/>
<rect x="488.30" y="390.77" width="6.90" height="15.73" fill="#8a8a8a" stroke="#555" stroke-width="0.6"/>
<text x="491.75" y="392.04" font-size="9.5" text-anchor="middle" font-weight="bold" fill="#111" letter-spacing="0.3">*</text>
<line x1="501.00" y1="344.30" x2="501.00" y2="324.99" stroke="#777" stroke-width="0.65"/>
<line x1="499.50" y1="324.99" x2="502.50" y2="324.99" stroke="#777" stroke-width="0.65"/>
<rect x="497.00" y="344.30" width="8.00" height="62.20" fill="#080808"/>
<text x="501.00" y="327.34" font-size="9.5" text-anchor="middle" font-weight="bold" fill="#111" letter-spacing="0.3">*</text>
<rect x="419.00" y="317.00" width="13.50" height="2.70" fill="#fff" stroke="#444" stroke-width="0.6"/>
<text x="435.60" y="320.10" font-size="6.4" text-anchor="start" textLength="19.1" lengthAdjust="spacingAndGlyphs" fill="#111" stroke="#111" stroke-width="0.3">Control</text>
<rect x="419.00" y="324.10" width="13.50" height="2.70" fill="#c4c4c4" stroke="#444" stroke-width="0.6"/>
<text x="435.60" y="327.20" font-size="6.4" text-anchor="start" textLength="8.2" lengthAdjust="spacingAndGlyphs" fill="#111" stroke="#111" stroke-width="0.3">RA</text>
<rect x="419.00" y="331.00" width="13.50" height="2.70" fill="#8a8a8a" stroke="#444" stroke-width="0.6"/>
<text x="435.60" y="334.10" font-size="6.4" text-anchor="start" textLength="9.8" lengthAdjust="spacingAndGlyphs" fill="#111" stroke="#111" stroke-width="0.3">Kyn</text>
<rect x="419.00" y="338.00" width="13.50" height="2.70" fill="#000"/>
<text x="435.60" y="341.10" font-size="6.4" text-anchor="start" textLength="21.3" lengthAdjust="spacingAndGlyphs" fill="#111" stroke="#111" stroke-width="0.3">RA+Kyn</text>
<text x="436.20" y="416.50" font-size="7.2" text-anchor="middle" textLength="23.4" lengthAdjust="spacingAndGlyphs" fill="#111" stroke="#111" stroke-width="0.3">GAP-43</text>
<text x="487.70" y="416.50" font-size="7.2" text-anchor="middle" textLength="12.9" lengthAdjust="spacingAndGlyphs" fill="#111" stroke="#111" stroke-width="0.3">NSE</text>
<text x="399.40" y="360.10" font-size="6.2" text-anchor="middle" textLength="73.4" lengthAdjust="spacingAndGlyphs" fill="#111" stroke="#111" stroke-width="0.3" transform="rotate(-90 399.4 360.1)">Normalized protein levels</text>
<text x="6.20" y="440.40" font-size="16" text-anchor="start" font-weight="bold" fill="#000">I</text>
<line x1="21.60" y1="448.00" x2="21.60" y2="544.00" stroke="#444" stroke-width="0.7"/>
<line x1="20.10" y1="543.90" x2="21.60" y2="543.90" stroke="#444" stroke-width="0.6"/>
<text x="17.70" y="545.79" font-size="5.25" text-anchor="end" font-weight="bold" textLength="4.73" lengthAdjust="spacingAndGlyphs" fill="#111">50</text>
<line x1="20.10" y1="525.20" x2="21.60" y2="525.20" stroke="#444" stroke-width="0.6"/>
<text x="17.70" y="527.09" font-size="5.25" text-anchor="end" font-weight="bold" textLength="7.09" lengthAdjust="spacingAndGlyphs" fill="#111">100</text>
<line x1="20.10" y1="506.50" x2="21.60" y2="506.50" stroke="#444" stroke-width="0.6"/>
<text x="17.70" y="508.39" font-size="5.25" text-anchor="end" font-weight="bold" textLength="7.09" lengthAdjust="spacingAndGlyphs" fill="#111">150</text>
<line x1="20.10" y1="487.80" x2="21.60" y2="487.80" stroke="#444" stroke-width="0.6"/>
<text x="17.70" y="489.69" font-size="5.25" text-anchor="end" font-weight="bold" textLength="7.09" lengthAdjust="spacingAndGlyphs" fill="#111">200</text>
<line x1="20.10" y1="469.10" x2="21.60" y2="469.10" stroke="#444" stroke-width="0.6"/>
<text x="17.70" y="470.99" font-size="5.25" text-anchor="end" font-weight="bold" textLength="7.09" lengthAdjust="spacingAndGlyphs" fill="#111">250</text>
<line x1="20.10" y1="450.40" x2="21.60" y2="450.40" stroke="#444" stroke-width="0.6"/>
<text x="17.70" y="452.29" font-size="5.25" text-anchor="end" font-weight="bold" textLength="7.09" lengthAdjust="spacingAndGlyphs" fill="#111">300</text>
<line x1="21.60" y1="544.00" x2="146.00" y2="544.00" stroke="#444" stroke-width="0.7"/>
<line x1="33.70" y1="544.00" x2="33.70" y2="545.40" stroke="#444" stroke-width="0.6"/>
<text x="33.70" y="552.60" font-size="5.4" text-anchor="middle" textLength="2.8" lengthAdjust="spacingAndGlyphs" fill="#222" stroke="#222" stroke-width="0.3">2</text>
<line x1="51.04" y1="544.00" x2="51.04" y2="545.40" stroke="#444" stroke-width="0.6"/>
<text x="51.04" y="552.60" font-size="5.4" text-anchor="middle" textLength="2.8" lengthAdjust="spacingAndGlyphs" fill="#222" stroke="#222" stroke-width="0.3">5</text>
<line x1="68.38" y1="544.00" x2="68.38" y2="545.40" stroke="#444" stroke-width="0.6"/>
<text x="68.38" y="552.60" font-size="5.4" text-anchor="middle" textLength="2.8" lengthAdjust="spacingAndGlyphs" fill="#222" stroke="#222" stroke-width="0.3">8</text>
<line x1="85.72" y1="544.00" x2="85.72" y2="545.40" stroke="#444" stroke-width="0.6"/>
<text x="85.72" y="552.60" font-size="5.4" text-anchor="middle" textLength="5.6" lengthAdjust="spacingAndGlyphs" fill="#222" stroke="#222" stroke-width="0.3">11</text>
<line x1="103.06" y1="544.00" x2="103.06" y2="545.40" stroke="#444" stroke-width="0.6"/>
<text x="103.06" y="552.60" font-size="5.4" text-anchor="middle" textLength="5.6" lengthAdjust="spacingAndGlyphs" fill="#222" stroke="#222" stroke-width="0.3">14</text>
<line x1="120.40" y1="544.00" x2="120.40" y2="545.40" stroke="#444" stroke-width="0.6"/>
<text x="120.40" y="552.60" font-size="5.4" text-anchor="middle" textLength="5.6" lengthAdjust="spacingAndGlyphs" fill="#222" stroke="#222" stroke-width="0.3">17</text>
<line x1="137.74" y1="544.00" x2="137.74" y2="545.40" stroke="#444" stroke-width="0.6"/>
<text x="137.74" y="552.60" font-size="5.4" text-anchor="middle" textLength="5.6" lengthAdjust="spacingAndGlyphs" fill="#222" stroke="#222" stroke-width="0.3">20</text>
<text x="85.00" y="563.20" font-size="7.0" text-anchor="middle" textLength="33.3" lengthAdjust="spacingAndGlyphs" fill="#111" stroke="#111" stroke-width="0.3">Time (days)</text>
<text x="5.40" y="497.20" font-size="6.4" text-anchor="middle" textLength="43.8" lengthAdjust="spacingAndGlyphs" fill="#111" stroke="#111" stroke-width="0.3" transform="rotate(-90 5.4 497.2)">Tumor size (%)</text>
<text x="45.40" y="458.60" font-size="8.4" text-anchor="middle" textLength="33" lengthAdjust="spacingAndGlyphs" fill="#111" stroke="#111" stroke-width="0.3">BE(2)-C</text>
<line x1="29.00" y1="460.80" x2="62.00" y2="460.80" stroke="#666" stroke-width="0.7"/>
<line x1="33.70" y1="528.57" x2="33.70" y2="524.08" stroke="#666" stroke-width="0.6"/>
<line x1="32.40" y1="524.08" x2="35.00" y2="524.08" stroke="#666" stroke-width="0.6"/>
<line x1="32.40" y1="528.57" x2="35.00" y2="528.57" stroke="#666" stroke-width="0.6"/>
<line x1="51.04" y1="527.44" x2="51.04" y2="518.47" stroke="#666" stroke-width="0.6"/>
<line x1="49.74" y1="518.47" x2="52.34" y2="518.47" stroke="#666" stroke-width="0.6"/>
<line x1="49.74" y1="527.44" x2="52.34" y2="527.44" stroke="#666" stroke-width="0.6"/>
<line x1="68.38" y1="520.11" x2="68.38" y2="508.89" stroke="#666" stroke-width="0.6"/>
<line x1="67.08" y1="508.89" x2="69.68" y2="508.89" stroke="#666" stroke-width="0.6"/>
<line x1="67.08" y1="520.11" x2="69.68" y2="520.11" stroke="#666" stroke-width="0.6"/>
<line x1="85.72" y1="507.62" x2="85.72" y2="498.65" stroke="#666" stroke-width="0.6"/>
<line x1="84.42" y1="498.65" x2="87.02" y2="498.65" stroke="#666" stroke-width="0.6"/>
<line x1="84.42" y1="507.62" x2="87.02" y2="507.62" stroke="#666" stroke-width="0.6"/>
<line x1="103.06" y1="486.30" x2="103.06" y2="467.60" stroke="#666" stroke-width="0.6"/>
<line x1="101.76" y1="467.60" x2="104.36" y2="467.60" stroke="#666" stroke-width="0.6"/>
<line x1="101.76" y1="486.30" x2="104.36" y2="486.30" stroke="#666" stroke-width="0.6"/>
<line x1="120.40" y1="472.84" x2="120.40" y2="457.88" stroke="#666" stroke-width="0.6"/>
<line x1="119.10" y1="457.88" x2="121.70" y2="457.88" stroke="#666" stroke-width="0.6"/>
<line x1="119.10" y1="472.84" x2="121.70" y2="472.84" stroke="#666" stroke-width="0.6"/>
<line x1="137.74" y1="469.85" x2="137.74" y2="456.38" stroke="#666" stroke-width="0.6"/>
<line x1="136.44" y1="456.38" x2="139.04" y2="456.38" stroke="#666" stroke-width="0.6"/>
<line x1="136.44" y1="469.85" x2="139.04" y2="469.85" stroke="#666" stroke-width="0.6"/>
<line x1="33.70" y1="530.81" x2="33.70" y2="526.32" stroke="#666" stroke-width="0.6"/>
<line x1="32.40" y1="526.32" x2="35.00" y2="526.32" stroke="#666" stroke-width="0.6"/>
<line x1="32.40" y1="530.81" x2="35.00" y2="530.81" stroke="#666" stroke-width="0.6"/>
<line x1="51.04" y1="530.21" x2="51.04" y2="524.23" stroke="#666" stroke-width="0.6"/>
<line x1="49.74" y1="524.23" x2="52.34" y2="524.23" stroke="#666" stroke-width="0.6"/>
<line x1="49.74" y1="530.21" x2="52.34" y2="530.21" stroke="#666" stroke-width="0.6"/>
<line x1="68.38" y1="523.89" x2="68.38" y2="517.91" stroke="#666" stroke-width="0.6"/>
<line x1="67.08" y1="517.91" x2="69.68" y2="517.91" stroke="#666" stroke-width="0.6"/>
<line x1="67.08" y1="523.89" x2="69.68" y2="523.89" stroke="#666" stroke-width="0.6"/>
<line x1="85.72" y1="518.84" x2="85.72" y2="511.36" stroke="#666" stroke-width="0.6"/>
<line x1="84.42" y1="511.36" x2="87.02" y2="511.36" stroke="#666" stroke-width="0.6"/>
<line x1="84.42" y1="518.84" x2="87.02" y2="518.84" stroke="#666" stroke-width="0.6"/>
<line x1="103.06" y1="510.24" x2="103.06" y2="493.78" stroke="#666" stroke-width="0.6"/>
<line x1="101.76" y1="493.78" x2="104.36" y2="493.78" stroke="#666" stroke-width="0.6"/>
<line x1="101.76" y1="510.24" x2="104.36" y2="510.24" stroke="#666" stroke-width="0.6"/>
<line x1="120.40" y1="509.49" x2="120.40" y2="493.04" stroke="#666" stroke-width="0.6"/>
<line x1="119.10" y1="493.04" x2="121.70" y2="493.04" stroke="#666" stroke-width="0.6"/>
<line x1="119.10" y1="509.49" x2="121.70" y2="509.49" stroke="#666" stroke-width="0.6"/>
<line x1="137.74" y1="509.49" x2="137.74" y2="490.79" stroke="#666" stroke-width="0.6"/>
<line x1="136.44" y1="490.79" x2="139.04" y2="490.79" stroke="#666" stroke-width="0.6"/>
<line x1="136.44" y1="509.49" x2="139.04" y2="509.49" stroke="#666" stroke-width="0.6"/>
<polyline points="26.80,525.20 33.70,528.57 51.04,527.22 68.38,520.90 85.72,515.10 103.06,502.01 120.40,501.26 137.74,500.14" stroke="#777" stroke-width="0.8" fill="none"/>
<polyline points="26.80,525.20 33.70,526.32 51.04,522.96 68.38,514.50 85.72,503.13 103.06,476.95 120.40,465.36 137.74,463.12" stroke="#777" stroke-width="0.8" fill="none"/>
<circle cx="33.70" cy="528.57" r="1.8" fill="#fff" stroke="#111" stroke-width="0.7"/>
<circle cx="51.04" cy="527.22" r="1.8" fill="#fff" stroke="#111" stroke-width="0.7"/>
<circle cx="68.38" cy="520.90" r="1.8" fill="#fff" stroke="#111" stroke-width="0.7"/>
<circle cx="85.72" cy="515.10" r="1.8" fill="#fff" stroke="#111" stroke-width="0.7"/>
<circle cx="103.06" cy="502.01" r="1.8" fill="#fff" stroke="#111" stroke-width="0.7"/>
<circle cx="120.40" cy="501.26" r="1.8" fill="#fff" stroke="#111" stroke-width="0.7"/>
<circle cx="137.74" cy="500.14" r="1.8" fill="#fff" stroke="#111" stroke-width="0.7"/>
<circle cx="33.70" cy="526.32" r="2.0" fill="#000"/>
<circle cx="51.04" cy="522.96" r="2.0" fill="#000"/>
<circle cx="68.38" cy="514.50" r="2.0" fill="#000"/>
<circle cx="85.72" cy="503.13" r="2.0" fill="#000"/>
<circle cx="103.06" cy="476.95" r="2.0" fill="#000"/>
<circle cx="120.40" cy="465.36" r="2.0" fill="#000"/>
<circle cx="137.74" cy="463.12" r="2.0" fill="#000"/>
<circle cx="26.80" cy="525.20" r="1.8" fill="#fff" stroke="#111" stroke-width="0.7"/>
<text x="121.00" y="493.70" font-size="10" text-anchor="middle" font-weight="bold" fill="#111" letter-spacing="0.3">***</text>
<text x="138.40" y="493.70" font-size="10" text-anchor="middle" font-weight="bold" fill="#111" letter-spacing="0.3">***</text>
<line x1="28.80" y1="482.80" x2="44.70" y2="482.80" stroke="#777" stroke-width="0.8"/>
<circle cx="36.90" cy="482.80" r="2.0" fill="#000"/>
<text x="47.60" y="485.20" font-size="6.8" text-anchor="start" textLength="21.5" lengthAdjust="spacingAndGlyphs" fill="#111" stroke="#111" stroke-width="0.3">Control</text>
<line x1="28.80" y1="490.90" x2="44.70" y2="490.90" stroke="#777" stroke-width="0.8"/>
<circle cx="36.90" cy="490.90" r="1.8" fill="#fff" stroke="#111" stroke-width="0.7"/>
<text x="47.60" y="493.30" font-size="6.8" text-anchor="start" textLength="10.5" lengthAdjust="spacingAndGlyphs" fill="#111" stroke="#111" stroke-width="0.3">Kyn</text>
<text x="167.40" y="440.40" font-size="16" text-anchor="start" font-weight="bold" fill="#000">J</text>
<text x="241.70" y="447.80" font-size="8.2" text-anchor="middle" textLength="28.2" lengthAdjust="spacingAndGlyphs" fill="#111" stroke="#111" stroke-width="0.3">Control</text>
<line x1="205.00" y1="453.00" x2="278.90" y2="453.00" stroke="#111" stroke-width="1.1"/>
<text x="320.30" y="447.80" font-size="8.2" text-anchor="middle" textLength="15" lengthAdjust="spacingAndGlyphs" fill="#111" stroke="#111" stroke-width="0.3">Kyn</text>
<line x1="283.80" y1="453.00" x2="357.20" y2="453.00" stroke="#111" stroke-width="1.1"/>
<linearGradient id="gcyp" x1="0" y1="0" x2="1" y2="0"><stop offset="0" stop-color="#cdcdcd"/><stop offset="0.5" stop-color="#c4c4c4"/><stop offset="0.85" stop-color="#a8a8a8"/><stop offset="1" stop-color="#7a7a7a"/></linearGradient>
<linearGradient id="gcypv" x1="0" y1="0" x2="0" y2="1"><stop offset="0" stop-color="#000" stop-opacity="0.22"/><stop offset="0.45" stop-color="#000" stop-opacity="0.0"/><stop offset="1" stop-color="#000" stop-opacity="0.05"/></linearGradient>
<rect x="201.50" y="457.00" width="159.00" height="18.00" fill="url(#gcyp)"/>
<g filter="url(#blband)">
<rect x="202.50" y="463.50" width="12.00" height="5.00" rx="2.50" fill="rgba(0,0,0,0.278)"/>
<rect x="219.30" y="463.50" width="12.00" height="5.00" rx="2.50" fill="rgba(0,0,0,0.123)"/>
<rect x="234.80" y="463.50" width="12.00" height="5.00" rx="2.50" fill="rgba(0,0,0,0.141)"/>
<rect x="252.00" y="463.50" width="12.00" height="5.00" rx="2.50" fill="rgba(0,0,0,0.214)"/>
<rect x="267.50" y="463.50" width="12.00" height="5.00" rx="2.50" fill="rgba(0,0,0,0.186)"/>
<rect x="283.50" y="463.50" width="12.00" height="5.00" rx="2.50" fill="rgba(0,0,0,0.186)"/>
<rect x="298.30" y="463.50" width="12.00" height="5.00" rx="2.50" fill="rgba(0,0,0,0.186)"/>
<rect x="314.10" y="463.50" width="12.00" height="5.00" rx="2.50" fill="rgba(0,0,0,0.232)"/>
<rect x="329.00" y="463.50" width="12.00" height="5.00" rx="2.50" fill="rgba(0,0,0,0.323)"/>
<rect x="346.00" y="463.50" width="12.00" height="5.00" rx="2.50" fill="rgba(0,0,0,0.596)"/>
</g>
<rect x="202.10" y="457.60" width="157.80" height="16.80" fill="none" stroke="#111" stroke-width="1.2"/>
<rect x="202.10" y="457.60" width="157.80" height="16.80" fill="url(#gcypv)"/>
<rect x="201.50" y="479.60" width="159.00" height="18.40" fill="#e6e6e6"/>
<g filter="url(#blband)">
<rect x="202.50" y="487.00" width="12.00" height="3.60" rx="1.80" fill="rgba(0,0,0,0.733)"/>
<rect x="219.30" y="487.00" width="12.00" height="3.60" rx="1.80" fill="rgba(0,0,0,0.278)"/>
<rect x="234.80" y="487.00" width="12.00" height="3.60" rx="1.80" fill="rgba(0,0,0,0.414)"/>
<rect x="252.00" y="487.00" width="12.00" height="3.60" rx="1.80" fill="rgba(0,0,0,0.778)"/>
<rect x="267.50" y="487.00" width="12.00" height="3.60" rx="1.80" fill="rgba(0,0,0,0.323)"/>
<rect x="283.50" y="487.00" width="12.00" height="3.60" rx="1.80" fill="rgba(0,0,0,0.824)"/>
<rect x="298.30" y="487.00" width="12.00" height="3.60" rx="1.80" fill="rgba(0,0,0,0.596)"/>
<rect x="314.10" y="487.00" width="12.00" height="3.60" rx="1.80" fill="rgba(0,0,0,0.778)"/>
<rect x="329.00" y="487.00" width="12.00" height="3.60" rx="1.80" fill="rgba(0,0,0,0.642)"/>
<rect x="346.00" y="487.00" width="12.00" height="3.60" rx="1.80" fill="rgba(0,0,0,0.914)"/>
</g>
<rect x="202.10" y="480.20" width="157.80" height="17.20" fill="none" stroke="#111" stroke-width="1.2"/>
<rect x="201.50" y="503.40" width="159.00" height="18.40" fill="#e6e6e6"/>
<g filter="url(#blband)">
<rect x="202.50" y="510.70" width="12.00" height="3.80" rx="1.90" fill="rgba(0,0,0,0.323)"/>
<rect x="219.30" y="510.70" width="12.00" height="3.80" rx="1.90" fill="rgba(0,0,0,0.232)"/>
<rect x="234.80" y="510.70" width="12.00" height="3.80" rx="1.90" fill="rgba(0,0,0,0.368)"/>
<rect x="252.00" y="510.70" width="12.00" height="3.80" rx="1.90" fill="rgba(0,0,0,0.778)"/>
<rect x="267.50" y="510.70" width="12.00" height="3.80" rx="1.90" fill="rgba(0,0,0,0.460)"/>
<rect x="283.50" y="510.70" width="12.00" height="3.80" rx="1.90" fill="rgba(0,0,0,0.505)"/>
<rect x="298.30" y="510.70" width="12.00" height="3.80" rx="1.90" fill="rgba(0,0,0,0.505)"/>
<rect x="314.10" y="510.70" width="12.00" height="3.80" rx="1.90" fill="rgba(0,0,0,0.505)"/>
<rect x="329.00" y="510.70" width="12.00" height="3.80" rx="1.90" fill="rgba(0,0,0,0.278)"/>
<rect x="346.00" y="510.70" width="12.00" height="3.80" rx="1.90" fill="rgba(0,0,0,0.505)"/>
</g>
<rect x="202.10" y="504.00" width="157.80" height="17.20" fill="none" stroke="#111" stroke-width="1.2"/>
<rect x="201.50" y="526.50" width="159.00" height="18.20" fill="#ececec"/>
<g filter="url(#blband)">
<rect x="202.50" y="534.00" width="12.00" height="3.20" rx="1.60" fill="rgba(0,0,0,0.687)"/>
<rect x="219.30" y="534.00" width="12.00" height="3.20" rx="1.60" fill="rgba(0,0,0,0.596)"/>
<rect x="234.80" y="534.00" width="12.00" height="3.20" rx="1.60" fill="rgba(0,0,0,0.596)"/>
<rect x="252.00" y="534.00" width="12.00" height="3.20" rx="1.60" fill="rgba(0,0,0,0.914)"/>
<rect x="267.50" y="534.00" width="12.00" height="3.20" rx="1.60" fill="rgba(0,0,0,0.642)"/>
<rect x="283.50" y="534.00" width="12.00" height="3.20" rx="1.60" fill="rgba(0,0,0,0.687)"/>
<rect x="298.30" y="534.00" width="12.00" height="3.20" rx="1.60" fill="rgba(0,0,0,0.642)"/>
<rect x="314.10" y="534.00" width="12.00" height="3.20" rx="1.60" fill="rgba(0,0,0,0.642)"/>
<rect x="329.00" y="534.00" width="12.00" height="3.20" rx="1.60" fill="rgba(0,0,0,0.551)"/>
<rect x="346.00" y="534.00" width="12.00" height="3.20" rx="1.60" fill="rgba(0,0,0,0.733)"/>
</g>
<rect x="202.10" y="527.10" width="157.80" height="17.00" fill="none" stroke="#111" stroke-width="1.2"/>
<text x="196.20" y="469.70" font-size="8.6" text-anchor="end" textLength="32.7" lengthAdjust="spacingAndGlyphs" fill="#111" stroke="#111" stroke-width="0.3">CYP1A1</text>
<text x="196.20" y="492.30" font-size="8.6" text-anchor="end" textLength="30.4" lengthAdjust="spacingAndGlyphs" fill="#111" stroke="#111" stroke-width="0.3">GAP-43</text>
<text x="196.20" y="515.40" font-size="8.6" text-anchor="end" textLength="19" lengthAdjust="spacingAndGlyphs" fill="#111" stroke="#111" stroke-width="0.3">NSE</text>
<text x="196.20" y="538.90" font-size="8.6" text-anchor="end" textLength="27.3" lengthAdjust="spacingAndGlyphs" fill="#111" stroke="#111" stroke-width="0.3">&#946;-Actin</text>
<line x1="385.90" y1="448.00" x2="385.90" y2="543.10" stroke="#444" stroke-width="0.7"/>
<line x1="384.40" y1="543.10" x2="385.90" y2="543.10" stroke="#444" stroke-width="0.6"/>
<text x="382.00" y="544.63" font-size="4.25" text-anchor="end" font-weight="bold" textLength="1.91" lengthAdjust="spacingAndGlyphs" fill="#111">0</text>
<line x1="384.40" y1="524.50" x2="385.90" y2="524.50" stroke="#444" stroke-width="0.6"/>
<text x="382.00" y="526.03" font-size="4.25" text-anchor="end" font-weight="bold" textLength="1.91" lengthAdjust="spacingAndGlyphs" fill="#111">1</text>
<line x1="384.40" y1="505.90" x2="385.90" y2="505.90" stroke="#444" stroke-width="0.6"/>
<text x="382.00" y="507.43" font-size="4.25" text-anchor="end" font-weight="bold" textLength="1.91" lengthAdjust="spacingAndGlyphs" fill="#111">2</text>
<line x1="384.40" y1="487.30" x2="385.90" y2="487.30" stroke="#444" stroke-width="0.6"/>
<text x="382.00" y="488.83" font-size="4.25" text-anchor="end" font-weight="bold" textLength="1.91" lengthAdjust="spacingAndGlyphs" fill="#111">3</text>
<line x1="384.40" y1="468.70" x2="385.90" y2="468.70" stroke="#444" stroke-width="0.6"/>
<text x="382.00" y="470.23" font-size="4.25" text-anchor="end" font-weight="bold" textLength="1.91" lengthAdjust="spacingAndGlyphs" fill="#111">4</text>
<line x1="384.40" y1="450.10" x2="385.90" y2="450.10" stroke="#444" stroke-width="0.6"/>
<text x="382.00" y="451.63" font-size="4.25" text-anchor="end" font-weight="bold" textLength="1.91" lengthAdjust="spacingAndGlyphs" fill="#111">5</text>
<line x1="385.90" y1="543.10" x2="511.30" y2="543.10" stroke="#444" stroke-width="0.7"/>
<line x1="408.65" y1="524.50" x2="408.65" y2="514.27" stroke="#777" stroke-width="0.65"/>
<line x1="407.15" y1="514.27" x2="410.15" y2="514.27" stroke="#777" stroke-width="0.65"/>
<rect x="404.30" y="524.50" width="8.70" height="18.60" fill="#fff" stroke="#555" stroke-width="0.6"/>
<line x1="419.05" y1="475.58" x2="419.05" y2="456.05" stroke="#777" stroke-width="0.65"/>
<line x1="417.55" y1="456.05" x2="420.55" y2="456.05" stroke="#777" stroke-width="0.65"/>
<rect x="414.70" y="475.58" width="8.70" height="67.52" fill="#080808"/>
<text x="419.05" y="457.55" font-size="10" text-anchor="middle" font-weight="bold" fill="#111" letter-spacing="0.3">**</text>
<line x1="445.70" y1="524.50" x2="445.70" y2="515.20" stroke="#777" stroke-width="0.65"/>
<line x1="444.20" y1="515.20" x2="447.20" y2="515.20" stroke="#777" stroke-width="0.65"/>
<rect x="441.50" y="524.50" width="8.40" height="18.60" fill="#fff" stroke="#555" stroke-width="0.6"/>
<line x1="455.80" y1="502.74" x2="455.80" y2="498.65" stroke="#777" stroke-width="0.65"/>
<line x1="454.30" y1="498.65" x2="457.30" y2="498.65" stroke="#777" stroke-width="0.65"/>
<rect x="451.60" y="502.74" width="8.40" height="40.36" fill="#080808"/>
<text x="455.80" y="500.15" font-size="10" text-anchor="middle" font-weight="bold" fill="#111" letter-spacing="0.3">**</text>
<line x1="482.50" y1="524.50" x2="482.50" y2="514.27" stroke="#777" stroke-width="0.65"/>
<line x1="481.00" y1="514.27" x2="484.00" y2="514.27" stroke="#777" stroke-width="0.65"/>
<rect x="478.50" y="524.50" width="8.00" height="18.60" fill="#fff" stroke="#555" stroke-width="0.6"/>
<line x1="492.60" y1="516.50" x2="492.60" y2="508.50" stroke="#777" stroke-width="0.65"/>
<line x1="491.10" y1="508.50" x2="494.10" y2="508.50" stroke="#777" stroke-width="0.65"/>
<rect x="488.30" y="516.50" width="8.60" height="26.60" fill="#080808"/>
<rect x="470.20" y="456.00" width="13.00" height="2.80" fill="#fff" stroke="#444" stroke-width="0.6"/>
<text x="486.30" y="459.50" font-size="6.6" text-anchor="start" textLength="18.8" lengthAdjust="spacingAndGlyphs" fill="#111" stroke="#111" stroke-width="0.3">Control</text>
<rect x="470.20" y="463.00" width="13.00" height="2.70" fill="#000"/>
<text x="486.30" y="466.50" font-size="6.6" text-anchor="start" textLength="10" lengthAdjust="spacingAndGlyphs" fill="#111" stroke="#111" stroke-width="0.3">Kyn</text>
<text x="414.00" y="552.40" font-size="6.8" text-anchor="middle" textLength="21.8" lengthAdjust="spacingAndGlyphs" fill="#111" stroke="#111" stroke-width="0.3">CYP1A1</text>
<text x="450.90" y="552.40" font-size="6.8" text-anchor="middle" textLength="20.8" lengthAdjust="spacingAndGlyphs" fill="#111" stroke="#111" stroke-width="0.3">GAP-43</text>
<text x="487.10" y="552.40" font-size="6.8" text-anchor="middle" textLength="12.5" lengthAdjust="spacingAndGlyphs" fill="#111" stroke="#111" stroke-width="0.3">NSE</text>
<text x="378.00" y="496.50" font-size="6.2" text-anchor="middle" textLength="74.9" lengthAdjust="spacingAndGlyphs" fill="#111" stroke="#111" stroke-width="0.3" transform="rotate(-90 378 496.5)">Normalized protein levels</text>
<text x="2.70" y="572.10" font-size="16" text-anchor="start" font-weight="bold" fill="#000">K</text>
<text x="105.80" y="574.50" font-size="8.4" text-anchor="middle" textLength="31.3" lengthAdjust="spacingAndGlyphs" fill="#111" stroke="#111" stroke-width="0.3">stNB-V1</text>
<line x1="90.00" y1="576.80" x2="121.60" y2="576.80" stroke="#666" stroke-width="0.7"/>
<rect x="7.4" y="580.2" width="98.4" height="74.0" filter="url(#texK)"/>
<rect x="108" y="580.2" width="98.8" height="74.0" filter="url(#texK)"/>
<rect x="7.4" y="655.9" width="98.4" height="75.1" filter="url(#texK)"/>
<rect x="108" y="655.9" width="98.8" height="75.1" filter="url(#texK)"/>
<g stroke="#efd6ef" stroke-linecap="round" fill="none" opacity="0.6" filter="url(#bl04)">
<line x1="51.9" y1="621.6" x2="56.2" y2="622.1" stroke-width="0.8"/>
<line x1="65.2" y1="593.9" x2="70.1" y2="592.2" stroke-width="1.0"/>
<line x1="16.7" y1="602.7" x2="20.9" y2="598.3" stroke-width="0.9"/>
<line x1="11.5" y1="652.9" x2="16.7" y2="653.7" stroke-width="0.9"/>
<line x1="22.9" y1="581.3" x2="25.1" y2="580.6" stroke-width="0.6"/>
<line x1="31.2" y1="582.4" x2="35.1" y2="580.8" stroke-width="1.0"/>
<line x1="58.5" y1="627.6" x2="63.5" y2="625.8" stroke-width="0.8"/>
<line x1="34.8" y1="654.0" x2="40.9" y2="655.2" stroke-width="0.9"/>
<line x1="38.4" y1="597.2" x2="40.4" y2="595.9" stroke-width="1.0"/>
<line x1="46.8" y1="642.8" x2="52.8" y2="639.7" stroke-width="1.0"/>
<line x1="7.5" y1="595.7" x2="11.8" y2="596.2" stroke-width="1.1"/>
<line x1="46.5" y1="585.6" x2="52.3" y2="584.4" stroke-width="0.7"/>
<line x1="16.0" y1="604.8" x2="21.7" y2="605.7" stroke-width="0.6"/>
<line x1="31.6" y1="587.7" x2="35.7" y2="583.2" stroke-width="0.6"/>
<line x1="62.4" y1="613.3" x2="66.8" y2="609.7" stroke-width="0.6"/>
<line x1="70.7" y1="588.8" x2="73.5" y2="587.5" stroke-width="0.7"/>
<line x1="102.9" y1="639.7" x2="108.4" y2="636.2" stroke-width="0.6"/>
<line x1="46.2" y1="643.4" x2="48.7" y2="642.9" stroke-width="1.1"/>
<line x1="28.4" y1="599.3" x2="32.0" y2="599.1" stroke-width="0.7"/>
<line x1="14.6" y1="586.9" x2="17.7" y2="586.0" stroke-width="0.9"/>
<line x1="44.0" y1="613.7" x2="48.3" y2="614.4" stroke-width="0.8"/>
<line x1="92.7" y1="593.7" x2="97.5" y2="589.4" stroke-width="1.0"/>
<line x1="32.0" y1="594.2" x2="38.6" y2="593.7" stroke-width="0.6"/>
<line x1="100.9" y1="645.5" x2="104.9" y2="644.5" stroke-width="0.6"/>
<line x1="11.2" y1="651.4" x2="15.6" y2="648.2" stroke-width="0.7"/>
<line x1="88.5" y1="624.3" x2="90.9" y2="622.8" stroke-width="0.9"/>
<line x1="14.2" y1="597.1" x2="20.2" y2="595.3" stroke-width="0.9"/>
<line x1="35.0" y1="648.1" x2="36.6" y2="646.8" stroke-width="0.7"/>
<line x1="51.3" y1="584.7" x2="54.2" y2="582.2" stroke-width="0.8"/>
<line x1="20.3" y1="607.0" x2="27.2" y2="607.6" stroke-width="0.9"/>
<line x1="75.4" y1="623.4" x2="77.0" y2="622.0" stroke-width="0.5"/>
<line x1="97.0" y1="632.1" x2="99.0" y2="632.4" stroke-width="0.9"/>
<line x1="54.9" y1="634.3" x2="60.8" y2="630.6" stroke-width="0.5"/>
<line x1="61.1" y1="634.7" x2="66.8" y2="635.3" stroke-width="0.9"/>
<line x1="85.5" y1="647.9" x2="90.2" y2="645.2" stroke-width="1.0"/>
<line x1="93.1" y1="611.1" x2="99.4" y2="610.9" stroke-width="0.8"/>
<line x1="68.9" y1="608.5" x2="73.8" y2="607.2" stroke-width="0.5"/>
<line x1="70.3" y1="653.7" x2="75.9" y2="654.1" stroke-width="0.7"/>
<line x1="79.7" y1="623.2" x2="85.4" y2="620.7" stroke-width="0.6"/>
<line x1="81.2" y1="582.4" x2="85.5" y2="581.4" stroke-width="0.6"/>
<line x1="76.1" y1="617.0" x2="82.6" y2="615.5" stroke-width="0.7"/>
<line x1="8.5" y1="602.5" x2="11.5" y2="602.0" stroke-width="0.6"/>
<line x1="96.5" y1="629.0" x2="102.4" y2="626.4" stroke-width="0.7"/>
<line x1="72.9" y1="594.9" x2="78.4" y2="592.4" stroke-width="1.0"/>
<line x1="94.0" y1="608.6" x2="97.5" y2="607.7" stroke-width="0.6"/>
<line x1="56.3" y1="642.1" x2="61.8" y2="642.3" stroke-width="1.1"/>
<line x1="34.6" y1="592.7" x2="37.7" y2="591.4" stroke-width="0.6"/>
<line x1="48.1" y1="626.5" x2="51.5" y2="625.3" stroke-width="1.0"/>
<line x1="104.0" y1="613.7" x2="105.5" y2="612.1" stroke-width="1.0"/>
<line x1="11.5" y1="632.6" x2="14.9" y2="631.7" stroke-width="1.0"/>
<line x1="9.3" y1="590.3" x2="11.2" y2="589.4" stroke-width="1.0"/>
<line x1="30.8" y1="590.6" x2="34.2" y2="586.8" stroke-width="0.8"/>
<line x1="69.4" y1="628.7" x2="76.2" y2="628.6" stroke-width="0.9"/>
<line x1="27.0" y1="615.4" x2="28.6" y2="614.0" stroke-width="0.8"/>
<line x1="77.7" y1="593.5" x2="80.8" y2="591.3" stroke-width="0.9"/>
<line x1="58.6" y1="625.7" x2="62.6" y2="625.4" stroke-width="1.0"/>
<line x1="96.6" y1="586.7" x2="102.1" y2="587.4" stroke-width="0.6"/>
<line x1="52.0" y1="626.5" x2="55.9" y2="626.9" stroke-width="0.8"/>
<line x1="93.9" y1="639.2" x2="98.2" y2="639.8" stroke-width="0.9"/>
<line x1="27.6" y1="633.6" x2="32.8" y2="633.6" stroke-width="0.9"/>
<line x1="28.4" y1="646.8" x2="35.2" y2="648.0" stroke-width="0.8"/>
<line x1="85.2" y1="603.9" x2="91.5" y2="604.5" stroke-width="0.7"/>
<line x1="15.5" y1="612.8" x2="21.1" y2="611.1" stroke-width="0.8"/>
<line x1="10.2" y1="640.1" x2="14.2" y2="635.7" stroke-width="0.6"/>
<line x1="40.4" y1="638.5" x2="42.4" y2="636.6" stroke-width="0.8"/>
<line x1="78.6" y1="642.4" x2="85.3" y2="641.4" stroke-width="0.8"/>
<line x1="100.8" y1="586.6" x2="104.5" y2="583.7" stroke-width="0.7"/>
<line x1="79.1" y1="627.5" x2="85.0" y2="625.5" stroke-width="0.8"/>
<line x1="38.1" y1="608.4" x2="44.6" y2="608.6" stroke-width="0.6"/>
<line x1="91.1" y1="651.9" x2="95.7" y2="650.3" stroke-width="0.6"/>
<line x1="60.1" y1="617.4" x2="62.2" y2="616.9" stroke-width="1.1"/>
<line x1="58.2" y1="609.8" x2="63.0" y2="609.8" stroke-width="0.8"/>
<line x1="75.4" y1="585.1" x2="79.3" y2="583.8" stroke-width="1.1"/>
<line x1="98.3" y1="600.1" x2="100.7" y2="599.1" stroke-width="0.8"/>
<line x1="87.7" y1="646.8" x2="91.0" y2="645.5" stroke-width="0.6"/>
<line x1="68.2" y1="648.7" x2="72.5" y2="644.6" stroke-width="0.5"/>
<line x1="26.5" y1="597.0" x2="30.1" y2="596.5" stroke-width="0.7"/>
<line x1="68.4" y1="588.0" x2="71.0" y2="587.7" stroke-width="0.8"/>
<line x1="32.1" y1="594.8" x2="36.0" y2="593.5" stroke-width="0.7"/>
<line x1="48.1" y1="619.4" x2="50.3" y2="617.4" stroke-width="0.9"/>
<line x1="70.2" y1="619.4" x2="75.3" y2="619.6" stroke-width="1.0"/>
<line x1="30.3" y1="635.0" x2="36.8" y2="635.0" stroke-width="0.7"/>
<line x1="38.4" y1="648.5" x2="43.9" y2="644.2" stroke-width="1.0"/>
<line x1="20.6" y1="597.9" x2="23.9" y2="597.6" stroke-width="0.6"/>
<line x1="89.3" y1="611.4" x2="91.9" y2="611.3" stroke-width="0.7"/>
<line x1="74.8" y1="581.5" x2="79.0" y2="578.1" stroke-width="1.0"/>
<line x1="102.7" y1="588.7" x2="108.1" y2="586.8" stroke-width="0.8"/>
<line x1="74.9" y1="594.2" x2="76.6" y2="592.3" stroke-width="0.5"/>
<line x1="61.7" y1="618.3" x2="64.3" y2="617.6" stroke-width="0.6"/>
<line x1="27.5" y1="642.4" x2="34.0" y2="643.6" stroke-width="0.6"/>
</g>
<g stroke="#efd6ef" stroke-linecap="round" fill="none" opacity="0.6" filter="url(#bl04)">
<line x1="154.9" y1="628.9" x2="157.6" y2="628.4" stroke-width="0.5"/>
<line x1="145.0" y1="600.5" x2="150.5" y2="600.4" stroke-width="0.9"/>
<line x1="163.1" y1="629.1" x2="166.3" y2="626.3" stroke-width="0.6"/>
<line x1="197.5" y1="584.6" x2="199.9" y2="584.6" stroke-width="0.9"/>
<line x1="141.3" y1="610.1" x2="143.4" y2="610.2" stroke-width="0.5"/>
<line x1="198.4" y1="617.9" x2="203.2" y2="612.9" stroke-width="1.1"/>
<line x1="119.1" y1="611.5" x2="121.7" y2="609.1" stroke-width="0.9"/>
<line x1="124.2" y1="631.8" x2="126.1" y2="629.6" stroke-width="1.0"/>
<line x1="147.6" y1="611.2" x2="151.8" y2="610.1" stroke-width="0.7"/>
<line x1="111.0" y1="633.9" x2="117.8" y2="635.1" stroke-width="0.9"/>
<line x1="143.2" y1="607.1" x2="148.5" y2="606.3" stroke-width="0.6"/>
<line x1="131.2" y1="607.1" x2="136.9" y2="605.1" stroke-width="0.8"/>
<line x1="110.8" y1="641.1" x2="115.0" y2="639.2" stroke-width="0.6"/>
<line x1="150.2" y1="608.9" x2="152.7" y2="608.8" stroke-width="0.8"/>
<line x1="125.6" y1="631.7" x2="127.8" y2="629.1" stroke-width="0.7"/>
<line x1="170.9" y1="584.1" x2="173.7" y2="582.9" stroke-width="0.7"/>
<line x1="155.1" y1="651.1" x2="161.4" y2="648.7" stroke-width="0.6"/>
<line x1="199.3" y1="607.2" x2="203.7" y2="603.5" stroke-width="1.0"/>
<line x1="108.7" y1="600.1" x2="112.4" y2="599.9" stroke-width="0.6"/>
<line x1="108.9" y1="583.2" x2="115.6" y2="581.7" stroke-width="1.1"/>
<line x1="157.8" y1="582.0" x2="162.8" y2="578.9" stroke-width="1.0"/>
<line x1="171.2" y1="597.2" x2="175.3" y2="595.8" stroke-width="0.9"/>
<line x1="134.0" y1="650.3" x2="136.8" y2="650.5" stroke-width="0.7"/>
<line x1="194.3" y1="600.8" x2="198.8" y2="601.4" stroke-width="0.9"/>
<line x1="177.6" y1="596.0" x2="180.4" y2="594.2" stroke-width="0.9"/>
<line x1="176.6" y1="589.9" x2="180.7" y2="590.3" stroke-width="0.6"/>
<line x1="151.0" y1="652.7" x2="155.9" y2="651.2" stroke-width="1.1"/>
<line x1="203.0" y1="636.5" x2="207.5" y2="634.4" stroke-width="1.0"/>
<line x1="186.0" y1="623.1" x2="189.3" y2="621.2" stroke-width="0.9"/>
<line x1="163.7" y1="581.5" x2="170.1" y2="580.7" stroke-width="1.0"/>
<line x1="196.7" y1="647.6" x2="202.3" y2="645.8" stroke-width="0.7"/>
<line x1="117.7" y1="606.3" x2="123.4" y2="602.8" stroke-width="0.9"/>
<line x1="161.5" y1="626.2" x2="164.9" y2="623.0" stroke-width="0.9"/>
<line x1="146.9" y1="598.4" x2="150.2" y2="596.8" stroke-width="0.9"/>
<line x1="122.0" y1="586.9" x2="126.7" y2="584.0" stroke-width="1.0"/>
<line x1="173.1" y1="649.4" x2="175.0" y2="648.3" stroke-width="0.8"/>
<line x1="151.8" y1="593.5" x2="155.5" y2="592.9" stroke-width="0.6"/>
<line x1="140.4" y1="650.0" x2="142.7" y2="647.1" stroke-width="0.7"/>
<line x1="127.9" y1="612.2" x2="133.1" y2="608.2" stroke-width="0.8"/>
<line x1="177.0" y1="592.2" x2="181.6" y2="590.3" stroke-width="1.0"/>
<line x1="132.7" y1="614.2" x2="138.8" y2="614.5" stroke-width="0.6"/>
<line x1="161.2" y1="636.5" x2="166.0" y2="634.1" stroke-width="0.9"/>
<line x1="204.1" y1="621.2" x2="207.8" y2="620.6" stroke-width="0.9"/>
<line x1="139.8" y1="617.2" x2="142.9" y2="615.5" stroke-width="0.6"/>
<line x1="130.3" y1="620.5" x2="132.1" y2="619.2" stroke-width="1.0"/>
<line x1="136.2" y1="649.5" x2="140.1" y2="648.5" stroke-width="1.0"/>
<line x1="196.6" y1="604.0" x2="200.4" y2="600.4" stroke-width="1.0"/>
<line x1="168.1" y1="638.2" x2="172.7" y2="636.0" stroke-width="0.7"/>
<line x1="148.2" y1="608.3" x2="151.8" y2="606.5" stroke-width="1.0"/>
<line x1="124.8" y1="595.4" x2="130.4" y2="591.4" stroke-width="0.8"/>
<line x1="113.2" y1="642.0" x2="119.3" y2="642.4" stroke-width="0.7"/>
<line x1="180.6" y1="602.8" x2="185.2" y2="598.5" stroke-width="1.0"/>
<line x1="128.9" y1="645.3" x2="131.1" y2="642.6" stroke-width="0.5"/>
<line x1="124.9" y1="592.3" x2="128.4" y2="591.9" stroke-width="0.6"/>
<line x1="126.2" y1="603.3" x2="131.2" y2="603.5" stroke-width="0.6"/>
<line x1="175.7" y1="619.9" x2="179.9" y2="618.0" stroke-width="0.9"/>
<line x1="187.1" y1="617.6" x2="191.4" y2="616.7" stroke-width="0.9"/>
<line x1="146.4" y1="610.9" x2="151.7" y2="609.1" stroke-width="0.7"/>
<line x1="199.4" y1="616.6" x2="204.8" y2="616.8" stroke-width="1.1"/>
<line x1="175.4" y1="611.8" x2="180.0" y2="609.6" stroke-width="1.0"/>
<line x1="190.9" y1="589.8" x2="192.6" y2="587.9" stroke-width="0.6"/>
<line x1="113.6" y1="580.8" x2="115.7" y2="579.3" stroke-width="0.9"/>
<line x1="168.8" y1="651.7" x2="174.5" y2="652.6" stroke-width="1.1"/>
<line x1="110.8" y1="597.1" x2="115.1" y2="597.6" stroke-width="0.6"/>
<line x1="182.8" y1="611.5" x2="186.2" y2="610.5" stroke-width="0.6"/>
<line x1="116.6" y1="625.1" x2="123.5" y2="626.1" stroke-width="1.0"/>
<line x1="200.2" y1="607.0" x2="205.8" y2="603.4" stroke-width="0.9"/>
<line x1="174.1" y1="581.1" x2="177.6" y2="578.5" stroke-width="0.9"/>
<line x1="189.6" y1="636.2" x2="193.0" y2="634.3" stroke-width="1.0"/>
<line x1="205.8" y1="616.1" x2="209.7" y2="612.8" stroke-width="0.8"/>
<line x1="143.7" y1="597.3" x2="148.2" y2="594.9" stroke-width="0.6"/>
<line x1="161.4" y1="650.7" x2="164.7" y2="650.4" stroke-width="0.8"/>
<line x1="118.1" y1="634.7" x2="120.9" y2="634.2" stroke-width="0.8"/>
<line x1="166.9" y1="622.9" x2="170.0" y2="621.3" stroke-width="0.7"/>
<line x1="206.6" y1="604.6" x2="210.6" y2="603.2" stroke-width="0.6"/>
<line x1="147.5" y1="595.4" x2="150.8" y2="593.4" stroke-width="0.7"/>
<line x1="200.7" y1="602.2" x2="205.2" y2="599.5" stroke-width="0.7"/>
<line x1="159.0" y1="628.1" x2="162.6" y2="624.2" stroke-width="0.6"/>
<line x1="132.7" y1="640.1" x2="138.0" y2="641.1" stroke-width="0.6"/>
<line x1="151.3" y1="601.1" x2="154.5" y2="601.2" stroke-width="0.6"/>
<line x1="171.0" y1="627.4" x2="175.3" y2="626.3" stroke-width="1.1"/>
<line x1="153.3" y1="649.5" x2="157.2" y2="647.6" stroke-width="0.7"/>
<line x1="178.7" y1="635.8" x2="182.4" y2="633.1" stroke-width="0.9"/>
<line x1="157.6" y1="629.2" x2="163.0" y2="628.0" stroke-width="0.7"/>
<line x1="138.3" y1="582.0" x2="144.2" y2="582.5" stroke-width="0.7"/>
<line x1="203.6" y1="647.0" x2="208.2" y2="642.8" stroke-width="0.8"/>
<line x1="139.0" y1="599.4" x2="141.1" y2="598.4" stroke-width="0.5"/>
<line x1="119.5" y1="602.9" x2="121.5" y2="601.2" stroke-width="1.0"/>
<line x1="145.5" y1="616.5" x2="152.0" y2="614.9" stroke-width="0.6"/>
<line x1="130.5" y1="643.9" x2="137.2" y2="644.5" stroke-width="0.8"/>
</g>
<g stroke="#efd6ef" stroke-linecap="round" fill="none" opacity="0.6" filter="url(#bl04)">
<line x1="32.9" y1="707.4" x2="39.1" y2="706.4" stroke-width="0.6"/>
<line x1="30.1" y1="667.0" x2="34.6" y2="663.5" stroke-width="0.6"/>
<line x1="59.7" y1="672.0" x2="63.2" y2="669.7" stroke-width="1.0"/>
<line x1="67.3" y1="657.0" x2="69.5" y2="655.4" stroke-width="1.0"/>
<line x1="87.1" y1="716.4" x2="92.8" y2="716.5" stroke-width="1.1"/>
<line x1="85.5" y1="675.2" x2="89.9" y2="675.3" stroke-width="1.0"/>
<line x1="62.9" y1="688.2" x2="66.6" y2="686.2" stroke-width="0.7"/>
<line x1="18.9" y1="717.5" x2="25.9" y2="717.3" stroke-width="0.9"/>
<line x1="61.9" y1="712.1" x2="65.9" y2="708.4" stroke-width="0.8"/>
<line x1="24.8" y1="671.1" x2="27.9" y2="670.1" stroke-width="0.8"/>
<line x1="67.0" y1="685.6" x2="70.2" y2="682.6" stroke-width="0.6"/>
<line x1="30.6" y1="670.5" x2="32.7" y2="669.4" stroke-width="0.9"/>
<line x1="101.2" y1="685.2" x2="107.9" y2="684.4" stroke-width="0.5"/>
<line x1="21.3" y1="716.4" x2="26.5" y2="716.6" stroke-width="0.6"/>
<line x1="48.1" y1="721.1" x2="54.1" y2="721.6" stroke-width="0.6"/>
<line x1="91.4" y1="684.0" x2="94.1" y2="683.7" stroke-width="1.1"/>
<line x1="66.8" y1="710.2" x2="70.8" y2="707.0" stroke-width="0.8"/>
<line x1="65.6" y1="682.9" x2="69.3" y2="682.5" stroke-width="0.7"/>
<line x1="23.6" y1="707.3" x2="25.8" y2="705.1" stroke-width="0.5"/>
<line x1="70.7" y1="697.7" x2="72.8" y2="697.0" stroke-width="0.8"/>
<line x1="41.2" y1="662.9" x2="45.5" y2="657.4" stroke-width="0.6"/>
<line x1="37.1" y1="676.1" x2="39.4" y2="675.5" stroke-width="0.8"/>
<line x1="43.5" y1="718.6" x2="45.8" y2="715.7" stroke-width="0.8"/>
<line x1="102.8" y1="694.7" x2="107.8" y2="692.7" stroke-width="0.7"/>
<line x1="10.5" y1="693.6" x2="16.2" y2="694.1" stroke-width="0.7"/>
<line x1="74.7" y1="719.7" x2="78.7" y2="716.8" stroke-width="0.7"/>
<line x1="31.4" y1="677.5" x2="34.4" y2="675.1" stroke-width="0.5"/>
<line x1="46.5" y1="662.4" x2="51.5" y2="662.1" stroke-width="0.5"/>
<line x1="83.5" y1="670.2" x2="88.0" y2="668.5" stroke-width="0.7"/>
<line x1="35.9" y1="688.6" x2="40.5" y2="684.3" stroke-width="0.6"/>
<line x1="88.4" y1="672.3" x2="91.8" y2="670.2" stroke-width="0.5"/>
<line x1="20.0" y1="683.0" x2="25.9" y2="680.4" stroke-width="1.1"/>
<line x1="11.7" y1="696.1" x2="16.1" y2="691.9" stroke-width="0.7"/>
<line x1="95.3" y1="696.9" x2="96.7" y2="695.5" stroke-width="0.6"/>
<line x1="92.8" y1="667.1" x2="96.4" y2="665.7" stroke-width="0.7"/>
<line x1="86.3" y1="672.0" x2="91.6" y2="671.4" stroke-width="1.1"/>
<line x1="58.6" y1="725.0" x2="63.0" y2="723.1" stroke-width="0.9"/>
<line x1="90.0" y1="723.3" x2="91.9" y2="721.4" stroke-width="0.8"/>
<line x1="87.3" y1="696.0" x2="93.1" y2="692.3" stroke-width="0.7"/>
<line x1="15.9" y1="659.8" x2="19.6" y2="655.5" stroke-width="0.6"/>
<line x1="77.9" y1="721.0" x2="83.8" y2="722.2" stroke-width="0.8"/>
<line x1="68.6" y1="718.5" x2="72.0" y2="718.1" stroke-width="1.0"/>
<line x1="18.2" y1="679.1" x2="22.4" y2="679.9" stroke-width="0.7"/>
<line x1="84.6" y1="689.7" x2="86.0" y2="688.0" stroke-width="0.7"/>
<line x1="40.1" y1="726.3" x2="45.1" y2="722.6" stroke-width="1.0"/>
<line x1="48.3" y1="730.5" x2="52.8" y2="730.2" stroke-width="0.7"/>
<line x1="52.8" y1="723.6" x2="55.6" y2="722.7" stroke-width="0.7"/>
<line x1="54.2" y1="670.2" x2="56.3" y2="669.6" stroke-width="1.0"/>
<line x1="25.0" y1="663.6" x2="28.4" y2="662.7" stroke-width="1.0"/>
<line x1="56.3" y1="695.1" x2="59.4" y2="695.1" stroke-width="0.9"/>
<line x1="71.3" y1="688.1" x2="73.4" y2="688.4" stroke-width="1.0"/>
<line x1="21.5" y1="719.0" x2="23.2" y2="717.5" stroke-width="0.8"/>
<line x1="98.5" y1="675.2" x2="103.2" y2="673.4" stroke-width="0.6"/>
<line x1="59.6" y1="656.6" x2="64.9" y2="654.3" stroke-width="0.7"/>
<line x1="29.1" y1="659.7" x2="33.2" y2="659.2" stroke-width="1.0"/>
<line x1="80.3" y1="663.4" x2="86.9" y2="664.1" stroke-width="1.0"/>
<line x1="89.2" y1="707.1" x2="94.5" y2="706.5" stroke-width="0.9"/>
<line x1="32.7" y1="665.9" x2="37.7" y2="665.4" stroke-width="0.5"/>
<line x1="70.5" y1="701.7" x2="76.1" y2="699.8" stroke-width="1.0"/>
<line x1="44.9" y1="717.1" x2="49.5" y2="715.4" stroke-width="0.7"/>
<line x1="99.2" y1="689.3" x2="102.9" y2="689.8" stroke-width="0.9"/>
<line x1="97.2" y1="707.2" x2="99.3" y2="706.1" stroke-width="0.8"/>
<line x1="48.2" y1="717.0" x2="55.1" y2="716.8" stroke-width="0.8"/>
<line x1="47.8" y1="698.3" x2="50.2" y2="698.1" stroke-width="0.6"/>
<line x1="21.7" y1="680.3" x2="27.5" y2="676.6" stroke-width="0.6"/>
<line x1="99.3" y1="678.0" x2="104.6" y2="673.7" stroke-width="0.6"/>
<line x1="18.5" y1="665.6" x2="21.2" y2="662.7" stroke-width="0.6"/>
<line x1="23.1" y1="657.1" x2="25.3" y2="656.8" stroke-width="0.6"/>
<line x1="63.0" y1="722.3" x2="68.5" y2="721.3" stroke-width="0.9"/>
<line x1="85.8" y1="720.0" x2="87.5" y2="718.5" stroke-width="0.9"/>
<line x1="58.5" y1="695.0" x2="61.3" y2="694.9" stroke-width="0.9"/>
<line x1="49.4" y1="687.6" x2="52.1" y2="685.6" stroke-width="0.8"/>
<line x1="61.9" y1="724.0" x2="66.5" y2="720.9" stroke-width="0.6"/>
<line x1="71.6" y1="668.0" x2="78.4" y2="668.3" stroke-width="0.7"/>
<line x1="86.9" y1="672.4" x2="89.1" y2="671.0" stroke-width="0.8"/>
<line x1="17.7" y1="708.8" x2="21.6" y2="707.7" stroke-width="0.9"/>
<line x1="30.4" y1="680.8" x2="32.1" y2="679.8" stroke-width="1.0"/>
<line x1="16.1" y1="663.5" x2="22.2" y2="663.4" stroke-width="0.8"/>
<line x1="48.9" y1="666.4" x2="51.7" y2="662.8" stroke-width="0.6"/>
<line x1="22.3" y1="723.9" x2="24.7" y2="721.0" stroke-width="1.0"/>
<line x1="80.9" y1="663.9" x2="85.7" y2="663.5" stroke-width="0.9"/>
<line x1="100.2" y1="715.9" x2="105.9" y2="714.5" stroke-width="0.8"/>
<line x1="61.7" y1="717.3" x2="65.5" y2="716.4" stroke-width="0.5"/>
<line x1="85.1" y1="681.4" x2="88.2" y2="680.0" stroke-width="0.8"/>
<line x1="46.9" y1="718.5" x2="51.5" y2="717.4" stroke-width="1.0"/>
<line x1="50.7" y1="696.2" x2="56.3" y2="695.8" stroke-width="0.9"/>
<line x1="95.1" y1="697.8" x2="97.9" y2="697.0" stroke-width="0.6"/>
<line x1="50.2" y1="693.4" x2="52.4" y2="693.6" stroke-width="0.7"/>
<line x1="80.2" y1="690.4" x2="83.0" y2="690.5" stroke-width="1.0"/>
<line x1="49.8" y1="698.5" x2="52.5" y2="695.5" stroke-width="1.0"/>
</g>
<g stroke="#efd6ef" stroke-linecap="round" fill="none" opacity="0.6" filter="url(#bl04)">
<line x1="118.6" y1="708.7" x2="125.1" y2="707.4" stroke-width="0.7"/>
<line x1="133.3" y1="711.0" x2="136.7" y2="710.4" stroke-width="0.9"/>
<line x1="147.2" y1="714.3" x2="149.4" y2="712.1" stroke-width="1.0"/>
<line x1="143.4" y1="675.5" x2="148.5" y2="675.4" stroke-width="0.6"/>
<line x1="162.5" y1="705.8" x2="166.4" y2="702.3" stroke-width="0.6"/>
<line x1="141.3" y1="662.1" x2="146.7" y2="657.8" stroke-width="0.7"/>
<line x1="205.9" y1="688.8" x2="212.0" y2="687.4" stroke-width="0.9"/>
<line x1="119.0" y1="700.1" x2="121.9" y2="699.6" stroke-width="0.6"/>
<line x1="194.4" y1="694.5" x2="197.7" y2="691.8" stroke-width="0.6"/>
<line x1="186.9" y1="693.5" x2="191.2" y2="689.2" stroke-width="0.6"/>
<line x1="135.7" y1="658.0" x2="138.3" y2="657.8" stroke-width="0.8"/>
<line x1="117.2" y1="692.0" x2="121.8" y2="691.3" stroke-width="0.8"/>
<line x1="155.9" y1="688.7" x2="158.3" y2="688.1" stroke-width="0.8"/>
<line x1="131.3" y1="720.9" x2="133.7" y2="721.2" stroke-width="0.6"/>
<line x1="177.5" y1="698.8" x2="181.0" y2="694.6" stroke-width="1.1"/>
<line x1="149.8" y1="682.0" x2="156.2" y2="680.2" stroke-width="0.7"/>
<line x1="137.9" y1="670.1" x2="142.1" y2="669.2" stroke-width="0.7"/>
<line x1="146.3" y1="658.5" x2="152.2" y2="654.9" stroke-width="0.9"/>
<line x1="135.9" y1="726.2" x2="138.8" y2="724.6" stroke-width="0.5"/>
<line x1="122.4" y1="670.8" x2="127.5" y2="667.0" stroke-width="0.7"/>
<line x1="132.6" y1="701.3" x2="136.0" y2="701.6" stroke-width="1.0"/>
<line x1="144.4" y1="698.0" x2="150.9" y2="696.4" stroke-width="1.0"/>
<line x1="158.2" y1="719.1" x2="161.7" y2="717.2" stroke-width="1.1"/>
<line x1="161.9" y1="714.0" x2="167.5" y2="710.5" stroke-width="0.9"/>
<line x1="132.4" y1="726.0" x2="135.9" y2="724.6" stroke-width="0.7"/>
<line x1="118.2" y1="671.0" x2="120.9" y2="670.6" stroke-width="0.7"/>
<line x1="152.2" y1="696.8" x2="157.5" y2="694.1" stroke-width="0.7"/>
<line x1="144.4" y1="687.8" x2="146.7" y2="685.7" stroke-width="0.6"/>
<line x1="179.7" y1="666.9" x2="182.7" y2="666.4" stroke-width="0.9"/>
<line x1="172.9" y1="682.4" x2="178.1" y2="683.1" stroke-width="0.8"/>
<line x1="112.6" y1="686.4" x2="116.1" y2="683.9" stroke-width="1.1"/>
<line x1="193.4" y1="660.5" x2="200.0" y2="659.5" stroke-width="0.8"/>
<line x1="117.6" y1="721.0" x2="123.8" y2="718.1" stroke-width="1.0"/>
<line x1="189.9" y1="725.8" x2="193.9" y2="721.5" stroke-width="0.7"/>
<line x1="121.4" y1="684.4" x2="123.3" y2="683.9" stroke-width="0.8"/>
<line x1="185.5" y1="693.1" x2="188.8" y2="692.0" stroke-width="1.1"/>
<line x1="132.5" y1="707.1" x2="134.5" y2="706.7" stroke-width="1.1"/>
<line x1="131.3" y1="730.2" x2="137.7" y2="730.9" stroke-width="1.0"/>
<line x1="147.3" y1="689.4" x2="153.1" y2="686.0" stroke-width="0.5"/>
<line x1="121.5" y1="727.7" x2="127.1" y2="727.7" stroke-width="1.1"/>
<line x1="159.7" y1="718.6" x2="165.7" y2="716.0" stroke-width="0.5"/>
<line x1="151.3" y1="699.2" x2="155.4" y2="699.1" stroke-width="0.9"/>
<line x1="203.6" y1="687.4" x2="205.3" y2="686.0" stroke-width="1.0"/>
<line x1="155.0" y1="685.0" x2="157.5" y2="684.2" stroke-width="0.6"/>
<line x1="131.3" y1="675.1" x2="134.5" y2="675.2" stroke-width="0.6"/>
<line x1="193.6" y1="697.8" x2="197.1" y2="693.7" stroke-width="0.9"/>
<line x1="172.2" y1="714.1" x2="175.0" y2="712.8" stroke-width="0.9"/>
<line x1="169.8" y1="708.8" x2="172.7" y2="706.3" stroke-width="0.9"/>
<line x1="146.0" y1="701.1" x2="151.4" y2="699.0" stroke-width="0.7"/>
<line x1="157.2" y1="718.1" x2="159.6" y2="716.6" stroke-width="0.9"/>
<line x1="121.2" y1="720.3" x2="126.5" y2="716.6" stroke-width="0.8"/>
<line x1="123.2" y1="695.0" x2="127.6" y2="694.4" stroke-width="0.9"/>
<line x1="144.5" y1="727.9" x2="149.0" y2="724.0" stroke-width="0.5"/>
<line x1="158.1" y1="660.9" x2="161.7" y2="657.5" stroke-width="1.0"/>
<line x1="138.6" y1="686.1" x2="143.2" y2="684.3" stroke-width="0.7"/>
<line x1="142.7" y1="720.0" x2="146.3" y2="718.9" stroke-width="1.0"/>
<line x1="206.7" y1="688.4" x2="208.9" y2="685.6" stroke-width="1.0"/>
<line x1="125.0" y1="670.8" x2="127.5" y2="670.8" stroke-width="1.0"/>
<line x1="130.4" y1="685.0" x2="132.8" y2="684.4" stroke-width="1.0"/>
<line x1="151.3" y1="713.7" x2="153.7" y2="713.6" stroke-width="1.0"/>
<line x1="189.1" y1="674.1" x2="192.0" y2="673.3" stroke-width="0.8"/>
<line x1="182.3" y1="684.2" x2="184.8" y2="683.4" stroke-width="1.0"/>
<line x1="169.9" y1="718.3" x2="173.8" y2="714.1" stroke-width="0.6"/>
<line x1="163.0" y1="673.2" x2="165.5" y2="673.5" stroke-width="0.8"/>
<line x1="154.5" y1="684.9" x2="158.1" y2="681.0" stroke-width="1.1"/>
<line x1="143.7" y1="723.4" x2="146.6" y2="721.7" stroke-width="0.8"/>
<line x1="204.1" y1="714.4" x2="206.3" y2="714.0" stroke-width="0.8"/>
<line x1="109.5" y1="660.6" x2="112.3" y2="659.1" stroke-width="0.6"/>
<line x1="158.6" y1="714.7" x2="165.1" y2="715.4" stroke-width="0.8"/>
<line x1="125.6" y1="728.3" x2="129.0" y2="726.7" stroke-width="1.0"/>
<line x1="163.1" y1="727.4" x2="169.8" y2="726.6" stroke-width="0.6"/>
<line x1="201.2" y1="696.6" x2="204.7" y2="696.1" stroke-width="0.6"/>
<line x1="137.3" y1="668.7" x2="139.9" y2="669.1" stroke-width="0.6"/>
<line x1="170.6" y1="671.3" x2="173.2" y2="669.3" stroke-width="0.6"/>
<line x1="109.0" y1="711.5" x2="112.5" y2="710.9" stroke-width="1.0"/>
<line x1="163.3" y1="672.4" x2="166.4" y2="672.9" stroke-width="1.0"/>
<line x1="188.7" y1="656.1" x2="192.8" y2="656.2" stroke-width="0.8"/>
<line x1="201.5" y1="689.8" x2="203.3" y2="688.5" stroke-width="1.0"/>
<line x1="152.9" y1="709.3" x2="159.7" y2="708.0" stroke-width="1.1"/>
<line x1="200.5" y1="693.8" x2="204.0" y2="694.1" stroke-width="0.6"/>
<line x1="171.2" y1="658.0" x2="174.7" y2="658.7" stroke-width="0.8"/>
<line x1="136.7" y1="680.2" x2="142.5" y2="678.3" stroke-width="0.5"/>
<line x1="141.9" y1="674.4" x2="146.0" y2="675.1" stroke-width="0.8"/>
<line x1="200.6" y1="685.0" x2="204.2" y2="683.1" stroke-width="0.6"/>
<line x1="177.5" y1="677.4" x2="182.1" y2="675.8" stroke-width="1.0"/>
<line x1="181.1" y1="692.0" x2="187.8" y2="693.0" stroke-width="1.1"/>
<line x1="178.6" y1="690.0" x2="184.1" y2="687.0" stroke-width="0.8"/>
<line x1="181.9" y1="685.0" x2="183.7" y2="684.0" stroke-width="0.9"/>
<line x1="136.6" y1="693.0" x2="142.8" y2="692.4" stroke-width="1.1"/>
<line x1="173.6" y1="673.4" x2="175.8" y2="673.7" stroke-width="0.7"/>
<line x1="199.4" y1="719.4" x2="205.5" y2="717.8" stroke-width="0.6"/>
<line x1="111.9" y1="678.2" x2="114.1" y2="678.5" stroke-width="0.7"/>
<line x1="158.2" y1="671.4" x2="160.7" y2="671.5" stroke-width="0.6"/>
<line x1="206.5" y1="656.8" x2="209.8" y2="654.4" stroke-width="1.0"/>
<line x1="141.2" y1="698.7" x2="146.3" y2="698.7" stroke-width="1.0"/>
<line x1="109.6" y1="696.6" x2="113.6" y2="691.7" stroke-width="0.5"/>
<line x1="117.3" y1="688.1" x2="119.4" y2="687.7" stroke-width="0.9"/>
<line x1="118.2" y1="680.2" x2="121.9" y2="675.9" stroke-width="1.0"/>
<line x1="184.1" y1="680.1" x2="189.6" y2="676.1" stroke-width="1.0"/>
<line x1="203.7" y1="687.1" x2="209.1" y2="687.4" stroke-width="1.0"/>
<line x1="158.6" y1="714.8" x2="161.8" y2="713.6" stroke-width="0.8"/>
<line x1="112.1" y1="706.5" x2="114.6" y2="705.0" stroke-width="1.0"/>
<line x1="160.0" y1="679.6" x2="166.6" y2="680.4" stroke-width="0.8"/>
<line x1="162.0" y1="655.9" x2="168.1" y2="652.5" stroke-width="0.8"/>
<line x1="206.2" y1="658.1" x2="207.7" y2="656.3" stroke-width="0.5"/>
<line x1="182.6" y1="730.1" x2="187.6" y2="729.8" stroke-width="0.7"/>
<line x1="145.7" y1="665.7" x2="148.1" y2="664.5" stroke-width="1.0"/>
<line x1="161.2" y1="684.3" x2="164.7" y2="684.4" stroke-width="1.0"/>
<line x1="178.9" y1="703.1" x2="183.9" y2="701.8" stroke-width="1.0"/>
<line x1="206.4" y1="697.9" x2="209.5" y2="698.4" stroke-width="1.1"/>
</g>
<rect x="7.00" y="654.50" width="200.50" height="1.60" fill="#fff"/>
<rect x="105.90" y="579.00" width="1.80" height="152.00" fill="#fff"/>
<text x="10.20" y="589.00" font-size="8.4" text-anchor="start" font-weight="bold" textLength="30" lengthAdjust="spacingAndGlyphs" fill="#111">Control</text>
<line x1="87.80" y1="649.30" x2="101.50" y2="649.30" stroke="#000" stroke-width="1.6"/>
<text x="110.60" y="588.60" font-size="8.4" text-anchor="start" font-weight="bold" textLength="11" lengthAdjust="spacingAndGlyphs" fill="#111">RA</text>
<ellipse cx="128.60" cy="644.00" rx="3" ry="2.2" fill="#f6eef8" opacity="0.9" filter="url(#bl04)"/>
<ellipse cx="149.70" cy="628.20" rx="1.6" ry="1.4" fill="#f6eef8" opacity="0.8" filter="url(#bl04)"/>
<circle cx="161.50" cy="604.00" r="1.5" fill="none" stroke="#f4eaf6" stroke-width="0.9" filter="url(#bl04)"/>
<circle cx="156.00" cy="625.00" r="1.5" fill="none" stroke="#f4eaf6" stroke-width="0.9" filter="url(#bl04)"/>
<line x1="161.30" y1="592.20" x2="158.56" y2="598.41" stroke="#000" stroke-width="1.3"/>
<polygon points="157.10,601.70 156.82,597.64 160.29,599.18" fill="#000"/>
<line x1="157.00" y1="615.50" x2="154.10" y2="621.37" stroke="#000" stroke-width="1.3"/>
<polygon points="152.50,624.60 152.39,620.53 155.80,622.22" fill="#000"/>
<line x1="134.90" y1="619.70" x2="132.16" y2="625.91" stroke="#000" stroke-width="1.3"/>
<polygon points="130.70,629.20 130.42,625.14 133.89,626.68" fill="#000"/>
<line x1="121.20" y1="643.00" x2="118.54" y2="650.22" stroke="#000" stroke-width="1.3"/>
<polygon points="117.30,653.60 116.76,649.57 120.33,650.88" fill="#000"/>
<line x1="187.20" y1="649.30" x2="201.50" y2="649.30" stroke="#000" stroke-width="1.6"/>
<text x="10.20" y="665.00" font-size="8.4" text-anchor="start" font-weight="bold" textLength="16.2" lengthAdjust="spacingAndGlyphs" fill="#111">Kyn</text>
<circle cx="21.20" cy="685.50" r="1.8" fill="none" stroke="#f4eaf6" stroke-width="1.0" filter="url(#bl04)"/>
<circle cx="48.20" cy="678.00" r="1.8" fill="none" stroke="#f4eaf6" stroke-width="1.0" filter="url(#bl04)"/>
<circle cx="49.70" cy="686.10" r="1.8" fill="none" stroke="#f4eaf6" stroke-width="1.0" filter="url(#bl04)"/>
<circle cx="73.00" cy="684.40" r="1.8" fill="none" stroke="#f4eaf6" stroke-width="1.0" filter="url(#bl04)"/>
<circle cx="86.70" cy="679.10" r="1.8" fill="none" stroke="#f4eaf6" stroke-width="1.0" filter="url(#bl04)"/>
<circle cx="97.30" cy="685.50" r="1.8" fill="none" stroke="#f4eaf6" stroke-width="1.0" filter="url(#bl04)"/>
<circle cx="80.40" cy="721.40" r="1.8" fill="none" stroke="#f4eaf6" stroke-width="1.0" filter="url(#bl04)"/>
<circle cx="63.50" cy="678.00" r="1.8" fill="none" stroke="#f4eaf6" stroke-width="1.0" filter="url(#bl04)"/>
<circle cx="58.00" cy="690.00" r="1.8" fill="none" stroke="#f4eaf6" stroke-width="1.0" filter="url(#bl04)"/>
<circle cx="40.00" cy="675.00" r="1.8" fill="none" stroke="#f4eaf6" stroke-width="1.0" filter="url(#bl04)"/>
<ellipse cx="33.80" cy="702.40" rx="2.2" ry="2.8" fill="#f6eef8" opacity="0.9" filter="url(#bl04)"/>
<line x1="15.90" y1="698.20" x2="19.39" y2="692.21" stroke="#000" stroke-width="1.3"/>
<polygon points="21.20,689.10 21.03,693.17 17.75,691.25" fill="#000"/>
<line x1="40.20" y1="688.70" x2="43.15" y2="683.00" stroke="#000" stroke-width="1.3"/>
<polygon points="44.80,679.80 44.83,683.87 41.46,682.13" fill="#000"/>
<line x1="44.40" y1="699.70" x2="47.26" y2="694.89" stroke="#000" stroke-width="1.3"/>
<polygon points="49.10,691.80 48.89,695.87 45.63,693.92" fill="#000"/>
<line x1="67.30" y1="697.10" x2="69.42" y2="692.38" stroke="#000" stroke-width="1.3"/>
<polygon points="70.90,689.10 71.16,693.16 67.69,691.60" fill="#000"/>
<line x1="87.80" y1="725.70" x2="101.50" y2="725.70" stroke="#000" stroke-width="1.6"/>
<text x="110.60" y="664.80" font-size="8.4" text-anchor="start" font-weight="bold" textLength="33.8" lengthAdjust="spacingAndGlyphs" fill="#111">RA+Kyn</text>
<line x1="167.30" y1="689.10" x2="169.48" y2="684.01" stroke="#000" stroke-width="1.3"/>
<polygon points="170.90,680.70 171.23,684.76 167.74,683.26" fill="#000"/>
<line x1="113.80" y1="702.90" x2="115.67" y2="697.78" stroke="#000" stroke-width="1.3"/>
<polygon points="116.90,694.40 117.45,698.43 113.88,697.13" fill="#000"/>
<line x1="193.10" y1="702.90" x2="195.37" y2="698.06" stroke="#000" stroke-width="1.3"/>
<polygon points="196.90,694.80 197.09,698.87 193.65,697.25" fill="#000"/>
<line x1="131.70" y1="727.20" x2="133.62" y2="722.16" stroke="#000" stroke-width="1.3"/>
<polygon points="134.90,718.80 135.39,722.84 131.84,721.49" fill="#000"/>
<line x1="144.00" y1="725.10" x2="146.28" y2="719.35" stroke="#000" stroke-width="1.3"/>
<polygon points="147.60,716.00 148.04,720.05 144.51,718.65" fill="#000"/>
<line x1="187.20" y1="724.50" x2="202.00" y2="724.50" stroke="#000" stroke-width="1.6"/>
<line x1="227.20" y1="606.00" x2="227.20" y2="701.70" stroke="#444" stroke-width="0.7"/>
<line x1="225.70" y1="701.70" x2="227.20" y2="701.70" stroke="#444" stroke-width="0.6"/>
<text x="223.30" y="703.32" font-size="4.5" text-anchor="end" font-weight="bold" textLength="1.91" lengthAdjust="spacingAndGlyphs" fill="#111">0</text>
<line x1="225.70" y1="686.35" x2="227.20" y2="686.35" stroke="#444" stroke-width="0.6"/>
<text x="223.30" y="687.97" font-size="4.5" text-anchor="end" font-weight="bold" textLength="1.91" lengthAdjust="spacingAndGlyphs" fill="#111">5</text>
<line x1="225.70" y1="671.00" x2="227.20" y2="671.00" stroke="#444" stroke-width="0.6"/>
<text x="223.30" y="672.62" font-size="4.5" text-anchor="end" font-weight="bold" textLength="3.82" lengthAdjust="spacingAndGlyphs" fill="#111">10</text>
<line x1="225.70" y1="655.65" x2="227.20" y2="655.65" stroke="#444" stroke-width="0.6"/>
<text x="223.30" y="657.27" font-size="4.5" text-anchor="end" font-weight="bold" textLength="3.82" lengthAdjust="spacingAndGlyphs" fill="#111">15</text>
<line x1="225.70" y1="640.30" x2="227.20" y2="640.30" stroke="#444" stroke-width="0.6"/>
<text x="223.30" y="641.92" font-size="4.5" text-anchor="end" font-weight="bold" textLength="3.82" lengthAdjust="spacingAndGlyphs" fill="#111">20</text>
<line x1="225.70" y1="624.95" x2="227.20" y2="624.95" stroke="#444" stroke-width="0.6"/>
<text x="223.30" y="626.57" font-size="4.5" text-anchor="end" font-weight="bold" textLength="3.82" lengthAdjust="spacingAndGlyphs" fill="#111">25</text>
<line x1="225.70" y1="609.60" x2="227.20" y2="609.60" stroke="#444" stroke-width="0.6"/>
<text x="223.30" y="611.22" font-size="4.5" text-anchor="end" font-weight="bold" textLength="3.82" lengthAdjust="spacingAndGlyphs" fill="#111">30</text>
<line x1="227.20" y1="701.70" x2="314.70" y2="701.70" stroke="#444" stroke-width="0.7"/>
<line x1="245.35" y1="690.34" x2="245.35" y2="681.75" stroke="#777" stroke-width="0.65"/>
<line x1="243.55" y1="681.75" x2="247.15" y2="681.75" stroke="#777" stroke-width="0.65"/>
<rect x="238.80" y="690.34" width="13.10" height="11.36" fill="#080808"/>
<line x1="262.85" y1="672.54" x2="262.85" y2="657.49" stroke="#777" stroke-width="0.65"/>
<line x1="261.05" y1="657.49" x2="264.65" y2="657.49" stroke="#777" stroke-width="0.65"/>
<rect x="256.50" y="672.54" width="12.70" height="29.16" fill="#080808"/>
<text x="262.85" y="660.25" font-size="10.5" text-anchor="middle" font-weight="bold" fill="#111" letter-spacing="0.3">*</text>
<line x1="280.40" y1="658.11" x2="280.40" y2="645.52" stroke="#777" stroke-width="0.65"/>
<line x1="278.60" y1="645.52" x2="282.20" y2="645.52" stroke="#777" stroke-width="0.65"/>
<rect x="273.80" y="658.11" width="13.20" height="43.59" fill="#080808"/>
<text x="280.40" y="648.27" font-size="10.5" text-anchor="middle" font-weight="bold" fill="#111" letter-spacing="0.3">***</text>
<line x1="297.95" y1="633.55" x2="297.95" y2="614.21" stroke="#777" stroke-width="0.65"/>
<line x1="296.15" y1="614.21" x2="299.75" y2="614.21" stroke="#777" stroke-width="0.65"/>
<rect x="291.60" y="633.55" width="12.70" height="68.15" fill="#080808"/>
<text x="297.95" y="616.96" font-size="10.5" text-anchor="middle" font-weight="bold" fill="#111" letter-spacing="0.3">***</text>
<text x="245.40" y="712.00" font-size="6.8" text-anchor="middle" textLength="20.8" lengthAdjust="spacingAndGlyphs" fill="#111" stroke="#111" stroke-width="0.3">Control</text>
<text x="262.20" y="712.00" font-size="6.8" text-anchor="middle" textLength="8.2" lengthAdjust="spacingAndGlyphs" fill="#111" stroke="#111" stroke-width="0.3">RA</text>
<text x="292.50" y="712.00" font-size="6.8" text-anchor="middle" textLength="34.2" lengthAdjust="spacingAndGlyphs" fill="#111" stroke="#111" stroke-width="0.3">KynRA+Kyn</text>
<text x="216.00" y="655.30" font-size="6.5" text-anchor="middle" textLength="80.6" lengthAdjust="spacingAndGlyphs" fill="#111" stroke="#111" stroke-width="0.3" transform="rotate(-90 216 655.3)">Differentiation histology (%)</text>
<text x="317.70" y="572.10" font-size="16" text-anchor="start" font-weight="bold" fill="#000">L</text>
<text x="372.70" y="574.50" font-size="8.4" text-anchor="middle" textLength="31" lengthAdjust="spacingAndGlyphs" fill="#111" stroke="#111" stroke-width="0.3">BE(2)-C</text>
<line x1="357.00" y1="576.80" x2="388.40" y2="576.80" stroke="#666" stroke-width="0.7"/>
<rect x="323.2" y="580.2" width="98.8" height="74.0" filter="url(#texL)"/>
<rect x="323.2" y="655.9" width="98.8" height="75.1" filter="url(#texL)"/>
<rect x="322.00" y="654.50" width="101.00" height="1.60" fill="#fff"/>
<g filter="url(#bl07)">
<path d="M400 603 C404 608 404 618 403 627 C403 632 405 636 408 638 L411 636 C409 630 409 622 410 613 C410 606 407 601 404 598 Z" fill="#eecbe6" opacity="0.55"/>
<path d="M400 603 C404 608 404 618 403 627 C403 632 405 636 408 638 M411 636 C409 630 409 622 410 613 C410 606 407 601 404 598" stroke="#fbeefa" stroke-width="1" fill="none"/>
<path d="M392 582 C396 585 400 589 404 594 L406 592 C403 588 399 584 396 581 Z" fill="#f6e2f2" opacity="0.9"/>
</g>
<text x="325.80" y="589.60" font-size="8.4" text-anchor="start" font-weight="bold" textLength="30.7" lengthAdjust="spacingAndGlyphs" fill="#111">Control</text>
<line x1="403.00" y1="649.20" x2="416.50" y2="649.20" stroke="#000" stroke-width="1.6"/>
<g filter="url(#bl1)">
<path d="M401 656 L422 656 L422 731 L390 731 C393 712 397 690 401 656 Z" fill="#e0b0d6" opacity="0.8"/>
<path d="M410 660 C408 680 404 700 400 728" stroke="#f4e2f0" stroke-width="1.6" fill="none" opacity="0.9"/>
<path d="M416 662 C414 684 411 705 408 730" stroke="#f0d6ea" stroke-width="1.2" fill="none" opacity="0.8"/>
<path d="M420 657 C417 668 414 676 412 690" stroke="#fbf0fa" stroke-width="2.2" fill="none" opacity="0.9"/>
<path d="M405 668 C403 690 399 705 396 725" stroke="#f7e6f4" stroke-width="1.0" fill="none" opacity="0.8"/>
<path d="M419 690 C417 703 415 715 413 731" stroke="#f7e6f4" stroke-width="1.4" fill="none" opacity="0.8"/>
<path d="M404 661 L414 660 L421 658" stroke="#faeef8" stroke-width="1.4" fill="none" opacity="0.8"/>
<path d="M325 712 L333 705 L338 708 M328 722 L336 716 L344 718" stroke="#f4e6f2" stroke-width="1.2" fill="none"/>
</g>
<text x="325.80" y="664.60" font-size="8.4" text-anchor="start" font-weight="bold" textLength="17.2" lengthAdjust="spacingAndGlyphs" fill="#111">Kyn</text>
<line x1="361.90" y1="665.90" x2="360.32" y2="670.31" stroke="#000" stroke-width="1.3"/>
<polygon points="359.10,673.70 358.53,669.67 362.10,670.95" fill="#000"/>
<line x1="372.50" y1="672.80" x2="371.41" y2="676.17" stroke="#000" stroke-width="1.3"/>
<polygon points="370.30,679.60 369.60,675.59 373.22,676.76" fill="#000"/>
<line x1="378.20" y1="677.50" x2="377.08" y2="681.44" stroke="#000" stroke-width="1.3"/>
<polygon points="376.10,684.90 375.25,680.92 378.91,681.96" fill="#000"/>
<line x1="404.60" y1="725.10" x2="417.30" y2="725.10" stroke="#000" stroke-width="1.6"/>
<line x1="443.90" y1="608.00" x2="443.90" y2="703.40" stroke="#444" stroke-width="0.7"/>
<line x1="442.40" y1="703.40" x2="443.90" y2="703.40" stroke="#444" stroke-width="0.6"/>
<text x="440.00" y="704.98" font-size="4.375" text-anchor="end" font-weight="bold" textLength="1.86" lengthAdjust="spacingAndGlyphs" fill="#111">0</text>
<line x1="442.40" y1="691.86" x2="443.90" y2="691.86" stroke="#444" stroke-width="0.6"/>
<text x="440.00" y="693.44" font-size="4.375" text-anchor="end" font-weight="bold" textLength="1.86" lengthAdjust="spacingAndGlyphs" fill="#111">2</text>
<line x1="442.40" y1="680.32" x2="443.90" y2="680.32" stroke="#444" stroke-width="0.6"/>
<text x="440.00" y="681.89" font-size="4.375" text-anchor="end" font-weight="bold" textLength="1.86" lengthAdjust="spacingAndGlyphs" fill="#111">4</text>
<line x1="442.40" y1="668.78" x2="443.90" y2="668.78" stroke="#444" stroke-width="0.6"/>
<text x="440.00" y="670.36" font-size="4.375" text-anchor="end" font-weight="bold" textLength="1.86" lengthAdjust="spacingAndGlyphs" fill="#111">6</text>
<line x1="442.40" y1="657.24" x2="443.90" y2="657.24" stroke="#444" stroke-width="0.6"/>
<text x="440.00" y="658.82" font-size="4.375" text-anchor="end" font-weight="bold" textLength="1.86" lengthAdjust="spacingAndGlyphs" fill="#111">8</text>
<line x1="442.40" y1="645.70" x2="443.90" y2="645.70" stroke="#444" stroke-width="0.6"/>
<text x="440.00" y="647.27" font-size="4.375" text-anchor="end" font-weight="bold" textLength="3.72" lengthAdjust="spacingAndGlyphs" fill="#111">10</text>
<line x1="442.40" y1="634.16" x2="443.90" y2="634.16" stroke="#444" stroke-width="0.6"/>
<text x="440.00" y="635.74" font-size="4.375" text-anchor="end" font-weight="bold" textLength="3.72" lengthAdjust="spacingAndGlyphs" fill="#111">12</text>
<line x1="442.40" y1="622.62" x2="443.90" y2="622.62" stroke="#444" stroke-width="0.6"/>
<text x="440.00" y="624.20" font-size="4.375" text-anchor="end" font-weight="bold" textLength="3.72" lengthAdjust="spacingAndGlyphs" fill="#111">14</text>
<line x1="442.40" y1="611.08" x2="443.90" y2="611.08" stroke="#444" stroke-width="0.6"/>
<text x="440.00" y="612.65" font-size="4.375" text-anchor="end" font-weight="bold" textLength="3.72" lengthAdjust="spacingAndGlyphs" fill="#111">16</text>
<line x1="443.90" y1="703.40" x2="516.00" y2="703.40" stroke="#444" stroke-width="0.7"/>
<rect x="459.00" y="697.63" width="14.60" height="5.77" fill="#080808"/>
<line x1="495.15" y1="644.83" x2="495.15" y2="623.77" stroke="#777" stroke-width="0.65"/>
<line x1="493.15" y1="623.77" x2="497.15" y2="623.77" stroke="#777" stroke-width="0.65"/>
<rect x="488.10" y="644.83" width="14.10" height="58.57" fill="#080808"/>
<text x="495.40" y="625.56" font-size="10.5" text-anchor="middle" font-weight="bold" fill="#111" letter-spacing="0.3">***</text>
<text x="466.30" y="714.10" font-size="6.8" text-anchor="middle" textLength="21.8" lengthAdjust="spacingAndGlyphs" fill="#111" stroke="#111" stroke-width="0.3">Control</text>
<text x="494.75" y="714.10" font-size="6.8" text-anchor="middle" textLength="12.1" lengthAdjust="spacingAndGlyphs" fill="#111" stroke="#111" stroke-width="0.3">Kyn</text>
<text x="432.20" y="656.50" font-size="6.7" text-anchor="middle" textLength="79.7" lengthAdjust="spacingAndGlyphs" fill="#111" stroke="#111" stroke-width="0.3" transform="rotate(-90 432.2 656.5)">Differentiation histology (%)</text>
</svg></body></html>
